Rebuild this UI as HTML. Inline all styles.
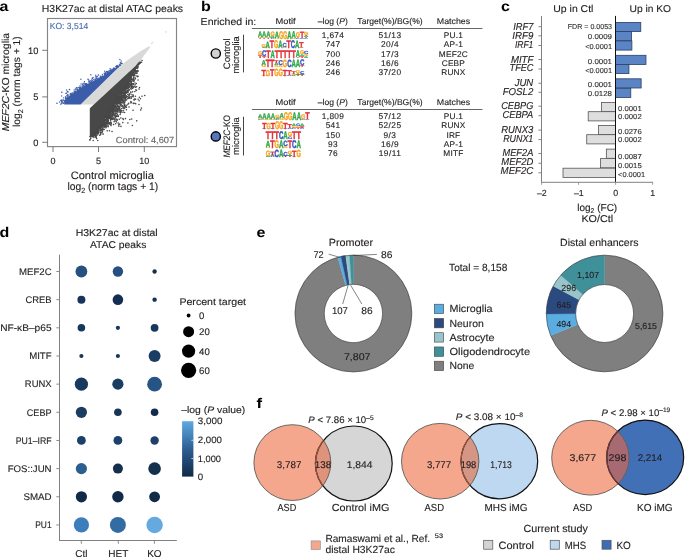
<!DOCTYPE html>
<html><head><meta charset="utf-8"><style>
html,body{margin:0;padding:0;background:#fff;}
svg{display:block;}
text{font-family:"Liberation Sans",sans-serif;}
</style></head><body>
<svg style="will-change:transform;text-rendering:geometricPrecision" width="685" height="557" viewBox="0 0 685 557" font-family="Liberation Sans, sans-serif">
<rect width="685" height="557" fill="#fff"/>
<g fill="#231f20">
<text x="-0.40" y="11.30" font-size="14" textLength="8.90" lengthAdjust="spacingAndGlyphs" fill="#000" font-weight="bold">a</text>
<text x="41.80" y="11.80" font-size="10.2" textLength="141.30" lengthAdjust="spacingAndGlyphs" stroke="#231f20" stroke-width="0.13">H3K27ac at distal ATAC peaks</text>
<rect x="47.50" y="18.50" width="129.00" height="128.10" fill="none" stroke="#858585" stroke-width="1.15" />
<path d="M80.30,104.60 L121.50,65.20 L124.00,62.80 L132.00,57.00 L140.20,51.40 L146.00,48.00 L149.00,46.30 L150.40,46.80 L148.50,49.80 L144.00,55.50 L139.50,62.30 L93.80,104.60Z" fill="#d9d9d9" stroke="none" stroke-width="0.6"/>
<path d="M64.20,104.60 L80.50,104.60 L121.60,64.60 L121.20,64.40 L118.40,66.30 L115.00,68.50 L112.20,70.40 L109.00,72.50 L106.10,74.50 L102.00,76.50 L97.90,78.60 L94.00,80.50 L90.80,82.60 L87.00,84.00 L83.60,86.00 L79.00,89.00 L75.40,91.90 L70.30,95.00 L67.00,97.50 L64.20,101.20Z" fill="#3b5ca9" stroke="none" stroke-width="0.6"/>
<circle cx="110.89" cy="71.38" r="0.70" fill="#3b5ca9" stroke="none" stroke-width="0.8" />
<circle cx="120.13" cy="65.09" r="0.70" fill="#3b5ca9" stroke="none" stroke-width="0.8" />
<circle cx="107.98" cy="73.49" r="0.70" fill="#3b5ca9" stroke="none" stroke-width="0.8" />
<circle cx="91.16" cy="82.60" r="0.70" fill="#3b5ca9" stroke="none" stroke-width="0.8" />
<circle cx="110.69" cy="70.15" r="0.70" fill="#3b5ca9" stroke="none" stroke-width="0.8" />
<circle cx="86.10" cy="83.92" r="0.70" fill="#3b5ca9" stroke="none" stroke-width="0.8" />
<circle cx="119.52" cy="64.88" r="0.70" fill="#3b5ca9" stroke="none" stroke-width="0.8" />
<circle cx="63.41" cy="103.32" r="0.70" fill="#3b5ca9" stroke="none" stroke-width="0.8" />
<circle cx="117.53" cy="67.07" r="0.70" fill="#3b5ca9" stroke="none" stroke-width="0.8" />
<circle cx="64.16" cy="102.02" r="0.70" fill="#3b5ca9" stroke="none" stroke-width="0.8" />
<circle cx="118.25" cy="66.60" r="0.70" fill="#3b5ca9" stroke="none" stroke-width="0.8" />
<circle cx="66.29" cy="98.47" r="0.70" fill="#3b5ca9" stroke="none" stroke-width="0.8" />
<circle cx="109.91" cy="71.32" r="0.70" fill="#3b5ca9" stroke="none" stroke-width="0.8" />
<circle cx="63.15" cy="103.09" r="0.70" fill="#3b5ca9" stroke="none" stroke-width="0.8" />
<circle cx="67.65" cy="97.09" r="0.70" fill="#3b5ca9" stroke="none" stroke-width="0.8" />
<circle cx="84.45" cy="81.72" r="0.70" fill="#3b5ca9" stroke="none" stroke-width="0.8" />
<circle cx="113.61" cy="69.21" r="0.70" fill="#3b5ca9" stroke="none" stroke-width="0.8" />
<circle cx="76.83" cy="89.15" r="0.70" fill="#3b5ca9" stroke="none" stroke-width="0.8" />
<circle cx="78.94" cy="87.55" r="0.70" fill="#3b5ca9" stroke="none" stroke-width="0.8" />
<circle cx="107.80" cy="71.46" r="0.70" fill="#3b5ca9" stroke="none" stroke-width="0.8" />
<circle cx="111.35" cy="71.21" r="0.70" fill="#3b5ca9" stroke="none" stroke-width="0.8" />
<circle cx="67.98" cy="91.98" r="0.70" fill="#3b5ca9" stroke="none" stroke-width="0.8" />
<circle cx="85.13" cy="84.48" r="0.70" fill="#3b5ca9" stroke="none" stroke-width="0.8" />
<circle cx="85.30" cy="84.73" r="0.70" fill="#3b5ca9" stroke="none" stroke-width="0.8" />
<circle cx="104.24" cy="73.47" r="0.70" fill="#3b5ca9" stroke="none" stroke-width="0.8" />
<circle cx="70.52" cy="93.56" r="0.70" fill="#3b5ca9" stroke="none" stroke-width="0.8" />
<circle cx="90.95" cy="82.62" r="0.70" fill="#3b5ca9" stroke="none" stroke-width="0.8" />
<circle cx="95.50" cy="79.69" r="0.70" fill="#3b5ca9" stroke="none" stroke-width="0.8" />
<circle cx="91.41" cy="81.82" r="0.70" fill="#3b5ca9" stroke="none" stroke-width="0.8" />
<circle cx="67.88" cy="97.04" r="0.70" fill="#3b5ca9" stroke="none" stroke-width="0.8" />
<circle cx="86.97" cy="84.26" r="0.70" fill="#3b5ca9" stroke="none" stroke-width="0.8" />
<circle cx="91.16" cy="82.50" r="0.70" fill="#3b5ca9" stroke="none" stroke-width="0.8" />
<circle cx="111.05" cy="70.83" r="0.70" fill="#3b5ca9" stroke="none" stroke-width="0.8" />
<circle cx="64.64" cy="100.72" r="0.70" fill="#3b5ca9" stroke="none" stroke-width="0.8" />
<circle cx="113.80" cy="67.98" r="0.70" fill="#3b5ca9" stroke="none" stroke-width="0.8" />
<circle cx="116.38" cy="66.54" r="0.70" fill="#3b5ca9" stroke="none" stroke-width="0.8" />
<circle cx="66.02" cy="96.92" r="0.70" fill="#3b5ca9" stroke="none" stroke-width="0.8" />
<circle cx="120.30" cy="65.01" r="0.70" fill="#3b5ca9" stroke="none" stroke-width="0.8" />
<circle cx="116.32" cy="67.62" r="0.70" fill="#3b5ca9" stroke="none" stroke-width="0.8" />
<circle cx="109.02" cy="72.55" r="0.70" fill="#3b5ca9" stroke="none" stroke-width="0.8" />
<circle cx="61.39" cy="103.29" r="0.70" fill="#3b5ca9" stroke="none" stroke-width="0.8" />
<circle cx="119.55" cy="64.83" r="0.70" fill="#3b5ca9" stroke="none" stroke-width="0.8" />
<circle cx="121.16" cy="61.03" r="0.70" fill="#3b5ca9" stroke="none" stroke-width="0.8" />
<circle cx="71.10" cy="93.57" r="0.70" fill="#3b5ca9" stroke="none" stroke-width="0.8" />
<circle cx="111.03" cy="69.35" r="0.70" fill="#3b5ca9" stroke="none" stroke-width="0.8" />
<circle cx="99.12" cy="77.91" r="0.70" fill="#3b5ca9" stroke="none" stroke-width="0.8" />
<circle cx="61.22" cy="100.42" r="0.70" fill="#3b5ca9" stroke="none" stroke-width="0.8" />
<circle cx="82.03" cy="85.98" r="0.70" fill="#3b5ca9" stroke="none" stroke-width="0.8" />
<circle cx="89.67" cy="81.56" r="0.70" fill="#3b5ca9" stroke="none" stroke-width="0.8" />
<circle cx="108.77" cy="72.37" r="0.70" fill="#3b5ca9" stroke="none" stroke-width="0.8" />
<circle cx="59.63" cy="102.00" r="0.70" fill="#3b5ca9" stroke="none" stroke-width="0.8" />
<circle cx="104.24" cy="75.33" r="0.70" fill="#3b5ca9" stroke="none" stroke-width="0.8" />
<circle cx="93.14" cy="77.56" r="0.70" fill="#3b5ca9" stroke="none" stroke-width="0.8" />
<circle cx="75.50" cy="91.65" r="0.70" fill="#3b5ca9" stroke="none" stroke-width="0.8" />
<circle cx="63.47" cy="97.86" r="0.70" fill="#3b5ca9" stroke="none" stroke-width="0.8" />
<circle cx="110.11" cy="68.77" r="0.70" fill="#3b5ca9" stroke="none" stroke-width="0.8" />
<circle cx="74.19" cy="92.74" r="0.70" fill="#3b5ca9" stroke="none" stroke-width="0.8" />
<circle cx="107.35" cy="72.81" r="0.70" fill="#3b5ca9" stroke="none" stroke-width="0.8" />
<circle cx="66.86" cy="95.35" r="0.70" fill="#3b5ca9" stroke="none" stroke-width="0.8" />
<circle cx="121.50" cy="63.56" r="0.70" fill="#3b5ca9" stroke="none" stroke-width="0.8" />
<circle cx="116.75" cy="65.77" r="0.70" fill="#3b5ca9" stroke="none" stroke-width="0.8" />
<circle cx="77.87" cy="90.03" r="0.70" fill="#3b5ca9" stroke="none" stroke-width="0.8" />
<circle cx="60.90" cy="104.28" r="0.70" fill="#3b5ca9" stroke="none" stroke-width="0.8" />
<circle cx="71.11" cy="94.61" r="0.70" fill="#3b5ca9" stroke="none" stroke-width="0.8" />
<circle cx="121.95" cy="63.23" r="0.70" fill="#3b5ca9" stroke="none" stroke-width="0.8" />
<circle cx="61.46" cy="101.25" r="0.70" fill="#3b5ca9" stroke="none" stroke-width="0.8" />
<circle cx="102.36" cy="74.37" r="0.70" fill="#3b5ca9" stroke="none" stroke-width="0.8" />
<circle cx="95.21" cy="78.16" r="0.70" fill="#3b5ca9" stroke="none" stroke-width="0.8" />
<circle cx="95.73" cy="75.13" r="0.70" fill="#3b5ca9" stroke="none" stroke-width="0.8" />
<circle cx="96.44" cy="77.90" r="0.70" fill="#3b5ca9" stroke="none" stroke-width="0.8" />
<circle cx="82.75" cy="84.65" r="0.70" fill="#3b5ca9" stroke="none" stroke-width="0.8" />
<circle cx="80.42" cy="88.22" r="0.70" fill="#3b5ca9" stroke="none" stroke-width="0.8" />
<circle cx="121.70" cy="63.43" r="0.70" fill="#3b5ca9" stroke="none" stroke-width="0.8" />
<circle cx="114.67" cy="68.70" r="0.70" fill="#3b5ca9" stroke="none" stroke-width="0.8" />
<circle cx="107.49" cy="72.37" r="0.70" fill="#3b5ca9" stroke="none" stroke-width="0.8" />
<circle cx="81.11" cy="83.95" r="0.70" fill="#3b5ca9" stroke="none" stroke-width="0.8" />
<circle cx="65.76" cy="98.19" r="0.70" fill="#3b5ca9" stroke="none" stroke-width="0.8" />
<circle cx="112.10" cy="69.96" r="0.70" fill="#3b5ca9" stroke="none" stroke-width="0.8" />
<circle cx="91.36" cy="81.38" r="0.70" fill="#3b5ca9" stroke="none" stroke-width="0.8" />
<circle cx="97.13" cy="78.51" r="0.70" fill="#3b5ca9" stroke="none" stroke-width="0.8" />
<circle cx="65.98" cy="93.35" r="0.70" fill="#3b5ca9" stroke="none" stroke-width="0.8" />
<circle cx="100.59" cy="76.81" r="0.70" fill="#3b5ca9" stroke="none" stroke-width="0.8" />
<circle cx="101.01" cy="77.02" r="0.70" fill="#3b5ca9" stroke="none" stroke-width="0.8" />
<circle cx="62.04" cy="101.31" r="0.70" fill="#3b5ca9" stroke="none" stroke-width="0.8" />
<circle cx="75.26" cy="91.43" r="0.70" fill="#3b5ca9" stroke="none" stroke-width="0.8" />
<circle cx="90.94" cy="82.78" r="0.70" fill="#3b5ca9" stroke="none" stroke-width="0.8" />
<circle cx="112.03" cy="70.69" r="0.70" fill="#3b5ca9" stroke="none" stroke-width="0.8" />
<circle cx="94.92" cy="79.58" r="0.70" fill="#3b5ca9" stroke="none" stroke-width="0.8" />
<circle cx="90.83" cy="74.70" r="0.70" fill="#3b5ca9" stroke="none" stroke-width="0.8" />
<circle cx="63.86" cy="100.26" r="0.70" fill="#3b5ca9" stroke="none" stroke-width="0.8" />
<circle cx="117.27" cy="66.20" r="0.70" fill="#3b5ca9" stroke="none" stroke-width="0.8" />
<circle cx="65.87" cy="97.94" r="0.70" fill="#3b5ca9" stroke="none" stroke-width="0.8" />
<circle cx="77.39" cy="90.59" r="0.70" fill="#3b5ca9" stroke="none" stroke-width="0.8" />
<circle cx="117.89" cy="65.48" r="0.70" fill="#3b5ca9" stroke="none" stroke-width="0.8" />
<circle cx="102.41" cy="76.33" r="0.70" fill="#3b5ca9" stroke="none" stroke-width="0.8" />
<circle cx="65.38" cy="99.04" r="0.70" fill="#3b5ca9" stroke="none" stroke-width="0.8" />
<circle cx="61.18" cy="100.55" r="0.70" fill="#3b5ca9" stroke="none" stroke-width="0.8" />
<circle cx="73.00" cy="93.09" r="0.70" fill="#3b5ca9" stroke="none" stroke-width="0.8" />
<circle cx="85.40" cy="84.84" r="0.70" fill="#3b5ca9" stroke="none" stroke-width="0.8" />
<circle cx="102.28" cy="75.98" r="0.70" fill="#3b5ca9" stroke="none" stroke-width="0.8" />
<circle cx="93.39" cy="79.60" r="0.70" fill="#3b5ca9" stroke="none" stroke-width="0.8" />
<circle cx="80.29" cy="87.80" r="0.70" fill="#3b5ca9" stroke="none" stroke-width="0.8" />
<circle cx="85.96" cy="83.83" r="0.70" fill="#3b5ca9" stroke="none" stroke-width="0.8" />
<circle cx="63.20" cy="100.07" r="0.70" fill="#3b5ca9" stroke="none" stroke-width="0.8" />
<circle cx="104.87" cy="73.29" r="0.70" fill="#3b5ca9" stroke="none" stroke-width="0.8" />
<circle cx="107.64" cy="73.58" r="0.70" fill="#3b5ca9" stroke="none" stroke-width="0.8" />
<circle cx="77.37" cy="89.46" r="0.70" fill="#3b5ca9" stroke="none" stroke-width="0.8" />
<circle cx="71.65" cy="94.18" r="0.70" fill="#3b5ca9" stroke="none" stroke-width="0.8" />
<circle cx="91.65" cy="79.99" r="0.70" fill="#3b5ca9" stroke="none" stroke-width="0.8" />
<circle cx="80.88" cy="79.18" r="0.70" fill="#3b5ca9" stroke="none" stroke-width="0.8" />
<circle cx="112.42" cy="69.66" r="0.70" fill="#3b5ca9" stroke="none" stroke-width="0.8" />
<circle cx="96.78" cy="78.23" r="0.70" fill="#3b5ca9" stroke="none" stroke-width="0.8" />
<circle cx="86.05" cy="84.84" r="0.70" fill="#3b5ca9" stroke="none" stroke-width="0.8" />
<circle cx="61.22" cy="100.30" r="0.70" fill="#3b5ca9" stroke="none" stroke-width="0.8" />
<circle cx="74.20" cy="90.03" r="0.70" fill="#3b5ca9" stroke="none" stroke-width="0.8" />
<circle cx="107.97" cy="72.04" r="0.70" fill="#3b5ca9" stroke="none" stroke-width="0.8" />
<circle cx="92.57" cy="80.80" r="0.70" fill="#3b5ca9" stroke="none" stroke-width="0.8" />
<circle cx="88.90" cy="81.46" r="0.70" fill="#3b5ca9" stroke="none" stroke-width="0.8" />
<circle cx="86.59" cy="84.03" r="0.70" fill="#3b5ca9" stroke="none" stroke-width="0.8" />
<circle cx="83.55" cy="85.72" r="0.70" fill="#3b5ca9" stroke="none" stroke-width="0.8" />
<circle cx="82.29" cy="86.91" r="0.70" fill="#3b5ca9" stroke="none" stroke-width="0.8" />
<circle cx="83.14" cy="85.25" r="0.70" fill="#3b5ca9" stroke="none" stroke-width="0.8" />
<circle cx="106.34" cy="74.58" r="0.70" fill="#3b5ca9" stroke="none" stroke-width="0.8" />
<circle cx="104.95" cy="75.06" r="0.70" fill="#3b5ca9" stroke="none" stroke-width="0.8" />
<circle cx="107.14" cy="73.96" r="0.70" fill="#3b5ca9" stroke="none" stroke-width="0.8" />
<circle cx="75.99" cy="91.01" r="0.70" fill="#3b5ca9" stroke="none" stroke-width="0.8" />
<circle cx="100.40" cy="76.14" r="0.70" fill="#3b5ca9" stroke="none" stroke-width="0.8" />
<circle cx="100.78" cy="77.08" r="0.70" fill="#3b5ca9" stroke="none" stroke-width="0.8" />
<circle cx="61.71" cy="95.90" r="0.70" fill="#3b5ca9" stroke="none" stroke-width="0.8" />
<circle cx="119.88" cy="59.47" r="0.70" fill="#3b5ca9" stroke="none" stroke-width="0.8" />
<circle cx="67.65" cy="94.65" r="0.70" fill="#3b5ca9" stroke="none" stroke-width="0.8" />
<circle cx="113.93" cy="68.40" r="0.70" fill="#3b5ca9" stroke="none" stroke-width="0.8" />
<circle cx="120.54" cy="63.04" r="0.70" fill="#3b5ca9" stroke="none" stroke-width="0.8" />
<circle cx="110.82" cy="71.12" r="0.70" fill="#3b5ca9" stroke="none" stroke-width="0.8" />
<circle cx="104.57" cy="71.15" r="0.70" fill="#3b5ca9" stroke="none" stroke-width="0.8" />
<circle cx="70.17" cy="94.19" r="0.70" fill="#3b5ca9" stroke="none" stroke-width="0.8" />
<circle cx="79.98" cy="86.06" r="0.70" fill="#3b5ca9" stroke="none" stroke-width="0.8" />
<circle cx="105.73" cy="74.07" r="0.70" fill="#3b5ca9" stroke="none" stroke-width="0.8" />
<circle cx="97.36" cy="76.55" r="0.70" fill="#3b5ca9" stroke="none" stroke-width="0.8" />
<circle cx="105.41" cy="73.27" r="0.70" fill="#3b5ca9" stroke="none" stroke-width="0.8" />
<circle cx="105.76" cy="72.42" r="0.70" fill="#3b5ca9" stroke="none" stroke-width="0.8" />
<circle cx="90.15" cy="80.67" r="0.70" fill="#3b5ca9" stroke="none" stroke-width="0.8" />
<circle cx="107.04" cy="73.28" r="0.70" fill="#3b5ca9" stroke="none" stroke-width="0.8" />
<circle cx="80.47" cy="87.25" r="0.70" fill="#3b5ca9" stroke="none" stroke-width="0.8" />
<circle cx="85.93" cy="83.68" r="0.70" fill="#3b5ca9" stroke="none" stroke-width="0.8" />
<circle cx="66.57" cy="89.98" r="0.70" fill="#3b5ca9" stroke="none" stroke-width="0.8" />
<circle cx="77.31" cy="87.98" r="0.70" fill="#3b5ca9" stroke="none" stroke-width="0.8" />
<circle cx="88.57" cy="80.01" r="0.70" fill="#3b5ca9" stroke="none" stroke-width="0.8" />
<circle cx="62.12" cy="100.29" r="0.70" fill="#3b5ca9" stroke="none" stroke-width="0.8" />
<circle cx="117.25" cy="67.11" r="0.70" fill="#3b5ca9" stroke="none" stroke-width="0.8" />
<circle cx="108.47" cy="72.11" r="0.70" fill="#3b5ca9" stroke="none" stroke-width="0.8" />
<circle cx="85.53" cy="85.16" r="0.70" fill="#3b5ca9" stroke="none" stroke-width="0.8" />
<circle cx="89.14" cy="82.49" r="0.70" fill="#3b5ca9" stroke="none" stroke-width="0.8" />
<circle cx="79.48" cy="88.25" r="0.70" fill="#3b5ca9" stroke="none" stroke-width="0.8" />
<circle cx="112.33" cy="69.09" r="0.70" fill="#3b5ca9" stroke="none" stroke-width="0.8" />
<circle cx="104.60" cy="74.31" r="0.70" fill="#3b5ca9" stroke="none" stroke-width="0.8" />
<circle cx="72.27" cy="93.04" r="0.70" fill="#3b5ca9" stroke="none" stroke-width="0.8" />
<circle cx="115.82" cy="66.57" r="0.70" fill="#3b5ca9" stroke="none" stroke-width="0.8" />
<circle cx="74.80" cy="91.93" r="0.70" fill="#3b5ca9" stroke="none" stroke-width="0.8" />
<circle cx="67.61" cy="95.85" r="0.70" fill="#3b5ca9" stroke="none" stroke-width="0.8" />
<circle cx="74.18" cy="91.72" r="0.70" fill="#3b5ca9" stroke="none" stroke-width="0.8" />
<circle cx="82.71" cy="83.83" r="0.70" fill="#3b5ca9" stroke="none" stroke-width="0.8" />
<circle cx="79.10" cy="87.39" r="0.70" fill="#3b5ca9" stroke="none" stroke-width="0.8" />
<circle cx="68.09" cy="95.24" r="0.70" fill="#3b5ca9" stroke="none" stroke-width="0.8" />
<circle cx="79.49" cy="88.54" r="0.70" fill="#3b5ca9" stroke="none" stroke-width="0.8" />
<circle cx="85.49" cy="84.90" r="0.70" fill="#3b5ca9" stroke="none" stroke-width="0.8" />
<circle cx="105.73" cy="74.88" r="0.70" fill="#3b5ca9" stroke="none" stroke-width="0.8" />
<circle cx="109.00" cy="70.83" r="0.70" fill="#3b5ca9" stroke="none" stroke-width="0.8" />
<circle cx="106.16" cy="73.97" r="0.70" fill="#3b5ca9" stroke="none" stroke-width="0.8" />
<circle cx="117.81" cy="66.65" r="0.70" fill="#3b5ca9" stroke="none" stroke-width="0.8" />
<circle cx="57.00" cy="103.30" r="0.80" fill="#3b5ca9" stroke="none" stroke-width="0.8" />
<circle cx="61.80" cy="92.30" r="0.80" fill="#3b5ca9" stroke="none" stroke-width="0.8" />
<circle cx="66.40" cy="93.20" r="0.80" fill="#3b5ca9" stroke="none" stroke-width="0.8" />
<circle cx="67.50" cy="91.60" r="0.80" fill="#3b5ca9" stroke="none" stroke-width="0.8" />
<circle cx="69.50" cy="89.60" r="0.80" fill="#3b5ca9" stroke="none" stroke-width="0.8" />
<circle cx="75.50" cy="89.10" r="0.80" fill="#3b5ca9" stroke="none" stroke-width="0.8" />
<circle cx="76.50" cy="87.80" r="0.80" fill="#3b5ca9" stroke="none" stroke-width="0.8" />
<circle cx="84.00" cy="83.40" r="0.80" fill="#3b5ca9" stroke="none" stroke-width="0.8" />
<circle cx="88.00" cy="79.20" r="0.80" fill="#3b5ca9" stroke="none" stroke-width="0.8" />
<circle cx="92.30" cy="78.40" r="0.80" fill="#3b5ca9" stroke="none" stroke-width="0.8" />
<circle cx="96.00" cy="76.60" r="0.80" fill="#3b5ca9" stroke="none" stroke-width="0.8" />
<circle cx="98.40" cy="75.00" r="0.80" fill="#3b5ca9" stroke="none" stroke-width="0.8" />
<circle cx="106.50" cy="71.50" r="0.80" fill="#3b5ca9" stroke="none" stroke-width="0.8" />
<circle cx="110.00" cy="70.50" r="0.80" fill="#3b5ca9" stroke="none" stroke-width="0.8" />
<circle cx="114.50" cy="68.60" r="0.80" fill="#3b5ca9" stroke="none" stroke-width="0.8" />
<circle cx="117.50" cy="66.80" r="0.80" fill="#3b5ca9" stroke="none" stroke-width="0.8" />
<circle cx="120.30" cy="63.00" r="0.80" fill="#3b5ca9" stroke="none" stroke-width="0.8" />
<circle cx="62.20" cy="102.40" r="0.80" fill="#3b5ca9" stroke="none" stroke-width="0.8" />
<circle cx="65.50" cy="97.00" r="0.80" fill="#3b5ca9" stroke="none" stroke-width="0.8" />
<path d="M89.80,108.30 L139.50,62.30 L139.60,62.30 L137.00,66.00 L134.30,70.00 L129.00,80.00 L123.00,90.00 L116.50,100.00 L110.50,110.00 L104.00,120.00 L99.00,128.00 L95.00,134.00 L92.00,136.50 L89.80,137.00Z" fill="#484848" stroke="none" stroke-width="0.6"/>
<circle cx="130.92" cy="84.21" r="0.80" fill="#484848" stroke="none" stroke-width="0.8" />
<circle cx="120.51" cy="112.70" r="0.80" fill="#484848" stroke="none" stroke-width="0.8" />
<circle cx="95.64" cy="134.26" r="0.80" fill="#484848" stroke="none" stroke-width="0.8" />
<circle cx="132.95" cy="83.89" r="0.80" fill="#484848" stroke="none" stroke-width="0.8" />
<circle cx="106.50" cy="119.87" r="0.80" fill="#484848" stroke="none" stroke-width="0.8" />
<circle cx="137.28" cy="71.25" r="0.80" fill="#484848" stroke="none" stroke-width="0.8" />
<circle cx="130.93" cy="76.89" r="0.80" fill="#484848" stroke="none" stroke-width="0.8" />
<circle cx="111.77" cy="117.20" r="0.80" fill="#484848" stroke="none" stroke-width="0.8" />
<circle cx="111.29" cy="115.65" r="0.80" fill="#484848" stroke="none" stroke-width="0.8" />
<circle cx="115.15" cy="115.77" r="0.80" fill="#484848" stroke="none" stroke-width="0.8" />
<circle cx="120.05" cy="94.16" r="0.80" fill="#484848" stroke="none" stroke-width="0.8" />
<circle cx="103.98" cy="122.56" r="0.80" fill="#484848" stroke="none" stroke-width="0.8" />
<circle cx="107.14" cy="125.06" r="0.80" fill="#484848" stroke="none" stroke-width="0.8" />
<circle cx="116.49" cy="116.15" r="0.80" fill="#484848" stroke="none" stroke-width="0.8" />
<circle cx="115.58" cy="106.84" r="0.80" fill="#484848" stroke="none" stroke-width="0.8" />
<circle cx="106.32" cy="117.56" r="0.80" fill="#484848" stroke="none" stroke-width="0.8" />
<circle cx="94.13" cy="135.03" r="0.80" fill="#484848" stroke="none" stroke-width="0.8" />
<circle cx="95.94" cy="136.15" r="0.80" fill="#484848" stroke="none" stroke-width="0.8" />
<circle cx="118.91" cy="110.35" r="0.80" fill="#484848" stroke="none" stroke-width="0.8" />
<circle cx="125.73" cy="88.54" r="0.80" fill="#484848" stroke="none" stroke-width="0.8" />
<circle cx="112.28" cy="106.64" r="0.80" fill="#484848" stroke="none" stroke-width="0.8" />
<circle cx="123.63" cy="97.20" r="0.80" fill="#484848" stroke="none" stroke-width="0.8" />
<circle cx="125.58" cy="88.96" r="0.80" fill="#484848" stroke="none" stroke-width="0.8" />
<circle cx="112.74" cy="106.23" r="0.80" fill="#484848" stroke="none" stroke-width="0.8" />
<circle cx="106.15" cy="122.52" r="0.80" fill="#484848" stroke="none" stroke-width="0.8" />
<circle cx="109.99" cy="117.02" r="0.80" fill="#484848" stroke="none" stroke-width="0.8" />
<circle cx="112.19" cy="110.51" r="0.80" fill="#484848" stroke="none" stroke-width="0.8" />
<circle cx="117.11" cy="106.67" r="0.80" fill="#484848" stroke="none" stroke-width="0.8" />
<circle cx="102.55" cy="129.58" r="0.80" fill="#484848" stroke="none" stroke-width="0.8" />
<circle cx="95.94" cy="132.06" r="0.80" fill="#484848" stroke="none" stroke-width="0.8" />
<circle cx="138.75" cy="63.80" r="0.80" fill="#484848" stroke="none" stroke-width="0.8" />
<circle cx="120.47" cy="112.85" r="0.80" fill="#484848" stroke="none" stroke-width="0.8" />
<circle cx="129.80" cy="94.21" r="0.80" fill="#484848" stroke="none" stroke-width="0.8" />
<circle cx="102.34" cy="127.85" r="0.80" fill="#484848" stroke="none" stroke-width="0.8" />
<circle cx="111.98" cy="107.77" r="0.80" fill="#484848" stroke="none" stroke-width="0.8" />
<circle cx="140.34" cy="62.93" r="0.80" fill="#484848" stroke="none" stroke-width="0.8" />
<circle cx="115.05" cy="105.69" r="0.80" fill="#484848" stroke="none" stroke-width="0.8" />
<circle cx="106.22" cy="119.78" r="0.80" fill="#484848" stroke="none" stroke-width="0.8" />
<circle cx="107.11" cy="117.63" r="0.80" fill="#484848" stroke="none" stroke-width="0.8" />
<circle cx="134.46" cy="70.67" r="0.80" fill="#484848" stroke="none" stroke-width="0.8" />
<circle cx="127.58" cy="88.41" r="0.80" fill="#484848" stroke="none" stroke-width="0.8" />
<circle cx="120.25" cy="102.58" r="0.80" fill="#484848" stroke="none" stroke-width="0.8" />
<circle cx="131.39" cy="85.42" r="0.80" fill="#484848" stroke="none" stroke-width="0.8" />
<circle cx="105.46" cy="117.20" r="0.80" fill="#484848" stroke="none" stroke-width="0.8" />
<circle cx="118.94" cy="106.69" r="0.80" fill="#484848" stroke="none" stroke-width="0.8" />
<circle cx="122.20" cy="103.03" r="0.80" fill="#484848" stroke="none" stroke-width="0.8" />
<circle cx="131.44" cy="96.96" r="0.80" fill="#484848" stroke="none" stroke-width="0.8" />
<circle cx="108.62" cy="115.14" r="0.80" fill="#484848" stroke="none" stroke-width="0.8" />
<circle cx="98.90" cy="128.50" r="0.80" fill="#484848" stroke="none" stroke-width="0.8" />
<circle cx="126.04" cy="85.14" r="0.80" fill="#484848" stroke="none" stroke-width="0.8" />
<circle cx="137.04" cy="73.21" r="0.80" fill="#484848" stroke="none" stroke-width="0.8" />
<circle cx="119.04" cy="112.13" r="0.80" fill="#484848" stroke="none" stroke-width="0.8" />
<circle cx="107.04" cy="119.30" r="0.80" fill="#484848" stroke="none" stroke-width="0.8" />
<circle cx="104.41" cy="119.61" r="0.80" fill="#484848" stroke="none" stroke-width="0.8" />
<circle cx="121.81" cy="110.46" r="0.80" fill="#484848" stroke="none" stroke-width="0.8" />
<circle cx="110.43" cy="110.14" r="0.80" fill="#484848" stroke="none" stroke-width="0.8" />
<circle cx="125.35" cy="106.54" r="0.80" fill="#484848" stroke="none" stroke-width="0.8" />
<circle cx="129.21" cy="97.49" r="0.80" fill="#484848" stroke="none" stroke-width="0.8" />
<circle cx="138.88" cy="63.30" r="0.80" fill="#484848" stroke="none" stroke-width="0.8" />
<circle cx="103.99" cy="119.97" r="0.80" fill="#484848" stroke="none" stroke-width="0.8" />
<circle cx="114.32" cy="103.77" r="0.80" fill="#484848" stroke="none" stroke-width="0.8" />
<circle cx="125.55" cy="87.64" r="0.80" fill="#484848" stroke="none" stroke-width="0.8" />
<circle cx="128.11" cy="81.84" r="0.80" fill="#484848" stroke="none" stroke-width="0.8" />
<circle cx="133.97" cy="75.12" r="0.80" fill="#484848" stroke="none" stroke-width="0.8" />
<circle cx="130.84" cy="85.05" r="0.80" fill="#484848" stroke="none" stroke-width="0.8" />
<circle cx="129.79" cy="81.56" r="0.80" fill="#484848" stroke="none" stroke-width="0.8" />
<circle cx="137.59" cy="76.67" r="0.80" fill="#484848" stroke="none" stroke-width="0.8" />
<circle cx="116.10" cy="110.51" r="0.80" fill="#484848" stroke="none" stroke-width="0.8" />
<circle cx="144.69" cy="95.45" r="0.80" fill="#484848" stroke="none" stroke-width="0.8" />
<circle cx="116.50" cy="111.36" r="0.80" fill="#484848" stroke="none" stroke-width="0.8" />
<circle cx="108.07" cy="126.66" r="0.80" fill="#484848" stroke="none" stroke-width="0.8" />
<circle cx="107.02" cy="116.19" r="0.80" fill="#484848" stroke="none" stroke-width="0.8" />
<circle cx="97.38" cy="130.30" r="0.80" fill="#484848" stroke="none" stroke-width="0.8" />
<circle cx="112.32" cy="106.97" r="0.80" fill="#484848" stroke="none" stroke-width="0.8" />
<circle cx="128.04" cy="92.22" r="0.80" fill="#484848" stroke="none" stroke-width="0.8" />
<circle cx="101.24" cy="126.16" r="0.80" fill="#484848" stroke="none" stroke-width="0.8" />
<circle cx="113.86" cy="109.80" r="0.80" fill="#484848" stroke="none" stroke-width="0.8" />
<circle cx="105.89" cy="127.86" r="0.80" fill="#484848" stroke="none" stroke-width="0.8" />
<circle cx="138.56" cy="63.77" r="0.80" fill="#484848" stroke="none" stroke-width="0.8" />
<circle cx="113.99" cy="106.42" r="0.80" fill="#484848" stroke="none" stroke-width="0.8" />
<circle cx="129.38" cy="79.82" r="0.80" fill="#484848" stroke="none" stroke-width="0.8" />
<circle cx="112.05" cy="108.14" r="0.80" fill="#484848" stroke="none" stroke-width="0.8" />
<circle cx="122.98" cy="112.26" r="0.80" fill="#484848" stroke="none" stroke-width="0.8" />
<circle cx="128.91" cy="80.13" r="0.80" fill="#484848" stroke="none" stroke-width="0.8" />
<circle cx="115.14" cy="103.00" r="0.80" fill="#484848" stroke="none" stroke-width="0.8" />
<circle cx="110.15" cy="112.03" r="0.80" fill="#484848" stroke="none" stroke-width="0.8" />
<circle cx="131.26" cy="81.65" r="0.80" fill="#484848" stroke="none" stroke-width="0.8" />
<circle cx="123.17" cy="93.16" r="0.80" fill="#484848" stroke="none" stroke-width="0.8" />
<circle cx="126.53" cy="86.31" r="0.80" fill="#484848" stroke="none" stroke-width="0.8" />
<circle cx="132.37" cy="73.46" r="0.80" fill="#484848" stroke="none" stroke-width="0.8" />
<circle cx="108.89" cy="112.93" r="0.80" fill="#484848" stroke="none" stroke-width="0.8" />
<circle cx="115.08" cy="108.27" r="0.80" fill="#484848" stroke="none" stroke-width="0.8" />
<circle cx="135.04" cy="73.75" r="0.80" fill="#484848" stroke="none" stroke-width="0.8" />
<circle cx="111.80" cy="111.69" r="0.80" fill="#484848" stroke="none" stroke-width="0.8" />
<circle cx="120.81" cy="118.05" r="0.80" fill="#484848" stroke="none" stroke-width="0.8" />
<circle cx="134.77" cy="103.21" r="0.80" fill="#484848" stroke="none" stroke-width="0.8" />
<circle cx="131.44" cy="98.09" r="0.80" fill="#484848" stroke="none" stroke-width="0.8" />
<circle cx="102.73" cy="128.57" r="0.80" fill="#484848" stroke="none" stroke-width="0.8" />
<circle cx="117.78" cy="102.08" r="0.80" fill="#484848" stroke="none" stroke-width="0.8" />
<circle cx="116.51" cy="101.38" r="0.80" fill="#484848" stroke="none" stroke-width="0.8" />
<circle cx="113.00" cy="106.20" r="0.80" fill="#484848" stroke="none" stroke-width="0.8" />
<circle cx="136.62" cy="66.36" r="0.80" fill="#484848" stroke="none" stroke-width="0.8" />
<circle cx="133.45" cy="87.58" r="0.80" fill="#484848" stroke="none" stroke-width="0.8" />
<circle cx="127.58" cy="86.87" r="0.80" fill="#484848" stroke="none" stroke-width="0.8" />
<circle cx="133.83" cy="71.97" r="0.80" fill="#484848" stroke="none" stroke-width="0.8" />
<circle cx="125.03" cy="92.77" r="0.80" fill="#484848" stroke="none" stroke-width="0.8" />
<circle cx="116.56" cy="102.28" r="0.80" fill="#484848" stroke="none" stroke-width="0.8" />
<circle cx="126.56" cy="92.61" r="0.80" fill="#484848" stroke="none" stroke-width="0.8" />
<circle cx="105.54" cy="125.65" r="0.80" fill="#484848" stroke="none" stroke-width="0.8" />
<circle cx="121.19" cy="97.05" r="0.80" fill="#484848" stroke="none" stroke-width="0.8" />
<circle cx="101.30" cy="125.81" r="0.80" fill="#484848" stroke="none" stroke-width="0.8" />
<circle cx="97.85" cy="131.70" r="0.80" fill="#484848" stroke="none" stroke-width="0.8" />
<circle cx="118.36" cy="98.83" r="0.80" fill="#484848" stroke="none" stroke-width="0.8" />
<circle cx="125.76" cy="89.25" r="0.80" fill="#484848" stroke="none" stroke-width="0.8" />
<circle cx="133.48" cy="72.47" r="0.80" fill="#484848" stroke="none" stroke-width="0.8" />
<circle cx="109.53" cy="113.66" r="0.80" fill="#484848" stroke="none" stroke-width="0.8" />
<circle cx="118.31" cy="116.15" r="0.80" fill="#484848" stroke="none" stroke-width="0.8" />
<circle cx="121.40" cy="98.65" r="0.80" fill="#484848" stroke="none" stroke-width="0.8" />
<circle cx="134.33" cy="70.42" r="0.80" fill="#484848" stroke="none" stroke-width="0.8" />
<circle cx="102.98" cy="123.29" r="0.80" fill="#484848" stroke="none" stroke-width="0.8" />
<circle cx="119.09" cy="96.63" r="0.80" fill="#484848" stroke="none" stroke-width="0.8" />
<circle cx="113.23" cy="114.83" r="0.80" fill="#484848" stroke="none" stroke-width="0.8" />
<circle cx="122.65" cy="99.39" r="0.80" fill="#484848" stroke="none" stroke-width="0.8" />
<circle cx="100.61" cy="134.66" r="0.80" fill="#484848" stroke="none" stroke-width="0.8" />
<circle cx="119.33" cy="97.01" r="0.80" fill="#484848" stroke="none" stroke-width="0.8" />
<circle cx="112.89" cy="107.47" r="0.80" fill="#484848" stroke="none" stroke-width="0.8" />
<circle cx="122.76" cy="98.85" r="0.80" fill="#484848" stroke="none" stroke-width="0.8" />
<circle cx="111.92" cy="111.36" r="0.80" fill="#484848" stroke="none" stroke-width="0.8" />
<circle cx="105.35" cy="119.51" r="0.80" fill="#484848" stroke="none" stroke-width="0.8" />
<circle cx="121.42" cy="96.76" r="0.80" fill="#484848" stroke="none" stroke-width="0.8" />
<circle cx="127.31" cy="88.34" r="0.80" fill="#484848" stroke="none" stroke-width="0.8" />
<circle cx="97.29" cy="130.59" r="0.80" fill="#484848" stroke="none" stroke-width="0.8" />
<circle cx="118.55" cy="99.06" r="0.80" fill="#484848" stroke="none" stroke-width="0.8" />
<circle cx="128.82" cy="98.03" r="0.80" fill="#484848" stroke="none" stroke-width="0.8" />
<circle cx="138.65" cy="63.66" r="0.80" fill="#484848" stroke="none" stroke-width="0.8" />
<circle cx="112.82" cy="112.56" r="0.80" fill="#484848" stroke="none" stroke-width="0.8" />
<circle cx="97.59" cy="131.71" r="0.80" fill="#484848" stroke="none" stroke-width="0.8" />
<circle cx="116.79" cy="104.66" r="0.80" fill="#484848" stroke="none" stroke-width="0.8" />
<circle cx="132.87" cy="72.64" r="0.80" fill="#484848" stroke="none" stroke-width="0.8" />
<circle cx="116.71" cy="101.59" r="0.80" fill="#484848" stroke="none" stroke-width="0.8" />
<circle cx="133.27" cy="72.89" r="0.80" fill="#484848" stroke="none" stroke-width="0.8" />
<circle cx="135.37" cy="77.97" r="0.80" fill="#484848" stroke="none" stroke-width="0.8" />
<circle cx="116.36" cy="99.78" r="0.80" fill="#484848" stroke="none" stroke-width="0.8" />
<circle cx="121.36" cy="95.65" r="0.80" fill="#484848" stroke="none" stroke-width="0.8" />
<circle cx="130.81" cy="77.86" r="0.80" fill="#484848" stroke="none" stroke-width="0.8" />
<circle cx="118.13" cy="116.07" r="0.80" fill="#484848" stroke="none" stroke-width="0.8" />
<circle cx="129.98" cy="98.43" r="0.80" fill="#484848" stroke="none" stroke-width="0.8" />
<circle cx="95.57" cy="132.83" r="0.80" fill="#484848" stroke="none" stroke-width="0.8" />
<circle cx="128.41" cy="81.95" r="0.80" fill="#484848" stroke="none" stroke-width="0.8" />
<circle cx="102.59" cy="124.88" r="0.80" fill="#484848" stroke="none" stroke-width="0.8" />
<circle cx="124.60" cy="108.25" r="0.80" fill="#484848" stroke="none" stroke-width="0.8" />
<circle cx="121.17" cy="111.89" r="0.80" fill="#484848" stroke="none" stroke-width="0.8" />
<circle cx="127.67" cy="98.82" r="0.80" fill="#484848" stroke="none" stroke-width="0.8" />
<circle cx="96.87" cy="133.39" r="0.80" fill="#484848" stroke="none" stroke-width="0.8" />
<circle cx="99.62" cy="126.67" r="0.80" fill="#484848" stroke="none" stroke-width="0.8" />
<circle cx="114.12" cy="103.91" r="0.80" fill="#484848" stroke="none" stroke-width="0.8" />
<circle cx="111.26" cy="109.31" r="0.80" fill="#484848" stroke="none" stroke-width="0.8" />
<circle cx="103.96" cy="124.69" r="0.80" fill="#484848" stroke="none" stroke-width="0.8" />
<circle cx="123.67" cy="90.46" r="0.80" fill="#484848" stroke="none" stroke-width="0.8" />
<circle cx="113.99" cy="106.14" r="0.80" fill="#484848" stroke="none" stroke-width="0.8" />
<circle cx="108.51" cy="116.27" r="0.80" fill="#484848" stroke="none" stroke-width="0.8" />
<circle cx="136.61" cy="86.71" r="0.80" fill="#484848" stroke="none" stroke-width="0.8" />
<circle cx="133.51" cy="77.03" r="0.80" fill="#484848" stroke="none" stroke-width="0.8" />
<circle cx="107.80" cy="123.44" r="0.80" fill="#484848" stroke="none" stroke-width="0.8" />
<circle cx="109.41" cy="116.07" r="0.80" fill="#484848" stroke="none" stroke-width="0.8" />
<circle cx="136.42" cy="73.35" r="0.80" fill="#484848" stroke="none" stroke-width="0.8" />
<circle cx="126.39" cy="97.18" r="0.80" fill="#484848" stroke="none" stroke-width="0.8" />
<circle cx="112.70" cy="119.46" r="0.80" fill="#484848" stroke="none" stroke-width="0.8" />
<circle cx="130.62" cy="79.77" r="0.80" fill="#484848" stroke="none" stroke-width="0.8" />
<circle cx="125.46" cy="118.58" r="0.80" fill="#484848" stroke="none" stroke-width="0.8" />
<circle cx="132.22" cy="79.44" r="0.80" fill="#484848" stroke="none" stroke-width="0.8" />
<circle cx="126.11" cy="92.60" r="0.80" fill="#484848" stroke="none" stroke-width="0.8" />
<circle cx="117.31" cy="100.12" r="0.80" fill="#484848" stroke="none" stroke-width="0.8" />
<circle cx="105.52" cy="117.44" r="0.80" fill="#484848" stroke="none" stroke-width="0.8" />
<circle cx="111.48" cy="109.05" r="0.80" fill="#484848" stroke="none" stroke-width="0.8" />
<circle cx="116.10" cy="115.66" r="0.80" fill="#484848" stroke="none" stroke-width="0.8" />
<circle cx="113.72" cy="113.55" r="0.80" fill="#484848" stroke="none" stroke-width="0.8" />
<circle cx="97.96" cy="130.95" r="0.80" fill="#484848" stroke="none" stroke-width="0.8" />
<circle cx="116.11" cy="102.21" r="0.80" fill="#484848" stroke="none" stroke-width="0.8" />
<circle cx="95.80" cy="136.56" r="0.80" fill="#484848" stroke="none" stroke-width="0.8" />
<circle cx="134.25" cy="74.48" r="0.80" fill="#484848" stroke="none" stroke-width="0.8" />
<circle cx="118.01" cy="106.48" r="0.80" fill="#484848" stroke="none" stroke-width="0.8" />
<circle cx="103.14" cy="123.45" r="0.80" fill="#484848" stroke="none" stroke-width="0.8" />
<circle cx="120.61" cy="96.65" r="0.80" fill="#484848" stroke="none" stroke-width="0.8" />
<circle cx="117.83" cy="99.65" r="0.80" fill="#484848" stroke="none" stroke-width="0.8" />
<circle cx="100.32" cy="130.51" r="0.80" fill="#484848" stroke="none" stroke-width="0.8" />
<circle cx="105.84" cy="116.58" r="0.80" fill="#484848" stroke="none" stroke-width="0.8" />
<circle cx="115.64" cy="103.76" r="0.80" fill="#484848" stroke="none" stroke-width="0.8" />
<circle cx="133.29" cy="95.17" r="0.80" fill="#484848" stroke="none" stroke-width="0.8" />
<circle cx="109.62" cy="110.83" r="0.80" fill="#484848" stroke="none" stroke-width="0.8" />
<circle cx="115.71" cy="101.76" r="0.80" fill="#484848" stroke="none" stroke-width="0.8" />
<circle cx="95.53" cy="133.53" r="0.80" fill="#484848" stroke="none" stroke-width="0.8" />
<circle cx="107.78" cy="116.90" r="0.80" fill="#484848" stroke="none" stroke-width="0.8" />
<circle cx="115.82" cy="107.57" r="0.80" fill="#484848" stroke="none" stroke-width="0.8" />
<circle cx="128.09" cy="86.96" r="0.80" fill="#484848" stroke="none" stroke-width="0.8" />
<circle cx="117.74" cy="100.06" r="0.80" fill="#484848" stroke="none" stroke-width="0.8" />
<circle cx="117.05" cy="108.26" r="0.80" fill="#484848" stroke="none" stroke-width="0.8" />
<circle cx="135.36" cy="70.37" r="0.80" fill="#484848" stroke="none" stroke-width="0.8" />
<circle cx="119.46" cy="102.03" r="0.80" fill="#484848" stroke="none" stroke-width="0.8" />
<circle cx="95.05" cy="133.38" r="0.80" fill="#484848" stroke="none" stroke-width="0.8" />
<circle cx="105.87" cy="119.80" r="0.80" fill="#484848" stroke="none" stroke-width="0.8" />
<circle cx="103.68" cy="121.33" r="0.80" fill="#484848" stroke="none" stroke-width="0.8" />
<circle cx="109.61" cy="113.93" r="0.80" fill="#484848" stroke="none" stroke-width="0.8" />
<circle cx="108.99" cy="113.69" r="0.80" fill="#484848" stroke="none" stroke-width="0.8" />
<circle cx="126.41" cy="88.76" r="0.80" fill="#484848" stroke="none" stroke-width="0.8" />
<circle cx="96.96" cy="134.99" r="0.80" fill="#484848" stroke="none" stroke-width="0.8" />
<circle cx="100.72" cy="125.60" r="0.80" fill="#484848" stroke="none" stroke-width="0.8" />
<circle cx="130.08" cy="77.26" r="0.80" fill="#484848" stroke="none" stroke-width="0.8" />
<circle cx="105.20" cy="118.93" r="0.80" fill="#484848" stroke="none" stroke-width="0.8" />
<circle cx="99.67" cy="126.77" r="0.80" fill="#484848" stroke="none" stroke-width="0.8" />
<circle cx="128.56" cy="87.14" r="0.80" fill="#484848" stroke="none" stroke-width="0.8" />
<circle cx="120.83" cy="98.52" r="0.80" fill="#484848" stroke="none" stroke-width="0.8" />
<circle cx="99.92" cy="127.72" r="0.80" fill="#484848" stroke="none" stroke-width="0.8" />
<circle cx="103.10" cy="134.17" r="0.80" fill="#484848" stroke="none" stroke-width="0.8" />
<circle cx="117.66" cy="98.56" r="0.80" fill="#484848" stroke="none" stroke-width="0.8" />
<circle cx="117.58" cy="103.25" r="0.80" fill="#484848" stroke="none" stroke-width="0.8" />
<circle cx="123.98" cy="95.78" r="0.80" fill="#484848" stroke="none" stroke-width="0.8" />
<circle cx="108.18" cy="113.13" r="0.80" fill="#484848" stroke="none" stroke-width="0.8" />
<circle cx="117.85" cy="97.73" r="0.80" fill="#484848" stroke="none" stroke-width="0.8" />
<circle cx="131.54" cy="102.56" r="0.80" fill="#484848" stroke="none" stroke-width="0.8" />
<circle cx="95.71" cy="132.71" r="0.80" fill="#484848" stroke="none" stroke-width="0.8" />
<circle cx="122.10" cy="99.51" r="0.80" fill="#484848" stroke="none" stroke-width="0.8" />
<circle cx="109.71" cy="117.45" r="0.80" fill="#484848" stroke="none" stroke-width="0.8" />
<circle cx="131.24" cy="86.68" r="0.80" fill="#484848" stroke="none" stroke-width="0.8" />
<circle cx="121.27" cy="98.13" r="0.80" fill="#484848" stroke="none" stroke-width="0.8" />
<circle cx="110.79" cy="115.61" r="0.80" fill="#484848" stroke="none" stroke-width="0.8" />
<circle cx="121.60" cy="96.15" r="0.80" fill="#484848" stroke="none" stroke-width="0.8" />
<circle cx="132.33" cy="96.23" r="0.80" fill="#484848" stroke="none" stroke-width="0.8" />
<circle cx="109.80" cy="111.38" r="0.80" fill="#484848" stroke="none" stroke-width="0.8" />
<circle cx="100.69" cy="127.84" r="0.80" fill="#484848" stroke="none" stroke-width="0.8" />
<circle cx="119.66" cy="124.13" r="0.80" fill="#484848" stroke="none" stroke-width="0.8" />
<circle cx="127.89" cy="122.98" r="0.80" fill="#484848" stroke="none" stroke-width="0.8" />
<circle cx="126.14" cy="86.77" r="0.80" fill="#484848" stroke="none" stroke-width="0.8" />
<circle cx="134.98" cy="82.99" r="0.80" fill="#484848" stroke="none" stroke-width="0.8" />
<circle cx="123.28" cy="93.29" r="0.80" fill="#484848" stroke="none" stroke-width="0.8" />
<circle cx="119.95" cy="103.06" r="0.80" fill="#484848" stroke="none" stroke-width="0.8" />
<circle cx="107.67" cy="119.92" r="0.80" fill="#484848" stroke="none" stroke-width="0.8" />
<circle cx="113.27" cy="109.33" r="0.80" fill="#484848" stroke="none" stroke-width="0.8" />
<circle cx="109.81" cy="112.63" r="0.80" fill="#484848" stroke="none" stroke-width="0.8" />
<circle cx="114.38" cy="108.12" r="0.80" fill="#484848" stroke="none" stroke-width="0.8" />
<circle cx="119.52" cy="101.65" r="0.80" fill="#484848" stroke="none" stroke-width="0.8" />
<circle cx="112.53" cy="111.15" r="0.80" fill="#484848" stroke="none" stroke-width="0.8" />
<circle cx="123.18" cy="106.71" r="0.80" fill="#484848" stroke="none" stroke-width="0.8" />
<circle cx="129.32" cy="93.94" r="0.80" fill="#484848" stroke="none" stroke-width="0.8" />
<circle cx="127.21" cy="83.73" r="0.80" fill="#484848" stroke="none" stroke-width="0.8" />
<circle cx="122.85" cy="89.92" r="0.80" fill="#484848" stroke="none" stroke-width="0.8" />
<circle cx="115.62" cy="115.93" r="0.80" fill="#484848" stroke="none" stroke-width="0.8" />
<circle cx="123.68" cy="100.77" r="0.80" fill="#484848" stroke="none" stroke-width="0.8" />
<circle cx="123.86" cy="87.80" r="0.80" fill="#484848" stroke="none" stroke-width="0.8" />
<circle cx="106.46" cy="126.16" r="0.80" fill="#484848" stroke="none" stroke-width="0.8" />
<circle cx="128.43" cy="85.33" r="0.80" fill="#484848" stroke="none" stroke-width="0.8" />
<circle cx="98.26" cy="130.01" r="0.80" fill="#484848" stroke="none" stroke-width="0.8" />
<circle cx="115.35" cy="112.99" r="0.80" fill="#484848" stroke="none" stroke-width="0.8" />
<circle cx="124.93" cy="86.31" r="0.80" fill="#484848" stroke="none" stroke-width="0.8" />
<circle cx="134.04" cy="99.92" r="0.80" fill="#484848" stroke="none" stroke-width="0.8" />
<circle cx="116.18" cy="103.38" r="0.80" fill="#484848" stroke="none" stroke-width="0.8" />
<circle cx="133.40" cy="75.29" r="0.80" fill="#484848" stroke="none" stroke-width="0.8" />
<circle cx="120.12" cy="103.44" r="0.80" fill="#484848" stroke="none" stroke-width="0.8" />
<circle cx="114.29" cy="110.52" r="0.80" fill="#484848" stroke="none" stroke-width="0.8" />
<circle cx="98.77" cy="130.99" r="0.80" fill="#484848" stroke="none" stroke-width="0.8" />
<circle cx="121.71" cy="96.39" r="0.80" fill="#484848" stroke="none" stroke-width="0.8" />
<circle cx="128.95" cy="90.17" r="0.80" fill="#484848" stroke="none" stroke-width="0.8" />
<circle cx="131.74" cy="74.65" r="0.80" fill="#484848" stroke="none" stroke-width="0.8" />
<circle cx="106.14" cy="124.08" r="0.80" fill="#484848" stroke="none" stroke-width="0.8" />
<circle cx="139.53" cy="87.54" r="0.80" fill="#484848" stroke="none" stroke-width="0.8" />
<circle cx="95.63" cy="135.53" r="0.80" fill="#484848" stroke="none" stroke-width="0.8" />
<circle cx="114.19" cy="115.53" r="0.80" fill="#484848" stroke="none" stroke-width="0.8" />
<circle cx="110.99" cy="108.70" r="0.80" fill="#484848" stroke="none" stroke-width="0.8" />
<circle cx="117.73" cy="108.70" r="0.80" fill="#484848" stroke="none" stroke-width="0.8" />
<circle cx="116.42" cy="121.92" r="0.80" fill="#484848" stroke="none" stroke-width="0.8" />
<circle cx="113.74" cy="104.22" r="0.80" fill="#484848" stroke="none" stroke-width="0.8" />
<circle cx="137.87" cy="67.67" r="0.80" fill="#484848" stroke="none" stroke-width="0.8" />
<circle cx="108.15" cy="125.73" r="0.80" fill="#484848" stroke="none" stroke-width="0.8" />
<circle cx="90.73" cy="138.41" r="0.80" fill="#484848" stroke="none" stroke-width="0.8" />
<circle cx="138.12" cy="99.25" r="0.80" fill="#484848" stroke="none" stroke-width="0.8" />
<circle cx="103.78" cy="124.58" r="0.80" fill="#484848" stroke="none" stroke-width="0.8" />
<circle cx="124.16" cy="107.05" r="0.80" fill="#484848" stroke="none" stroke-width="0.8" />
<circle cx="128.97" cy="79.13" r="0.80" fill="#484848" stroke="none" stroke-width="0.8" />
<circle cx="105.63" cy="123.49" r="0.80" fill="#484848" stroke="none" stroke-width="0.8" />
<circle cx="122.53" cy="91.92" r="0.80" fill="#484848" stroke="none" stroke-width="0.8" />
<circle cx="135.00" cy="75.69" r="0.80" fill="#484848" stroke="none" stroke-width="0.8" />
<circle cx="124.17" cy="93.08" r="0.80" fill="#484848" stroke="none" stroke-width="0.8" />
<circle cx="124.87" cy="88.20" r="0.80" fill="#484848" stroke="none" stroke-width="0.8" />
<circle cx="127.92" cy="104.32" r="0.80" fill="#484848" stroke="none" stroke-width="0.8" />
<circle cx="97.81" cy="129.91" r="0.80" fill="#484848" stroke="none" stroke-width="0.8" />
<circle cx="113.92" cy="109.65" r="0.80" fill="#484848" stroke="none" stroke-width="0.8" />
<circle cx="107.76" cy="116.25" r="0.80" fill="#484848" stroke="none" stroke-width="0.8" />
<circle cx="128.06" cy="80.93" r="0.80" fill="#484848" stroke="none" stroke-width="0.8" />
<circle cx="134.40" cy="69.57" r="0.80" fill="#484848" stroke="none" stroke-width="0.8" />
<circle cx="125.47" cy="98.73" r="0.80" fill="#484848" stroke="none" stroke-width="0.8" />
<circle cx="113.95" cy="108.30" r="0.80" fill="#484848" stroke="none" stroke-width="0.8" />
<circle cx="125.27" cy="88.08" r="0.80" fill="#484848" stroke="none" stroke-width="0.8" />
<circle cx="103.00" cy="121.03" r="0.80" fill="#484848" stroke="none" stroke-width="0.8" />
<circle cx="111.42" cy="118.47" r="0.80" fill="#484848" stroke="none" stroke-width="0.8" />
<circle cx="134.81" cy="70.49" r="0.80" fill="#484848" stroke="none" stroke-width="0.8" />
<circle cx="130.96" cy="78.17" r="0.80" fill="#484848" stroke="none" stroke-width="0.8" />
<circle cx="117.54" cy="100.42" r="0.80" fill="#484848" stroke="none" stroke-width="0.8" />
<circle cx="113.00" cy="107.45" r="0.80" fill="#484848" stroke="none" stroke-width="0.8" />
<circle cx="101.77" cy="122.98" r="0.80" fill="#484848" stroke="none" stroke-width="0.8" />
<circle cx="104.69" cy="121.76" r="0.80" fill="#484848" stroke="none" stroke-width="0.8" />
<circle cx="133.03" cy="110.33" r="0.80" fill="#484848" stroke="none" stroke-width="0.8" />
<circle cx="120.08" cy="110.64" r="0.80" fill="#484848" stroke="none" stroke-width="0.8" />
<circle cx="124.59" cy="105.56" r="0.80" fill="#484848" stroke="none" stroke-width="0.8" />
<circle cx="119.32" cy="108.65" r="0.80" fill="#484848" stroke="none" stroke-width="0.8" />
<circle cx="112.66" cy="110.17" r="0.80" fill="#484848" stroke="none" stroke-width="0.8" />
<circle cx="128.67" cy="103.33" r="0.80" fill="#484848" stroke="none" stroke-width="0.8" />
<circle cx="126.44" cy="100.07" r="0.80" fill="#484848" stroke="none" stroke-width="0.8" />
<circle cx="120.89" cy="94.28" r="0.80" fill="#484848" stroke="none" stroke-width="0.8" />
<circle cx="123.32" cy="92.71" r="0.80" fill="#484848" stroke="none" stroke-width="0.8" />
<circle cx="108.39" cy="116.66" r="0.80" fill="#484848" stroke="none" stroke-width="0.8" />
<circle cx="119.42" cy="98.32" r="0.80" fill="#484848" stroke="none" stroke-width="0.8" />
<circle cx="117.89" cy="116.25" r="0.80" fill="#484848" stroke="none" stroke-width="0.8" />
<circle cx="103.21" cy="124.07" r="0.80" fill="#484848" stroke="none" stroke-width="0.8" />
<circle cx="135.44" cy="68.54" r="0.80" fill="#484848" stroke="none" stroke-width="0.8" />
<circle cx="112.75" cy="111.47" r="0.80" fill="#484848" stroke="none" stroke-width="0.8" />
<circle cx="133.95" cy="81.15" r="0.80" fill="#484848" stroke="none" stroke-width="0.8" />
<circle cx="104.29" cy="127.16" r="0.80" fill="#484848" stroke="none" stroke-width="0.8" />
<circle cx="131.84" cy="78.65" r="0.80" fill="#484848" stroke="none" stroke-width="0.8" />
<circle cx="138.02" cy="66.09" r="0.80" fill="#484848" stroke="none" stroke-width="0.8" />
<circle cx="121.02" cy="94.63" r="0.80" fill="#484848" stroke="none" stroke-width="0.8" />
<circle cx="100.61" cy="126.82" r="0.80" fill="#484848" stroke="none" stroke-width="0.8" />
<circle cx="109.21" cy="118.25" r="0.80" fill="#484848" stroke="none" stroke-width="0.8" />
<circle cx="97.77" cy="140.50" r="0.80" fill="#484848" stroke="none" stroke-width="0.8" />
<circle cx="114.57" cy="105.81" r="0.80" fill="#484848" stroke="none" stroke-width="0.8" />
<circle cx="117.48" cy="105.91" r="0.80" fill="#484848" stroke="none" stroke-width="0.8" />
<circle cx="125.93" cy="87.94" r="0.80" fill="#484848" stroke="none" stroke-width="0.8" />
<circle cx="112.03" cy="131.51" r="0.80" fill="#484848" stroke="none" stroke-width="0.8" />
<circle cx="139.33" cy="62.95" r="0.80" fill="#484848" stroke="none" stroke-width="0.8" />
<circle cx="114.86" cy="108.36" r="0.80" fill="#484848" stroke="none" stroke-width="0.8" />
<circle cx="115.90" cy="111.71" r="0.80" fill="#484848" stroke="none" stroke-width="0.8" />
<circle cx="124.60" cy="97.96" r="0.80" fill="#484848" stroke="none" stroke-width="0.8" />
<circle cx="138.38" cy="64.69" r="0.80" fill="#484848" stroke="none" stroke-width="0.8" />
<circle cx="102.82" cy="123.65" r="0.80" fill="#484848" stroke="none" stroke-width="0.8" />
<circle cx="113.56" cy="124.46" r="0.80" fill="#484848" stroke="none" stroke-width="0.8" />
<circle cx="107.16" cy="124.08" r="0.80" fill="#484848" stroke="none" stroke-width="0.8" />
<circle cx="121.23" cy="100.16" r="0.80" fill="#484848" stroke="none" stroke-width="0.8" />
<circle cx="101.55" cy="124.59" r="0.80" fill="#484848" stroke="none" stroke-width="0.8" />
<circle cx="93.55" cy="134.80" r="0.80" fill="#484848" stroke="none" stroke-width="0.8" />
<circle cx="109.77" cy="117.34" r="0.80" fill="#484848" stroke="none" stroke-width="0.8" />
<circle cx="98.43" cy="128.97" r="0.80" fill="#484848" stroke="none" stroke-width="0.8" />
<circle cx="128.24" cy="82.25" r="0.80" fill="#484848" stroke="none" stroke-width="0.8" />
<circle cx="139.11" cy="100.76" r="0.80" fill="#484848" stroke="none" stroke-width="0.8" />
<circle cx="109.02" cy="112.11" r="0.80" fill="#484848" stroke="none" stroke-width="0.8" />
<circle cx="111.91" cy="117.99" r="0.80" fill="#484848" stroke="none" stroke-width="0.8" />
<circle cx="101.40" cy="125.57" r="0.80" fill="#484848" stroke="none" stroke-width="0.8" />
<circle cx="122.64" cy="90.14" r="0.80" fill="#484848" stroke="none" stroke-width="0.8" />
<circle cx="106.35" cy="126.43" r="0.80" fill="#484848" stroke="none" stroke-width="0.8" />
<circle cx="126.38" cy="85.66" r="0.80" fill="#484848" stroke="none" stroke-width="0.8" />
<circle cx="120.53" cy="96.74" r="0.80" fill="#484848" stroke="none" stroke-width="0.8" />
<circle cx="135.63" cy="68.39" r="0.80" fill="#484848" stroke="none" stroke-width="0.8" />
<circle cx="111.95" cy="109.33" r="0.80" fill="#484848" stroke="none" stroke-width="0.8" />
<circle cx="113.68" cy="118.74" r="0.80" fill="#484848" stroke="none" stroke-width="0.8" />
<circle cx="126.87" cy="83.94" r="0.80" fill="#484848" stroke="none" stroke-width="0.8" />
<circle cx="115.98" cy="106.48" r="0.80" fill="#484848" stroke="none" stroke-width="0.8" />
<circle cx="115.61" cy="123.76" r="0.80" fill="#484848" stroke="none" stroke-width="0.8" />
<circle cx="118.65" cy="96.56" r="0.80" fill="#484848" stroke="none" stroke-width="0.8" />
<circle cx="130.67" cy="92.02" r="0.80" fill="#484848" stroke="none" stroke-width="0.8" />
<circle cx="129.03" cy="86.28" r="0.80" fill="#484848" stroke="none" stroke-width="0.8" />
<circle cx="120.78" cy="96.77" r="0.80" fill="#484848" stroke="none" stroke-width="0.8" />
<circle cx="125.31" cy="97.46" r="0.80" fill="#484848" stroke="none" stroke-width="0.8" />
<circle cx="133.04" cy="72.37" r="0.80" fill="#484848" stroke="none" stroke-width="0.8" />
<circle cx="104.14" cy="129.56" r="0.80" fill="#484848" stroke="none" stroke-width="0.8" />
<circle cx="96.17" cy="132.20" r="0.80" fill="#484848" stroke="none" stroke-width="0.8" />
<circle cx="117.58" cy="106.10" r="0.80" fill="#484848" stroke="none" stroke-width="0.8" />
<circle cx="115.15" cy="120.91" r="0.80" fill="#484848" stroke="none" stroke-width="0.8" />
<circle cx="137.10" cy="68.41" r="0.80" fill="#484848" stroke="none" stroke-width="0.8" />
<circle cx="107.65" cy="115.02" r="0.80" fill="#484848" stroke="none" stroke-width="0.8" />
<circle cx="117.01" cy="103.13" r="0.80" fill="#484848" stroke="none" stroke-width="0.8" />
<circle cx="124.46" cy="87.26" r="0.80" fill="#484848" stroke="none" stroke-width="0.8" />
<circle cx="110.13" cy="115.53" r="0.80" fill="#484848" stroke="none" stroke-width="0.8" />
<circle cx="96.21" cy="137.42" r="0.80" fill="#484848" stroke="none" stroke-width="0.8" />
<circle cx="136.28" cy="68.26" r="0.80" fill="#484848" stroke="none" stroke-width="0.8" />
<circle cx="102.37" cy="125.00" r="0.80" fill="#484848" stroke="none" stroke-width="0.8" />
<circle cx="115.63" cy="101.84" r="0.80" fill="#484848" stroke="none" stroke-width="0.8" />
<circle cx="132.42" cy="88.57" r="0.80" fill="#484848" stroke="none" stroke-width="0.8" />
<circle cx="114.65" cy="103.45" r="0.80" fill="#484848" stroke="none" stroke-width="0.8" />
<circle cx="120.44" cy="97.42" r="0.80" fill="#484848" stroke="none" stroke-width="0.8" />
<circle cx="133.45" cy="79.46" r="0.80" fill="#484848" stroke="none" stroke-width="0.8" />
<circle cx="105.70" cy="120.02" r="0.80" fill="#484848" stroke="none" stroke-width="0.8" />
<circle cx="119.76" cy="107.68" r="0.80" fill="#484848" stroke="none" stroke-width="0.8" />
<circle cx="136.93" cy="65.53" r="0.80" fill="#484848" stroke="none" stroke-width="0.8" />
<circle cx="110.65" cy="120.19" r="0.80" fill="#484848" stroke="none" stroke-width="0.8" />
<circle cx="108.41" cy="113.59" r="0.80" fill="#484848" stroke="none" stroke-width="0.8" />
<circle cx="111.49" cy="119.07" r="0.80" fill="#484848" stroke="none" stroke-width="0.8" />
<circle cx="136.79" cy="66.90" r="0.80" fill="#484848" stroke="none" stroke-width="0.8" />
<circle cx="104.07" cy="121.14" r="0.80" fill="#484848" stroke="none" stroke-width="0.8" />
<circle cx="124.30" cy="94.65" r="0.80" fill="#484848" stroke="none" stroke-width="0.8" />
<circle cx="122.98" cy="107.86" r="0.80" fill="#484848" stroke="none" stroke-width="0.8" />
<circle cx="115.34" cy="117.56" r="0.80" fill="#484848" stroke="none" stroke-width="0.8" />
<circle cx="116.73" cy="100.28" r="0.80" fill="#484848" stroke="none" stroke-width="0.8" />
<circle cx="118.15" cy="106.19" r="0.80" fill="#484848" stroke="none" stroke-width="0.8" />
<circle cx="129.40" cy="84.81" r="0.80" fill="#484848" stroke="none" stroke-width="0.8" />
<circle cx="131.43" cy="82.92" r="0.80" fill="#484848" stroke="none" stroke-width="0.8" />
<circle cx="104.18" cy="121.17" r="0.80" fill="#484848" stroke="none" stroke-width="0.8" />
<circle cx="123.60" cy="101.17" r="0.80" fill="#484848" stroke="none" stroke-width="0.8" />
<circle cx="106.96" cy="115.78" r="0.80" fill="#484848" stroke="none" stroke-width="0.8" />
<circle cx="128.85" cy="81.52" r="0.80" fill="#484848" stroke="none" stroke-width="0.8" />
<circle cx="119.04" cy="107.48" r="0.80" fill="#484848" stroke="none" stroke-width="0.8" />
<circle cx="135.05" cy="73.28" r="0.80" fill="#484848" stroke="none" stroke-width="0.8" />
<circle cx="118.81" cy="108.79" r="0.80" fill="#484848" stroke="none" stroke-width="0.8" />
<circle cx="120.94" cy="98.08" r="0.80" fill="#484848" stroke="none" stroke-width="0.8" />
<circle cx="116.60" cy="101.52" r="0.80" fill="#484848" stroke="none" stroke-width="0.8" />
<circle cx="103.84" cy="125.57" r="0.80" fill="#484848" stroke="none" stroke-width="0.8" />
<circle cx="120.88" cy="96.39" r="0.80" fill="#484848" stroke="none" stroke-width="0.8" />
<circle cx="104.55" cy="119.27" r="0.80" fill="#484848" stroke="none" stroke-width="0.8" />
<circle cx="122.10" cy="92.06" r="0.80" fill="#484848" stroke="none" stroke-width="0.8" />
<circle cx="125.83" cy="99.18" r="0.80" fill="#484848" stroke="none" stroke-width="0.8" />
<circle cx="127.90" cy="86.65" r="0.80" fill="#484848" stroke="none" stroke-width="0.8" />
<circle cx="113.70" cy="114.62" r="0.80" fill="#484848" stroke="none" stroke-width="0.8" />
<circle cx="122.86" cy="92.39" r="0.80" fill="#484848" stroke="none" stroke-width="0.8" />
<circle cx="118.70" cy="109.30" r="0.80" fill="#484848" stroke="none" stroke-width="0.8" />
<circle cx="134.83" cy="91.45" r="0.80" fill="#484848" stroke="none" stroke-width="0.8" />
<circle cx="101.60" cy="123.95" r="0.80" fill="#484848" stroke="none" stroke-width="0.8" />
<circle cx="112.65" cy="107.79" r="0.80" fill="#484848" stroke="none" stroke-width="0.8" />
<circle cx="113.83" cy="106.21" r="0.80" fill="#484848" stroke="none" stroke-width="0.8" />
<circle cx="126.31" cy="86.13" r="0.80" fill="#484848" stroke="none" stroke-width="0.8" />
<circle cx="119.46" cy="101.87" r="0.80" fill="#484848" stroke="none" stroke-width="0.8" />
<circle cx="99.64" cy="135.28" r="0.80" fill="#484848" stroke="none" stroke-width="0.8" />
<circle cx="127.18" cy="83.68" r="0.80" fill="#484848" stroke="none" stroke-width="0.8" />
<circle cx="110.93" cy="108.80" r="0.80" fill="#484848" stroke="none" stroke-width="0.8" />
<circle cx="111.99" cy="113.39" r="0.80" fill="#484848" stroke="none" stroke-width="0.8" />
<circle cx="120.18" cy="104.73" r="0.80" fill="#484848" stroke="none" stroke-width="0.8" />
<circle cx="107.53" cy="116.07" r="0.80" fill="#484848" stroke="none" stroke-width="0.8" />
<circle cx="96.96" cy="135.06" r="0.80" fill="#484848" stroke="none" stroke-width="0.8" />
<circle cx="108.11" cy="118.55" r="0.80" fill="#484848" stroke="none" stroke-width="0.8" />
<circle cx="119.87" cy="102.24" r="0.80" fill="#484848" stroke="none" stroke-width="0.8" />
<circle cx="113.72" cy="112.60" r="0.80" fill="#484848" stroke="none" stroke-width="0.8" />
<circle cx="122.96" cy="91.78" r="0.80" fill="#484848" stroke="none" stroke-width="0.8" />
<circle cx="102.54" cy="123.22" r="0.80" fill="#484848" stroke="none" stroke-width="0.8" />
<circle cx="136.13" cy="71.83" r="0.80" fill="#484848" stroke="none" stroke-width="0.8" />
<circle cx="116.94" cy="119.76" r="0.80" fill="#484848" stroke="none" stroke-width="0.8" />
<circle cx="94.85" cy="135.55" r="0.80" fill="#484848" stroke="none" stroke-width="0.8" />
<circle cx="117.08" cy="102.68" r="0.80" fill="#484848" stroke="none" stroke-width="0.8" />
<circle cx="130.92" cy="77.44" r="0.80" fill="#484848" stroke="none" stroke-width="0.8" />
<circle cx="121.29" cy="102.73" r="0.80" fill="#484848" stroke="none" stroke-width="0.8" />
<circle cx="128.23" cy="80.88" r="0.80" fill="#484848" stroke="none" stroke-width="0.8" />
<circle cx="121.99" cy="99.81" r="0.80" fill="#484848" stroke="none" stroke-width="0.8" />
<circle cx="123.98" cy="90.28" r="0.80" fill="#484848" stroke="none" stroke-width="0.8" />
<circle cx="124.57" cy="104.81" r="0.80" fill="#484848" stroke="none" stroke-width="0.8" />
<circle cx="120.26" cy="97.57" r="0.80" fill="#484848" stroke="none" stroke-width="0.8" />
<circle cx="120.23" cy="104.86" r="0.80" fill="#484848" stroke="none" stroke-width="0.8" />
<circle cx="109.47" cy="130.77" r="0.80" fill="#484848" stroke="none" stroke-width="0.8" />
<circle cx="124.55" cy="88.56" r="0.80" fill="#484848" stroke="none" stroke-width="0.8" />
<circle cx="126.67" cy="88.56" r="0.80" fill="#484848" stroke="none" stroke-width="0.8" />
<circle cx="117.74" cy="111.31" r="0.80" fill="#484848" stroke="none" stroke-width="0.8" />
<circle cx="112.84" cy="110.20" r="0.80" fill="#484848" stroke="none" stroke-width="0.8" />
<circle cx="119.54" cy="108.31" r="0.80" fill="#484848" stroke="none" stroke-width="0.8" />
<circle cx="108.34" cy="112.60" r="0.80" fill="#484848" stroke="none" stroke-width="0.8" />
<circle cx="109.89" cy="110.68" r="0.80" fill="#484848" stroke="none" stroke-width="0.8" />
<circle cx="132.96" cy="80.89" r="0.80" fill="#484848" stroke="none" stroke-width="0.8" />
<circle cx="115.08" cy="103.31" r="0.80" fill="#484848" stroke="none" stroke-width="0.8" />
<circle cx="120.38" cy="109.73" r="0.80" fill="#484848" stroke="none" stroke-width="0.8" />
<circle cx="134.55" cy="71.53" r="0.80" fill="#484848" stroke="none" stroke-width="0.8" />
<circle cx="119.36" cy="106.20" r="0.80" fill="#484848" stroke="none" stroke-width="0.8" />
<circle cx="128.14" cy="82.06" r="0.80" fill="#484848" stroke="none" stroke-width="0.8" />
<circle cx="122.23" cy="98.81" r="0.80" fill="#484848" stroke="none" stroke-width="0.8" />
<circle cx="95.19" cy="135.56" r="0.80" fill="#484848" stroke="none" stroke-width="0.8" />
<circle cx="107.43" cy="115.57" r="0.80" fill="#484848" stroke="none" stroke-width="0.8" />
<circle cx="134.01" cy="74.29" r="0.80" fill="#484848" stroke="none" stroke-width="0.8" />
<circle cx="93.78" cy="135.09" r="0.80" fill="#484848" stroke="none" stroke-width="0.8" />
<circle cx="132.58" cy="91.83" r="0.80" fill="#484848" stroke="none" stroke-width="0.8" />
<circle cx="114.67" cy="119.23" r="0.80" fill="#484848" stroke="none" stroke-width="0.8" />
<circle cx="94.87" cy="134.46" r="0.80" fill="#484848" stroke="none" stroke-width="0.8" />
<circle cx="121.21" cy="94.16" r="0.80" fill="#484848" stroke="none" stroke-width="0.8" />
<circle cx="125.09" cy="86.09" r="0.80" fill="#484848" stroke="none" stroke-width="0.8" />
<circle cx="104.31" cy="122.22" r="0.80" fill="#484848" stroke="none" stroke-width="0.8" />
<circle cx="125.79" cy="85.79" r="0.80" fill="#484848" stroke="none" stroke-width="0.8" />
<circle cx="122.69" cy="90.28" r="0.80" fill="#484848" stroke="none" stroke-width="0.8" />
<circle cx="108.28" cy="117.87" r="0.80" fill="#484848" stroke="none" stroke-width="0.8" />
<circle cx="110.15" cy="122.63" r="0.80" fill="#484848" stroke="none" stroke-width="0.8" />
<circle cx="126.77" cy="105.31" r="0.80" fill="#484848" stroke="none" stroke-width="0.8" />
<circle cx="121.65" cy="98.66" r="0.80" fill="#484848" stroke="none" stroke-width="0.8" />
<circle cx="118.06" cy="103.51" r="0.80" fill="#484848" stroke="none" stroke-width="0.8" />
<circle cx="116.81" cy="109.88" r="0.80" fill="#484848" stroke="none" stroke-width="0.8" />
<circle cx="135.30" cy="78.86" r="0.80" fill="#484848" stroke="none" stroke-width="0.8" />
<circle cx="135.42" cy="96.28" r="0.80" fill="#484848" stroke="none" stroke-width="0.8" />
<circle cx="138.83" cy="64.38" r="0.80" fill="#484848" stroke="none" stroke-width="0.8" />
<circle cx="130.39" cy="78.32" r="0.80" fill="#484848" stroke="none" stroke-width="0.8" />
<circle cx="133.86" cy="70.25" r="0.80" fill="#484848" stroke="none" stroke-width="0.8" />
<circle cx="126.13" cy="86.38" r="0.80" fill="#484848" stroke="none" stroke-width="0.8" />
<circle cx="108.94" cy="114.35" r="0.80" fill="#484848" stroke="none" stroke-width="0.8" />
<circle cx="118.43" cy="96.35" r="0.80" fill="#484848" stroke="none" stroke-width="0.8" />
<circle cx="114.09" cy="121.65" r="0.80" fill="#484848" stroke="none" stroke-width="0.8" />
<circle cx="112.54" cy="107.75" r="0.80" fill="#484848" stroke="none" stroke-width="0.8" />
<circle cx="97.61" cy="131.87" r="0.80" fill="#484848" stroke="none" stroke-width="0.8" />
<circle cx="124.62" cy="88.60" r="0.80" fill="#484848" stroke="none" stroke-width="0.8" />
<circle cx="128.66" cy="80.83" r="0.80" fill="#484848" stroke="none" stroke-width="0.8" />
<circle cx="119.16" cy="96.32" r="0.80" fill="#484848" stroke="none" stroke-width="0.8" />
<circle cx="111.36" cy="119.26" r="0.80" fill="#484848" stroke="none" stroke-width="0.8" />
<circle cx="106.39" cy="122.78" r="0.80" fill="#484848" stroke="none" stroke-width="0.8" />
<circle cx="130.41" cy="85.95" r="0.80" fill="#484848" stroke="none" stroke-width="0.8" />
<circle cx="141.48" cy="108.08" r="0.80" fill="#484848" stroke="none" stroke-width="0.8" />
<circle cx="109.24" cy="122.65" r="0.80" fill="#484848" stroke="none" stroke-width="0.8" />
<circle cx="111.24" cy="118.27" r="0.80" fill="#484848" stroke="none" stroke-width="0.8" />
<circle cx="118.46" cy="100.66" r="0.80" fill="#484848" stroke="none" stroke-width="0.8" />
<circle cx="105.57" cy="125.71" r="0.80" fill="#484848" stroke="none" stroke-width="0.8" />
<circle cx="124.30" cy="95.43" r="0.80" fill="#484848" stroke="none" stroke-width="0.8" />
<circle cx="115.73" cy="103.30" r="0.80" fill="#484848" stroke="none" stroke-width="0.8" />
<circle cx="95.34" cy="133.03" r="0.80" fill="#484848" stroke="none" stroke-width="0.8" />
<circle cx="118.27" cy="103.76" r="0.80" fill="#484848" stroke="none" stroke-width="0.8" />
<circle cx="130.41" cy="88.20" r="0.80" fill="#484848" stroke="none" stroke-width="0.8" />
<circle cx="100.73" cy="129.67" r="0.80" fill="#484848" stroke="none" stroke-width="0.8" />
<circle cx="98.03" cy="131.87" r="0.80" fill="#484848" stroke="none" stroke-width="0.8" />
<circle cx="132.92" cy="74.14" r="0.80" fill="#484848" stroke="none" stroke-width="0.8" />
<circle cx="112.29" cy="109.84" r="0.80" fill="#484848" stroke="none" stroke-width="0.8" />
<circle cx="113.75" cy="106.04" r="0.80" fill="#484848" stroke="none" stroke-width="0.8" />
<circle cx="108.30" cy="121.70" r="0.80" fill="#484848" stroke="none" stroke-width="0.8" />
<circle cx="133.83" cy="75.86" r="0.80" fill="#484848" stroke="none" stroke-width="0.8" />
<circle cx="108.50" cy="112.69" r="0.80" fill="#484848" stroke="none" stroke-width="0.8" />
<circle cx="121.63" cy="94.03" r="0.80" fill="#484848" stroke="none" stroke-width="0.8" />
<circle cx="133.51" cy="84.57" r="0.80" fill="#484848" stroke="none" stroke-width="0.8" />
<circle cx="121.34" cy="102.49" r="0.80" fill="#484848" stroke="none" stroke-width="0.8" />
<circle cx="104.24" cy="122.18" r="0.80" fill="#484848" stroke="none" stroke-width="0.8" />
<circle cx="138.16" cy="71.09" r="0.80" fill="#484848" stroke="none" stroke-width="0.8" />
<circle cx="127.85" cy="82.59" r="0.80" fill="#484848" stroke="none" stroke-width="0.8" />
<circle cx="110.65" cy="119.36" r="0.80" fill="#484848" stroke="none" stroke-width="0.8" />
<circle cx="122.32" cy="95.64" r="0.80" fill="#484848" stroke="none" stroke-width="0.8" />
<circle cx="108.10" cy="115.43" r="0.80" fill="#484848" stroke="none" stroke-width="0.8" />
<circle cx="131.67" cy="118.94" r="0.80" fill="#484848" stroke="none" stroke-width="0.8" />
<circle cx="123.88" cy="108.66" r="0.80" fill="#484848" stroke="none" stroke-width="0.8" />
<circle cx="100.84" cy="125.69" r="0.80" fill="#484848" stroke="none" stroke-width="0.8" />
<circle cx="98.74" cy="128.83" r="0.80" fill="#484848" stroke="none" stroke-width="0.8" />
<circle cx="126.95" cy="83.26" r="0.80" fill="#484848" stroke="none" stroke-width="0.8" />
<circle cx="124.58" cy="90.64" r="0.80" fill="#484848" stroke="none" stroke-width="0.8" />
<circle cx="113.85" cy="112.03" r="0.80" fill="#484848" stroke="none" stroke-width="0.8" />
<circle cx="108.98" cy="117.11" r="0.80" fill="#484848" stroke="none" stroke-width="0.8" />
<circle cx="103.79" cy="129.42" r="0.80" fill="#484848" stroke="none" stroke-width="0.8" />
<circle cx="106.52" cy="117.11" r="0.80" fill="#484848" stroke="none" stroke-width="0.8" />
<circle cx="117.27" cy="98.14" r="0.80" fill="#484848" stroke="none" stroke-width="0.8" />
<circle cx="137.46" cy="70.67" r="0.80" fill="#484848" stroke="none" stroke-width="0.8" />
<circle cx="103.69" cy="119.82" r="0.80" fill="#484848" stroke="none" stroke-width="0.8" />
<circle cx="111.89" cy="113.66" r="0.80" fill="#484848" stroke="none" stroke-width="0.8" />
<circle cx="131.20" cy="89.11" r="0.80" fill="#484848" stroke="none" stroke-width="0.8" />
<circle cx="122.53" cy="102.28" r="0.80" fill="#484848" stroke="none" stroke-width="0.8" />
<circle cx="125.81" cy="87.55" r="0.80" fill="#484848" stroke="none" stroke-width="0.8" />
<circle cx="131.14" cy="75.09" r="0.80" fill="#484848" stroke="none" stroke-width="0.8" />
<circle cx="99.04" cy="128.56" r="0.80" fill="#484848" stroke="none" stroke-width="0.8" />
<circle cx="105.19" cy="124.15" r="0.80" fill="#484848" stroke="none" stroke-width="0.8" />
<circle cx="100.67" cy="132.43" r="0.80" fill="#484848" stroke="none" stroke-width="0.8" />
<circle cx="97.36" cy="130.60" r="0.80" fill="#484848" stroke="none" stroke-width="0.8" />
<circle cx="131.60" cy="84.48" r="0.80" fill="#484848" stroke="none" stroke-width="0.8" />
<circle cx="123.11" cy="93.59" r="0.80" fill="#484848" stroke="none" stroke-width="0.8" />
<circle cx="125.56" cy="88.78" r="0.80" fill="#484848" stroke="none" stroke-width="0.8" />
<circle cx="101.53" cy="130.79" r="0.80" fill="#484848" stroke="none" stroke-width="0.8" />
<circle cx="101.24" cy="126.69" r="0.80" fill="#484848" stroke="none" stroke-width="0.8" />
<circle cx="123.86" cy="88.95" r="0.80" fill="#484848" stroke="none" stroke-width="0.8" />
<circle cx="109.55" cy="118.61" r="0.80" fill="#484848" stroke="none" stroke-width="0.8" />
<circle cx="119.98" cy="94.09" r="0.80" fill="#484848" stroke="none" stroke-width="0.8" />
<circle cx="131.99" cy="79.72" r="0.80" fill="#484848" stroke="none" stroke-width="0.8" />
<circle cx="131.05" cy="81.31" r="0.80" fill="#484848" stroke="none" stroke-width="0.8" />
<circle cx="129.22" cy="95.07" r="0.80" fill="#484848" stroke="none" stroke-width="0.8" />
<circle cx="102.01" cy="132.87" r="0.80" fill="#484848" stroke="none" stroke-width="0.8" />
<circle cx="118.03" cy="106.99" r="0.80" fill="#484848" stroke="none" stroke-width="0.8" />
<circle cx="112.00" cy="109.11" r="0.80" fill="#484848" stroke="none" stroke-width="0.8" />
<circle cx="108.33" cy="115.39" r="0.80" fill="#484848" stroke="none" stroke-width="0.8" />
<circle cx="98.43" cy="133.75" r="0.80" fill="#484848" stroke="none" stroke-width="0.8" />
<circle cx="115.01" cy="106.64" r="0.80" fill="#484848" stroke="none" stroke-width="0.8" />
<circle cx="117.75" cy="98.94" r="0.80" fill="#484848" stroke="none" stroke-width="0.8" />
<circle cx="114.52" cy="110.00" r="0.80" fill="#484848" stroke="none" stroke-width="0.8" />
<circle cx="108.39" cy="120.39" r="0.80" fill="#484848" stroke="none" stroke-width="0.8" />
<circle cx="104.69" cy="125.82" r="0.80" fill="#484848" stroke="none" stroke-width="0.8" />
<circle cx="129.37" cy="94.47" r="0.80" fill="#484848" stroke="none" stroke-width="0.8" />
<circle cx="121.77" cy="96.28" r="0.80" fill="#484848" stroke="none" stroke-width="0.8" />
<circle cx="103.16" cy="125.93" r="0.80" fill="#484848" stroke="none" stroke-width="0.8" />
<circle cx="113.38" cy="111.60" r="0.80" fill="#484848" stroke="none" stroke-width="0.8" />
<circle cx="127.63" cy="86.78" r="0.80" fill="#484848" stroke="none" stroke-width="0.8" />
<circle cx="117.35" cy="109.38" r="0.80" fill="#484848" stroke="none" stroke-width="0.8" />
<circle cx="117.51" cy="114.43" r="0.80" fill="#484848" stroke="none" stroke-width="0.8" />
<circle cx="111.95" cy="112.72" r="0.80" fill="#484848" stroke="none" stroke-width="0.8" />
<circle cx="102.86" cy="122.70" r="0.80" fill="#484848" stroke="none" stroke-width="0.8" />
<circle cx="108.65" cy="113.76" r="0.80" fill="#484848" stroke="none" stroke-width="0.8" />
<circle cx="126.05" cy="84.94" r="0.80" fill="#484848" stroke="none" stroke-width="0.8" />
<circle cx="116.62" cy="99.84" r="0.80" fill="#484848" stroke="none" stroke-width="0.8" />
<circle cx="127.52" cy="87.01" r="0.80" fill="#484848" stroke="none" stroke-width="0.8" />
<circle cx="104.71" cy="126.48" r="0.80" fill="#484848" stroke="none" stroke-width="0.8" />
<circle cx="127.70" cy="91.72" r="0.80" fill="#484848" stroke="none" stroke-width="0.8" />
<circle cx="107.49" cy="123.20" r="0.80" fill="#484848" stroke="none" stroke-width="0.8" />
<circle cx="123.54" cy="93.91" r="0.80" fill="#484848" stroke="none" stroke-width="0.8" />
<circle cx="130.12" cy="80.11" r="0.80" fill="#484848" stroke="none" stroke-width="0.8" />
<circle cx="103.31" cy="124.24" r="0.80" fill="#484848" stroke="none" stroke-width="0.8" />
<circle cx="127.21" cy="92.17" r="0.80" fill="#484848" stroke="none" stroke-width="0.8" />
<circle cx="100.56" cy="129.79" r="0.80" fill="#484848" stroke="none" stroke-width="0.8" />
<circle cx="112.52" cy="107.84" r="0.80" fill="#484848" stroke="none" stroke-width="0.8" />
<circle cx="115.53" cy="103.43" r="0.80" fill="#484848" stroke="none" stroke-width="0.8" />
<circle cx="130.81" cy="80.15" r="0.80" fill="#484848" stroke="none" stroke-width="0.8" />
<circle cx="126.40" cy="107.26" r="0.80" fill="#484848" stroke="none" stroke-width="0.8" />
<circle cx="139.61" cy="63.14" r="0.80" fill="#484848" stroke="none" stroke-width="0.8" />
<circle cx="96.63" cy="138.59" r="0.80" fill="#484848" stroke="none" stroke-width="0.8" />
<circle cx="109.20" cy="111.35" r="0.80" fill="#484848" stroke="none" stroke-width="0.8" />
<circle cx="120.50" cy="111.84" r="0.80" fill="#484848" stroke="none" stroke-width="0.8" />
<circle cx="131.71" cy="75.97" r="0.80" fill="#484848" stroke="none" stroke-width="0.8" />
<circle cx="108.64" cy="117.33" r="0.80" fill="#484848" stroke="none" stroke-width="0.8" />
<circle cx="113.53" cy="114.17" r="0.80" fill="#484848" stroke="none" stroke-width="0.8" />
<circle cx="102.15" cy="123.78" r="0.80" fill="#484848" stroke="none" stroke-width="0.8" />
<circle cx="112.83" cy="105.95" r="0.80" fill="#484848" stroke="none" stroke-width="0.8" />
<circle cx="115.99" cy="103.47" r="0.80" fill="#484848" stroke="none" stroke-width="0.8" />
<circle cx="123.22" cy="88.98" r="0.80" fill="#484848" stroke="none" stroke-width="0.8" />
<circle cx="119.26" cy="119.30" r="0.80" fill="#484848" stroke="none" stroke-width="0.8" />
<circle cx="134.34" cy="74.60" r="0.80" fill="#484848" stroke="none" stroke-width="0.8" />
<circle cx="126.43" cy="109.71" r="0.80" fill="#484848" stroke="none" stroke-width="0.8" />
<circle cx="115.00" cy="102.01" r="0.80" fill="#484848" stroke="none" stroke-width="0.8" />
<circle cx="115.45" cy="107.06" r="0.80" fill="#484848" stroke="none" stroke-width="0.8" />
<circle cx="127.65" cy="90.68" r="0.80" fill="#484848" stroke="none" stroke-width="0.8" />
<circle cx="117.54" cy="101.17" r="0.80" fill="#484848" stroke="none" stroke-width="0.8" />
<circle cx="105.07" cy="123.21" r="0.80" fill="#484848" stroke="none" stroke-width="0.8" />
<circle cx="100.17" cy="128.12" r="0.80" fill="#484848" stroke="none" stroke-width="0.8" />
<circle cx="140.49" cy="62.36" r="0.80" fill="#484848" stroke="none" stroke-width="0.8" />
<circle cx="101.84" cy="132.45" r="0.80" fill="#484848" stroke="none" stroke-width="0.8" />
<circle cx="106.36" cy="119.01" r="0.80" fill="#484848" stroke="none" stroke-width="0.8" />
<circle cx="123.85" cy="103.83" r="0.80" fill="#484848" stroke="none" stroke-width="0.8" />
<circle cx="124.64" cy="102.30" r="0.80" fill="#484848" stroke="none" stroke-width="0.8" />
<circle cx="106.54" cy="120.23" r="0.80" fill="#484848" stroke="none" stroke-width="0.8" />
<circle cx="110.40" cy="110.64" r="0.80" fill="#484848" stroke="none" stroke-width="0.8" />
<circle cx="114.22" cy="111.30" r="0.80" fill="#484848" stroke="none" stroke-width="0.8" />
<circle cx="134.91" cy="69.29" r="0.80" fill="#484848" stroke="none" stroke-width="0.8" />
<circle cx="119.38" cy="98.87" r="0.80" fill="#484848" stroke="none" stroke-width="0.8" />
<circle cx="123.96" cy="98.56" r="0.80" fill="#484848" stroke="none" stroke-width="0.8" />
<circle cx="132.63" cy="74.28" r="0.80" fill="#484848" stroke="none" stroke-width="0.8" />
<circle cx="121.15" cy="93.71" r="0.80" fill="#484848" stroke="none" stroke-width="0.8" />
<circle cx="131.60" cy="83.62" r="0.80" fill="#484848" stroke="none" stroke-width="0.8" />
<circle cx="135.38" cy="68.46" r="0.80" fill="#484848" stroke="none" stroke-width="0.8" />
<circle cx="125.70" cy="85.14" r="0.80" fill="#484848" stroke="none" stroke-width="0.8" />
<circle cx="96.49" cy="131.51" r="0.80" fill="#484848" stroke="none" stroke-width="0.8" />
<circle cx="125.22" cy="88.15" r="0.80" fill="#484848" stroke="none" stroke-width="0.8" />
<circle cx="123.64" cy="101.75" r="0.80" fill="#484848" stroke="none" stroke-width="0.8" />
<circle cx="137.58" cy="64.64" r="0.80" fill="#484848" stroke="none" stroke-width="0.8" />
<circle cx="125.19" cy="86.38" r="0.80" fill="#484848" stroke="none" stroke-width="0.8" />
<circle cx="111.90" cy="114.96" r="0.80" fill="#484848" stroke="none" stroke-width="0.8" />
<circle cx="110.02" cy="115.50" r="0.80" fill="#484848" stroke="none" stroke-width="0.8" />
<circle cx="95.73" cy="135.20" r="0.80" fill="#484848" stroke="none" stroke-width="0.8" />
<circle cx="104.63" cy="120.17" r="0.80" fill="#484848" stroke="none" stroke-width="0.8" />
<circle cx="116.73" cy="104.54" r="0.80" fill="#484848" stroke="none" stroke-width="0.8" />
<circle cx="105.71" cy="122.92" r="0.80" fill="#484848" stroke="none" stroke-width="0.8" />
<circle cx="113.48" cy="110.10" r="0.80" fill="#484848" stroke="none" stroke-width="0.8" />
<circle cx="127.80" cy="94.36" r="0.80" fill="#484848" stroke="none" stroke-width="0.8" />
<circle cx="122.42" cy="99.60" r="0.80" fill="#484848" stroke="none" stroke-width="0.8" />
<circle cx="128.96" cy="80.80" r="0.80" fill="#484848" stroke="none" stroke-width="0.8" />
<circle cx="113.12" cy="107.39" r="0.80" fill="#484848" stroke="none" stroke-width="0.8" />
<circle cx="122.87" cy="118.49" r="0.80" fill="#484848" stroke="none" stroke-width="0.8" />
<circle cx="123.22" cy="101.71" r="0.80" fill="#484848" stroke="none" stroke-width="0.8" />
<circle cx="121.47" cy="92.91" r="0.80" fill="#484848" stroke="none" stroke-width="0.8" />
<circle cx="110.41" cy="116.69" r="0.80" fill="#484848" stroke="none" stroke-width="0.8" />
<circle cx="110.32" cy="110.16" r="0.80" fill="#484848" stroke="none" stroke-width="0.8" />
<circle cx="130.33" cy="81.99" r="0.80" fill="#484848" stroke="none" stroke-width="0.8" />
<circle cx="106.08" cy="121.02" r="0.80" fill="#484848" stroke="none" stroke-width="0.8" />
<circle cx="99.14" cy="127.99" r="0.80" fill="#484848" stroke="none" stroke-width="0.8" />
<circle cx="116.95" cy="99.03" r="0.80" fill="#484848" stroke="none" stroke-width="0.8" />
<circle cx="111.26" cy="108.45" r="0.80" fill="#484848" stroke="none" stroke-width="0.8" />
<circle cx="118.85" cy="126.21" r="0.80" fill="#484848" stroke="none" stroke-width="0.8" />
<circle cx="101.98" cy="125.57" r="0.80" fill="#484848" stroke="none" stroke-width="0.8" />
<circle cx="92.40" cy="136.50" r="0.80" fill="#484848" stroke="none" stroke-width="0.8" />
<circle cx="125.85" cy="88.63" r="0.80" fill="#484848" stroke="none" stroke-width="0.8" />
<circle cx="135.51" cy="99.30" r="0.80" fill="#484848" stroke="none" stroke-width="0.8" />
<circle cx="126.88" cy="85.08" r="0.80" fill="#484848" stroke="none" stroke-width="0.8" />
<circle cx="128.82" cy="87.00" r="0.80" fill="#484848" stroke="none" stroke-width="0.8" />
<circle cx="115.04" cy="103.60" r="0.80" fill="#484848" stroke="none" stroke-width="0.8" />
<circle cx="101.02" cy="125.06" r="0.80" fill="#484848" stroke="none" stroke-width="0.8" />
<circle cx="135.38" cy="71.62" r="0.80" fill="#484848" stroke="none" stroke-width="0.8" />
<circle cx="132.00" cy="86.20" r="0.80" fill="#484848" stroke="none" stroke-width="0.8" />
<circle cx="126.77" cy="85.66" r="0.80" fill="#484848" stroke="none" stroke-width="0.8" />
<circle cx="115.53" cy="101.25" r="0.80" fill="#484848" stroke="none" stroke-width="0.8" />
<circle cx="127.78" cy="90.37" r="0.80" fill="#484848" stroke="none" stroke-width="0.8" />
<circle cx="141.50" cy="62.21" r="0.80" fill="#484848" stroke="none" stroke-width="0.8" />
<circle cx="121.50" cy="98.19" r="0.80" fill="#484848" stroke="none" stroke-width="0.8" />
<circle cx="110.41" cy="114.58" r="0.80" fill="#484848" stroke="none" stroke-width="0.8" />
<circle cx="128.28" cy="81.92" r="0.80" fill="#484848" stroke="none" stroke-width="0.8" />
<circle cx="124.23" cy="100.28" r="0.80" fill="#484848" stroke="none" stroke-width="0.8" />
<circle cx="104.94" cy="123.60" r="0.80" fill="#484848" stroke="none" stroke-width="0.8" />
<circle cx="131.27" cy="83.63" r="0.80" fill="#484848" stroke="none" stroke-width="0.8" />
<circle cx="113.38" cy="106.80" r="0.80" fill="#484848" stroke="none" stroke-width="0.8" />
<circle cx="113.54" cy="117.94" r="0.80" fill="#484848" stroke="none" stroke-width="0.8" />
<circle cx="128.72" cy="84.28" r="0.80" fill="#484848" stroke="none" stroke-width="0.8" />
<circle cx="116.76" cy="102.21" r="0.80" fill="#484848" stroke="none" stroke-width="0.8" />
<circle cx="113.59" cy="108.70" r="0.80" fill="#484848" stroke="none" stroke-width="0.8" />
<circle cx="120.83" cy="92.98" r="0.80" fill="#484848" stroke="none" stroke-width="0.8" />
<circle cx="114.04" cy="105.19" r="0.80" fill="#484848" stroke="none" stroke-width="0.8" />
<circle cx="109.47" cy="118.00" r="0.80" fill="#484848" stroke="none" stroke-width="0.8" />
<circle cx="112.00" cy="111.86" r="0.80" fill="#484848" stroke="none" stroke-width="0.8" />
<circle cx="112.74" cy="118.28" r="0.80" fill="#484848" stroke="none" stroke-width="0.8" />
<circle cx="119.34" cy="97.26" r="0.80" fill="#484848" stroke="none" stroke-width="0.8" />
<circle cx="123.20" cy="90.58" r="0.80" fill="#484848" stroke="none" stroke-width="0.8" />
<circle cx="126.50" cy="86.83" r="0.80" fill="#484848" stroke="none" stroke-width="0.8" />
<circle cx="133.14" cy="83.47" r="0.80" fill="#484848" stroke="none" stroke-width="0.8" />
<circle cx="126.96" cy="85.79" r="0.80" fill="#484848" stroke="none" stroke-width="0.8" />
<circle cx="112.83" cy="105.71" r="0.80" fill="#484848" stroke="none" stroke-width="0.8" />
<circle cx="112.14" cy="109.67" r="0.80" fill="#484848" stroke="none" stroke-width="0.8" />
<circle cx="118.83" cy="103.39" r="0.80" fill="#484848" stroke="none" stroke-width="0.8" />
<circle cx="136.71" cy="120.87" r="0.80" fill="#484848" stroke="none" stroke-width="0.8" />
<circle cx="116.36" cy="116.43" r="0.80" fill="#484848" stroke="none" stroke-width="0.8" />
<circle cx="107.80" cy="113.53" r="0.80" fill="#484848" stroke="none" stroke-width="0.8" />
<circle cx="101.96" cy="129.20" r="0.80" fill="#484848" stroke="none" stroke-width="0.8" />
<circle cx="98.20" cy="131.42" r="0.80" fill="#484848" stroke="none" stroke-width="0.8" />
<circle cx="126.21" cy="92.54" r="0.80" fill="#484848" stroke="none" stroke-width="0.8" />
<circle cx="129.85" cy="119.46" r="0.80" fill="#484848" stroke="none" stroke-width="0.8" />
<circle cx="119.33" cy="96.67" r="0.80" fill="#484848" stroke="none" stroke-width="0.8" />
<circle cx="99.63" cy="126.97" r="0.80" fill="#484848" stroke="none" stroke-width="0.8" />
<circle cx="109.70" cy="114.61" r="0.80" fill="#484848" stroke="none" stroke-width="0.8" />
<circle cx="140.44" cy="98.80" r="0.80" fill="#484848" stroke="none" stroke-width="0.8" />
<circle cx="126.84" cy="86.92" r="0.80" fill="#484848" stroke="none" stroke-width="0.8" />
<circle cx="131.40" cy="85.77" r="0.80" fill="#484848" stroke="none" stroke-width="0.8" />
<circle cx="121.67" cy="97.31" r="0.80" fill="#484848" stroke="none" stroke-width="0.8" />
<circle cx="111.46" cy="108.39" r="0.80" fill="#484848" stroke="none" stroke-width="0.8" />
<circle cx="106.04" cy="119.56" r="0.80" fill="#484848" stroke="none" stroke-width="0.8" />
<circle cx="120.99" cy="101.15" r="0.80" fill="#484848" stroke="none" stroke-width="0.8" />
<circle cx="121.28" cy="94.48" r="0.80" fill="#484848" stroke="none" stroke-width="0.8" />
<circle cx="127.63" cy="96.49" r="0.80" fill="#484848" stroke="none" stroke-width="0.8" />
<circle cx="139.72" cy="62.28" r="0.80" fill="#484848" stroke="none" stroke-width="0.8" />
<circle cx="142.00" cy="60.57" r="0.80" fill="#484848" stroke="none" stroke-width="0.8" />
<circle cx="133.61" cy="78.85" r="0.80" fill="#484848" stroke="none" stroke-width="0.8" />
<circle cx="127.61" cy="83.51" r="0.80" fill="#484848" stroke="none" stroke-width="0.8" />
<circle cx="105.84" cy="125.02" r="0.80" fill="#484848" stroke="none" stroke-width="0.8" />
<circle cx="124.48" cy="94.14" r="0.80" fill="#484848" stroke="none" stroke-width="0.8" />
<circle cx="136.78" cy="76.07" r="0.80" fill="#484848" stroke="none" stroke-width="0.8" />
<circle cx="122.32" cy="98.45" r="0.80" fill="#484848" stroke="none" stroke-width="0.8" />
<circle cx="109.86" cy="113.12" r="0.80" fill="#484848" stroke="none" stroke-width="0.8" />
<circle cx="117.47" cy="103.74" r="0.80" fill="#484848" stroke="none" stroke-width="0.8" />
<circle cx="112.12" cy="110.95" r="0.80" fill="#484848" stroke="none" stroke-width="0.8" />
<circle cx="118.34" cy="102.88" r="0.80" fill="#484848" stroke="none" stroke-width="0.8" />
<circle cx="134.76" cy="86.18" r="0.80" fill="#484848" stroke="none" stroke-width="0.8" />
<circle cx="109.07" cy="117.80" r="0.80" fill="#484848" stroke="none" stroke-width="0.8" />
<circle cx="109.90" cy="113.17" r="0.80" fill="#484848" stroke="none" stroke-width="0.8" />
<circle cx="104.86" cy="120.78" r="0.80" fill="#484848" stroke="none" stroke-width="0.8" />
<circle cx="109.10" cy="114.25" r="0.80" fill="#484848" stroke="none" stroke-width="0.8" />
<circle cx="96.00" cy="133.51" r="0.80" fill="#484848" stroke="none" stroke-width="0.8" />
<circle cx="110.89" cy="110.25" r="0.80" fill="#484848" stroke="none" stroke-width="0.8" />
<circle cx="112.96" cy="105.59" r="0.80" fill="#484848" stroke="none" stroke-width="0.8" />
<circle cx="109.33" cy="124.08" r="0.80" fill="#484848" stroke="none" stroke-width="0.8" />
<circle cx="108.98" cy="123.65" r="0.80" fill="#484848" stroke="none" stroke-width="0.8" />
<circle cx="130.10" cy="77.54" r="0.80" fill="#484848" stroke="none" stroke-width="0.8" />
<circle cx="121.66" cy="108.48" r="0.80" fill="#484848" stroke="none" stroke-width="0.8" />
<circle cx="130.11" cy="81.44" r="0.80" fill="#484848" stroke="none" stroke-width="0.8" />
<circle cx="115.93" cy="119.05" r="0.80" fill="#484848" stroke="none" stroke-width="0.8" />
<circle cx="139.05" cy="89.10" r="0.80" fill="#484848" stroke="none" stroke-width="0.8" />
<circle cx="125.66" cy="95.38" r="0.80" fill="#484848" stroke="none" stroke-width="0.8" />
<circle cx="134.04" cy="74.55" r="0.80" fill="#484848" stroke="none" stroke-width="0.8" />
<circle cx="136.41" cy="66.67" r="0.80" fill="#484848" stroke="none" stroke-width="0.8" />
<circle cx="112.07" cy="115.40" r="0.80" fill="#484848" stroke="none" stroke-width="0.8" />
<circle cx="115.32" cy="116.82" r="0.80" fill="#484848" stroke="none" stroke-width="0.8" />
<circle cx="127.84" cy="91.01" r="0.80" fill="#484848" stroke="none" stroke-width="0.8" />
<circle cx="123.38" cy="90.34" r="0.80" fill="#484848" stroke="none" stroke-width="0.8" />
<circle cx="119.99" cy="95.32" r="0.80" fill="#484848" stroke="none" stroke-width="0.8" />
<circle cx="118.05" cy="103.36" r="0.80" fill="#484848" stroke="none" stroke-width="0.8" />
<circle cx="97.09" cy="130.75" r="0.80" fill="#484848" stroke="none" stroke-width="0.8" />
<circle cx="120.90" cy="92.77" r="0.80" fill="#484848" stroke="none" stroke-width="0.8" />
<circle cx="127.37" cy="88.39" r="0.80" fill="#484848" stroke="none" stroke-width="0.8" />
<circle cx="137.99" cy="80.01" r="0.80" fill="#484848" stroke="none" stroke-width="0.8" />
<circle cx="113.45" cy="107.94" r="0.80" fill="#484848" stroke="none" stroke-width="0.8" />
<circle cx="113.49" cy="111.52" r="0.80" fill="#484848" stroke="none" stroke-width="0.8" />
<circle cx="107.05" cy="122.64" r="0.80" fill="#484848" stroke="none" stroke-width="0.8" />
<circle cx="135.45" cy="87.32" r="0.80" fill="#484848" stroke="none" stroke-width="0.8" />
<circle cx="125.40" cy="99.75" r="0.80" fill="#484848" stroke="none" stroke-width="0.8" />
<circle cx="100.84" cy="125.17" r="0.80" fill="#484848" stroke="none" stroke-width="0.8" />
<circle cx="100.00" cy="128.94" r="0.80" fill="#484848" stroke="none" stroke-width="0.8" />
<circle cx="101.72" cy="126.84" r="0.80" fill="#484848" stroke="none" stroke-width="0.8" />
<circle cx="140.73" cy="109.88" r="0.80" fill="#484848" stroke="none" stroke-width="0.8" />
<circle cx="125.12" cy="94.86" r="0.80" fill="#484848" stroke="none" stroke-width="0.8" />
<circle cx="107.21" cy="130.86" r="0.80" fill="#484848" stroke="none" stroke-width="0.8" />
<circle cx="138.05" cy="76.19" r="0.80" fill="#484848" stroke="none" stroke-width="0.8" />
<circle cx="122.30" cy="97.59" r="0.80" fill="#484848" stroke="none" stroke-width="0.8" />
<circle cx="135.87" cy="89.75" r="0.80" fill="#484848" stroke="none" stroke-width="0.8" />
<circle cx="121.54" cy="92.37" r="0.80" fill="#484848" stroke="none" stroke-width="0.8" />
<circle cx="117.18" cy="112.76" r="0.80" fill="#484848" stroke="none" stroke-width="0.8" />
<circle cx="100.08" cy="129.85" r="0.80" fill="#484848" stroke="none" stroke-width="0.8" />
<circle cx="89.99" cy="139.84" r="0.80" fill="#484848" stroke="none" stroke-width="0.8" />
<circle cx="135.14" cy="69.40" r="0.80" fill="#484848" stroke="none" stroke-width="0.8" />
<circle cx="104.65" cy="120.97" r="0.80" fill="#484848" stroke="none" stroke-width="0.8" />
<circle cx="106.46" cy="120.32" r="0.80" fill="#484848" stroke="none" stroke-width="0.8" />
<circle cx="116.62" cy="113.58" r="0.80" fill="#484848" stroke="none" stroke-width="0.8" />
<circle cx="93.51" cy="135.71" r="0.80" fill="#484848" stroke="none" stroke-width="0.8" />
<circle cx="112.78" cy="114.25" r="0.80" fill="#484848" stroke="none" stroke-width="0.8" />
<circle cx="118.22" cy="123.10" r="0.80" fill="#484848" stroke="none" stroke-width="0.8" />
<circle cx="126.49" cy="95.93" r="0.80" fill="#484848" stroke="none" stroke-width="0.8" />
<circle cx="125.19" cy="101.02" r="0.80" fill="#484848" stroke="none" stroke-width="0.8" />
<circle cx="126.11" cy="91.74" r="0.80" fill="#484848" stroke="none" stroke-width="0.8" />
<circle cx="92.69" cy="135.90" r="0.80" fill="#484848" stroke="none" stroke-width="0.8" />
<circle cx="130.80" cy="84.99" r="0.80" fill="#484848" stroke="none" stroke-width="0.8" />
<circle cx="105.07" cy="125.75" r="0.80" fill="#484848" stroke="none" stroke-width="0.8" />
<circle cx="109.67" cy="117.23" r="0.80" fill="#484848" stroke="none" stroke-width="0.8" />
<circle cx="106.88" cy="119.13" r="0.80" fill="#484848" stroke="none" stroke-width="0.8" />
<circle cx="107.97" cy="119.04" r="0.80" fill="#484848" stroke="none" stroke-width="0.8" />
<circle cx="115.71" cy="110.85" r="0.80" fill="#484848" stroke="none" stroke-width="0.8" />
<circle cx="125.29" cy="88.30" r="0.80" fill="#484848" stroke="none" stroke-width="0.8" />
<circle cx="128.55" cy="83.73" r="0.80" fill="#484848" stroke="none" stroke-width="0.8" />
<circle cx="106.27" cy="120.72" r="0.80" fill="#484848" stroke="none" stroke-width="0.8" />
<circle cx="109.90" cy="112.13" r="0.80" fill="#484848" stroke="none" stroke-width="0.8" />
<circle cx="132.99" cy="84.12" r="0.80" fill="#484848" stroke="none" stroke-width="0.8" />
<circle cx="123.90" cy="88.80" r="0.80" fill="#484848" stroke="none" stroke-width="0.8" />
<circle cx="125.00" cy="107.04" r="0.80" fill="#484848" stroke="none" stroke-width="0.8" />
<circle cx="129.26" cy="87.31" r="0.80" fill="#484848" stroke="none" stroke-width="0.8" />
<circle cx="132.10" cy="75.30" r="0.80" fill="#484848" stroke="none" stroke-width="0.8" />
<circle cx="120.97" cy="126.41" r="0.80" fill="#484848" stroke="none" stroke-width="0.8" />
<circle cx="112.20" cy="107.84" r="0.80" fill="#484848" stroke="none" stroke-width="0.8" />
<circle cx="123.37" cy="96.00" r="0.80" fill="#484848" stroke="none" stroke-width="0.8" />
<circle cx="110.86" cy="115.27" r="0.80" fill="#484848" stroke="none" stroke-width="0.8" />
<circle cx="124.37" cy="93.16" r="0.80" fill="#484848" stroke="none" stroke-width="0.8" />
<circle cx="121.86" cy="92.05" r="0.80" fill="#484848" stroke="none" stroke-width="0.8" />
<circle cx="107.16" cy="116.66" r="0.80" fill="#484848" stroke="none" stroke-width="0.8" />
<circle cx="133.39" cy="81.07" r="0.80" fill="#484848" stroke="none" stroke-width="0.8" />
<circle cx="133.86" cy="86.61" r="0.80" fill="#484848" stroke="none" stroke-width="0.8" />
<circle cx="112.41" cy="119.32" r="0.80" fill="#484848" stroke="none" stroke-width="0.8" />
<circle cx="108.78" cy="123.68" r="0.80" fill="#484848" stroke="none" stroke-width="0.8" />
<circle cx="124.61" cy="86.78" r="0.80" fill="#484848" stroke="none" stroke-width="0.8" />
<circle cx="120.84" cy="93.59" r="0.80" fill="#484848" stroke="none" stroke-width="0.8" />
<circle cx="99.28" cy="126.95" r="0.80" fill="#484848" stroke="none" stroke-width="0.8" />
<circle cx="97.39" cy="131.59" r="0.80" fill="#484848" stroke="none" stroke-width="0.8" />
<circle cx="122.14" cy="92.83" r="0.80" fill="#484848" stroke="none" stroke-width="0.8" />
<circle cx="130.10" cy="96.87" r="0.80" fill="#484848" stroke="none" stroke-width="0.8" />
<circle cx="125.03" cy="87.84" r="0.80" fill="#484848" stroke="none" stroke-width="0.8" />
<circle cx="130.88" cy="101.57" r="0.80" fill="#484848" stroke="none" stroke-width="0.8" />
<circle cx="127.83" cy="91.86" r="0.80" fill="#484848" stroke="none" stroke-width="0.8" />
<circle cx="124.45" cy="96.08" r="0.80" fill="#484848" stroke="none" stroke-width="0.8" />
<circle cx="124.84" cy="97.47" r="0.80" fill="#484848" stroke="none" stroke-width="0.8" />
<circle cx="119.51" cy="99.68" r="0.80" fill="#484848" stroke="none" stroke-width="0.8" />
<circle cx="131.53" cy="85.64" r="0.80" fill="#484848" stroke="none" stroke-width="0.8" />
<circle cx="115.52" cy="105.37" r="0.80" fill="#484848" stroke="none" stroke-width="0.8" />
<circle cx="131.98" cy="94.73" r="0.80" fill="#484848" stroke="none" stroke-width="0.8" />
<circle cx="119.40" cy="102.02" r="0.80" fill="#484848" stroke="none" stroke-width="0.8" />
<circle cx="135.69" cy="103.81" r="0.80" fill="#484848" stroke="none" stroke-width="0.8" />
<circle cx="126.16" cy="84.83" r="0.80" fill="#484848" stroke="none" stroke-width="0.8" />
<circle cx="116.12" cy="100.45" r="0.80" fill="#484848" stroke="none" stroke-width="0.8" />
<circle cx="127.65" cy="90.74" r="0.80" fill="#484848" stroke="none" stroke-width="0.8" />
<circle cx="107.55" cy="118.37" r="0.80" fill="#484848" stroke="none" stroke-width="0.8" />
<circle cx="101.45" cy="123.31" r="0.80" fill="#484848" stroke="none" stroke-width="0.8" />
<circle cx="105.78" cy="124.06" r="0.80" fill="#484848" stroke="none" stroke-width="0.8" />
<circle cx="102.64" cy="131.06" r="0.80" fill="#484848" stroke="none" stroke-width="0.8" />
<circle cx="125.60" cy="91.52" r="0.80" fill="#484848" stroke="none" stroke-width="0.8" />
<circle cx="120.96" cy="102.36" r="0.80" fill="#484848" stroke="none" stroke-width="0.8" />
<circle cx="121.57" cy="99.17" r="0.80" fill="#484848" stroke="none" stroke-width="0.8" />
<circle cx="118.70" cy="124.92" r="0.80" fill="#484848" stroke="none" stroke-width="0.8" />
<circle cx="93.16" cy="140.54" r="0.80" fill="#484848" stroke="none" stroke-width="0.8" />
<circle cx="92.86" cy="135.61" r="0.80" fill="#484848" stroke="none" stroke-width="0.8" />
<circle cx="103.46" cy="120.53" r="0.80" fill="#484848" stroke="none" stroke-width="0.8" />
<circle cx="117.60" cy="105.68" r="0.80" fill="#484848" stroke="none" stroke-width="0.8" />
<circle cx="111.96" cy="115.40" r="0.80" fill="#484848" stroke="none" stroke-width="0.8" />
<circle cx="124.03" cy="87.77" r="0.80" fill="#484848" stroke="none" stroke-width="0.8" />
<circle cx="118.47" cy="99.19" r="0.80" fill="#484848" stroke="none" stroke-width="0.8" />
<circle cx="125.64" cy="93.25" r="0.80" fill="#484848" stroke="none" stroke-width="0.8" />
<circle cx="90.00" cy="136.53" r="0.80" fill="#484848" stroke="none" stroke-width="0.8" />
<circle cx="119.26" cy="99.20" r="0.80" fill="#484848" stroke="none" stroke-width="0.8" />
<circle cx="119.22" cy="102.74" r="0.80" fill="#484848" stroke="none" stroke-width="0.8" />
<circle cx="121.94" cy="92.39" r="0.80" fill="#484848" stroke="none" stroke-width="0.8" />
<circle cx="104.46" cy="124.60" r="0.80" fill="#484848" stroke="none" stroke-width="0.8" />
<circle cx="122.14" cy="91.68" r="0.80" fill="#484848" stroke="none" stroke-width="0.8" />
<circle cx="137.77" cy="66.69" r="0.80" fill="#484848" stroke="none" stroke-width="0.8" />
<circle cx="129.76" cy="83.58" r="0.80" fill="#484848" stroke="none" stroke-width="0.8" />
<circle cx="97.55" cy="133.63" r="0.80" fill="#484848" stroke="none" stroke-width="0.8" />
<circle cx="116.70" cy="108.87" r="0.80" fill="#484848" stroke="none" stroke-width="0.8" />
<circle cx="121.26" cy="92.31" r="0.80" fill="#484848" stroke="none" stroke-width="0.8" />
<circle cx="118.12" cy="116.48" r="0.80" fill="#484848" stroke="none" stroke-width="0.8" />
<circle cx="101.15" cy="129.32" r="0.80" fill="#484848" stroke="none" stroke-width="0.8" />
<circle cx="124.96" cy="105.36" r="0.80" fill="#484848" stroke="none" stroke-width="0.8" />
<circle cx="93.07" cy="135.94" r="0.80" fill="#484848" stroke="none" stroke-width="0.8" />
<circle cx="106.32" cy="126.83" r="0.80" fill="#484848" stroke="none" stroke-width="0.8" />
<circle cx="104.61" cy="120.48" r="0.80" fill="#484848" stroke="none" stroke-width="0.8" />
<circle cx="138.47" cy="63.47" r="0.80" fill="#484848" stroke="none" stroke-width="0.8" />
<circle cx="104.49" cy="124.06" r="0.80" fill="#484848" stroke="none" stroke-width="0.8" />
<circle cx="122.14" cy="98.56" r="0.80" fill="#484848" stroke="none" stroke-width="0.8" />
<circle cx="134.45" cy="70.00" r="0.80" fill="#484848" stroke="none" stroke-width="0.8" />
<circle cx="98.81" cy="132.36" r="0.80" fill="#484848" stroke="none" stroke-width="0.8" />
<circle cx="122.70" cy="105.65" r="0.80" fill="#484848" stroke="none" stroke-width="0.8" />
<circle cx="119.43" cy="100.69" r="0.80" fill="#484848" stroke="none" stroke-width="0.8" />
<circle cx="99.58" cy="128.33" r="0.80" fill="#484848" stroke="none" stroke-width="0.8" />
<circle cx="93.74" cy="135.02" r="0.80" fill="#484848" stroke="none" stroke-width="0.8" />
<circle cx="108.16" cy="122.10" r="0.80" fill="#484848" stroke="none" stroke-width="0.8" />
<circle cx="103.36" cy="126.95" r="0.80" fill="#484848" stroke="none" stroke-width="0.8" />
<circle cx="126.29" cy="91.00" r="0.80" fill="#484848" stroke="none" stroke-width="0.8" />
<circle cx="105.89" cy="116.99" r="0.80" fill="#484848" stroke="none" stroke-width="0.8" />
<circle cx="102.39" cy="126.24" r="0.80" fill="#484848" stroke="none" stroke-width="0.8" />
<circle cx="125.56" cy="90.20" r="0.80" fill="#484848" stroke="none" stroke-width="0.8" />
<circle cx="132.46" cy="74.91" r="0.80" fill="#484848" stroke="none" stroke-width="0.8" />
<circle cx="122.32" cy="106.30" r="0.80" fill="#484848" stroke="none" stroke-width="0.8" />
<circle cx="128.94" cy="95.96" r="0.80" fill="#484848" stroke="none" stroke-width="0.8" />
<circle cx="121.29" cy="104.77" r="0.80" fill="#484848" stroke="none" stroke-width="0.8" />
<circle cx="112.77" cy="114.29" r="0.80" fill="#484848" stroke="none" stroke-width="0.8" />
<circle cx="121.05" cy="110.59" r="0.80" fill="#484848" stroke="none" stroke-width="0.8" />
<circle cx="114.12" cy="114.47" r="0.80" fill="#484848" stroke="none" stroke-width="0.8" />
<circle cx="116.12" cy="103.32" r="0.80" fill="#484848" stroke="none" stroke-width="0.8" />
<circle cx="124.70" cy="92.06" r="0.80" fill="#484848" stroke="none" stroke-width="0.8" />
<circle cx="112.03" cy="108.59" r="0.80" fill="#484848" stroke="none" stroke-width="0.8" />
<circle cx="115.42" cy="117.28" r="0.80" fill="#484848" stroke="none" stroke-width="0.8" />
<circle cx="104.09" cy="120.05" r="0.80" fill="#484848" stroke="none" stroke-width="0.8" />
<circle cx="135.09" cy="72.60" r="0.80" fill="#484848" stroke="none" stroke-width="0.8" />
<circle cx="102.30" cy="130.95" r="0.80" fill="#484848" stroke="none" stroke-width="0.8" />
<circle cx="118.12" cy="97.68" r="0.80" fill="#484848" stroke="none" stroke-width="0.8" />
<circle cx="111.03" cy="122.90" r="0.80" fill="#484848" stroke="none" stroke-width="0.8" />
<circle cx="124.56" cy="112.52" r="0.80" fill="#484848" stroke="none" stroke-width="0.8" />
<circle cx="111.20" cy="123.59" r="0.80" fill="#484848" stroke="none" stroke-width="0.8" />
<circle cx="100.14" cy="130.98" r="0.80" fill="#484848" stroke="none" stroke-width="0.8" />
<circle cx="128.36" cy="88.91" r="0.80" fill="#484848" stroke="none" stroke-width="0.8" />
<circle cx="128.90" cy="79.28" r="0.80" fill="#484848" stroke="none" stroke-width="0.8" />
<circle cx="134.26" cy="80.00" r="0.80" fill="#484848" stroke="none" stroke-width="0.8" />
<circle cx="125.51" cy="86.94" r="0.80" fill="#484848" stroke="none" stroke-width="0.8" />
<circle cx="119.38" cy="108.99" r="0.80" fill="#484848" stroke="none" stroke-width="0.8" />
<circle cx="106.68" cy="116.04" r="0.80" fill="#484848" stroke="none" stroke-width="0.8" />
<circle cx="135.14" cy="84.74" r="0.80" fill="#484848" stroke="none" stroke-width="0.8" />
<circle cx="123.86" cy="96.81" r="0.80" fill="#484848" stroke="none" stroke-width="0.8" />
<circle cx="136.97" cy="72.11" r="0.80" fill="#484848" stroke="none" stroke-width="0.8" />
<circle cx="120.50" cy="96.90" r="0.80" fill="#484848" stroke="none" stroke-width="0.8" />
<circle cx="100.56" cy="133.19" r="0.80" fill="#484848" stroke="none" stroke-width="0.8" />
<circle cx="122.84" cy="122.58" r="0.80" fill="#484848" stroke="none" stroke-width="0.8" />
<circle cx="111.57" cy="110.03" r="0.80" fill="#484848" stroke="none" stroke-width="0.8" />
<circle cx="136.45" cy="90.56" r="0.80" fill="#484848" stroke="none" stroke-width="0.8" />
<circle cx="138.98" cy="104.43" r="0.80" fill="#484848" stroke="none" stroke-width="0.8" />
<circle cx="115.68" cy="101.99" r="0.80" fill="#484848" stroke="none" stroke-width="0.8" />
<circle cx="111.03" cy="125.60" r="0.80" fill="#484848" stroke="none" stroke-width="0.8" />
<circle cx="118.96" cy="96.10" r="0.80" fill="#484848" stroke="none" stroke-width="0.8" />
<circle cx="123.44" cy="110.73" r="0.80" fill="#484848" stroke="none" stroke-width="0.8" />
<circle cx="129.01" cy="107.01" r="0.80" fill="#484848" stroke="none" stroke-width="0.8" />
<circle cx="116.87" cy="119.20" r="0.80" fill="#484848" stroke="none" stroke-width="0.8" />
<circle cx="123.12" cy="102.29" r="0.80" fill="#484848" stroke="none" stroke-width="0.8" />
<circle cx="124.62" cy="90.13" r="0.80" fill="#484848" stroke="none" stroke-width="0.8" />
<circle cx="116.51" cy="107.90" r="0.80" fill="#484848" stroke="none" stroke-width="0.8" />
<circle cx="115.17" cy="113.84" r="0.80" fill="#484848" stroke="none" stroke-width="0.8" />
<circle cx="129.05" cy="83.07" r="0.80" fill="#484848" stroke="none" stroke-width="0.8" />
<circle cx="102.32" cy="123.88" r="0.80" fill="#484848" stroke="none" stroke-width="0.8" />
<circle cx="134.83" cy="99.07" r="0.80" fill="#484848" stroke="none" stroke-width="0.8" />
<circle cx="125.97" cy="107.02" r="0.80" fill="#484848" stroke="none" stroke-width="0.8" />
<circle cx="96.47" cy="132.88" r="0.80" fill="#484848" stroke="none" stroke-width="0.8" />
<circle cx="133.66" cy="72.38" r="0.80" fill="#484848" stroke="none" stroke-width="0.8" />
<circle cx="120.82" cy="105.72" r="0.80" fill="#484848" stroke="none" stroke-width="0.8" />
<circle cx="116.36" cy="101.19" r="0.80" fill="#484848" stroke="none" stroke-width="0.8" />
<circle cx="108.22" cy="112.99" r="0.80" fill="#484848" stroke="none" stroke-width="0.8" />
<circle cx="122.72" cy="95.03" r="0.80" fill="#484848" stroke="none" stroke-width="0.8" />
<circle cx="127.40" cy="96.68" r="0.80" fill="#484848" stroke="none" stroke-width="0.8" />
<circle cx="91.74" cy="136.37" r="0.80" fill="#484848" stroke="none" stroke-width="0.8" />
<circle cx="111.10" cy="108.65" r="0.80" fill="#484848" stroke="none" stroke-width="0.8" />
<circle cx="111.86" cy="109.59" r="0.80" fill="#484848" stroke="none" stroke-width="0.8" />
<circle cx="115.06" cy="105.33" r="0.80" fill="#484848" stroke="none" stroke-width="0.8" />
<circle cx="128.77" cy="86.95" r="0.80" fill="#484848" stroke="none" stroke-width="0.8" />
<circle cx="131.39" cy="75.19" r="0.80" fill="#484848" stroke="none" stroke-width="0.8" />
<circle cx="128.92" cy="79.54" r="0.80" fill="#484848" stroke="none" stroke-width="0.8" />
<circle cx="115.35" cy="114.02" r="0.80" fill="#484848" stroke="none" stroke-width="0.8" />
<circle cx="115.37" cy="107.26" r="0.80" fill="#484848" stroke="none" stroke-width="0.8" />
<circle cx="122.60" cy="100.70" r="0.80" fill="#484848" stroke="none" stroke-width="0.8" />
<circle cx="102.30" cy="122.53" r="0.80" fill="#484848" stroke="none" stroke-width="0.8" />
<circle cx="120.20" cy="98.55" r="0.80" fill="#484848" stroke="none" stroke-width="0.8" />
<circle cx="90.61" cy="136.89" r="0.80" fill="#484848" stroke="none" stroke-width="0.8" />
<circle cx="110.52" cy="118.05" r="0.80" fill="#484848" stroke="none" stroke-width="0.8" />
<circle cx="106.75" cy="118.08" r="0.80" fill="#484848" stroke="none" stroke-width="0.8" />
<circle cx="130.02" cy="84.81" r="0.80" fill="#484848" stroke="none" stroke-width="0.8" />
<circle cx="121.46" cy="99.88" r="0.80" fill="#484848" stroke="none" stroke-width="0.8" />
<circle cx="116.89" cy="98.78" r="0.80" fill="#484848" stroke="none" stroke-width="0.8" />
<circle cx="121.80" cy="100.22" r="0.80" fill="#484848" stroke="none" stroke-width="0.8" />
<circle cx="106.51" cy="122.10" r="0.80" fill="#484848" stroke="none" stroke-width="0.8" />
<circle cx="119.69" cy="100.63" r="0.80" fill="#484848" stroke="none" stroke-width="0.8" />
<circle cx="122.76" cy="96.53" r="0.80" fill="#484848" stroke="none" stroke-width="0.8" />
<circle cx="127.35" cy="85.67" r="0.80" fill="#484848" stroke="none" stroke-width="0.8" />
<circle cx="104.88" cy="119.60" r="0.80" fill="#484848" stroke="none" stroke-width="0.8" />
<circle cx="113.41" cy="106.09" r="0.80" fill="#484848" stroke="none" stroke-width="0.8" />
<circle cx="136.91" cy="65.78" r="0.80" fill="#484848" stroke="none" stroke-width="0.8" />
<circle cx="121.46" cy="95.27" r="0.80" fill="#484848" stroke="none" stroke-width="0.8" />
<circle cx="111.70" cy="118.97" r="0.80" fill="#484848" stroke="none" stroke-width="0.8" />
<circle cx="126.22" cy="92.91" r="0.80" fill="#484848" stroke="none" stroke-width="0.8" />
<circle cx="120.56" cy="100.58" r="0.80" fill="#484848" stroke="none" stroke-width="0.8" />
<circle cx="132.14" cy="86.38" r="0.80" fill="#484848" stroke="none" stroke-width="0.8" />
<circle cx="119.56" cy="110.87" r="0.80" fill="#484848" stroke="none" stroke-width="0.8" />
<circle cx="116.37" cy="101.12" r="0.80" fill="#484848" stroke="none" stroke-width="0.8" />
<circle cx="127.59" cy="84.16" r="0.80" fill="#484848" stroke="none" stroke-width="0.8" />
<circle cx="134.32" cy="99.62" r="0.80" fill="#484848" stroke="none" stroke-width="0.8" />
<circle cx="125.58" cy="95.58" r="0.80" fill="#484848" stroke="none" stroke-width="0.8" />
<circle cx="136.32" cy="83.46" r="0.80" fill="#484848" stroke="none" stroke-width="0.8" />
<circle cx="114.50" cy="119.75" r="0.80" fill="#484848" stroke="none" stroke-width="0.8" />
<circle cx="106.75" cy="119.76" r="0.80" fill="#484848" stroke="none" stroke-width="0.8" />
<circle cx="130.66" cy="81.38" r="0.80" fill="#484848" stroke="none" stroke-width="0.8" />
<circle cx="133.79" cy="77.60" r="0.80" fill="#484848" stroke="none" stroke-width="0.8" />
<circle cx="131.34" cy="76.15" r="0.80" fill="#484848" stroke="none" stroke-width="0.8" />
<circle cx="130.86" cy="92.85" r="0.80" fill="#484848" stroke="none" stroke-width="0.8" />
<circle cx="118.98" cy="101.25" r="0.80" fill="#484848" stroke="none" stroke-width="0.8" />
<circle cx="128.70" cy="97.53" r="0.80" fill="#484848" stroke="none" stroke-width="0.8" />
<circle cx="128.33" cy="83.08" r="0.80" fill="#484848" stroke="none" stroke-width="0.8" />
<circle cx="118.05" cy="97.57" r="0.80" fill="#484848" stroke="none" stroke-width="0.8" />
<circle cx="106.48" cy="120.30" r="0.80" fill="#484848" stroke="none" stroke-width="0.8" />
<circle cx="127.08" cy="83.34" r="0.80" fill="#484848" stroke="none" stroke-width="0.8" />
<circle cx="106.93" cy="117.71" r="0.80" fill="#484848" stroke="none" stroke-width="0.8" />
<circle cx="122.84" cy="100.01" r="0.80" fill="#484848" stroke="none" stroke-width="0.8" />
<circle cx="136.26" cy="70.84" r="0.80" fill="#484848" stroke="none" stroke-width="0.8" />
<circle cx="121.71" cy="96.37" r="0.80" fill="#484848" stroke="none" stroke-width="0.8" />
<circle cx="128.66" cy="97.88" r="0.80" fill="#484848" stroke="none" stroke-width="0.8" />
<circle cx="123.60" cy="89.52" r="0.80" fill="#484848" stroke="none" stroke-width="0.8" />
<circle cx="110.93" cy="111.03" r="0.80" fill="#484848" stroke="none" stroke-width="0.8" />
<circle cx="102.68" cy="124.29" r="0.80" fill="#484848" stroke="none" stroke-width="0.8" />
<circle cx="106.37" cy="117.39" r="0.80" fill="#484848" stroke="none" stroke-width="0.8" />
<circle cx="124.50" cy="103.02" r="0.80" fill="#484848" stroke="none" stroke-width="0.8" />
<circle cx="96.34" cy="132.08" r="0.80" fill="#484848" stroke="none" stroke-width="0.8" />
<circle cx="106.84" cy="117.60" r="0.80" fill="#484848" stroke="none" stroke-width="0.8" />
<circle cx="124.27" cy="87.77" r="0.80" fill="#484848" stroke="none" stroke-width="0.8" />
<circle cx="104.58" cy="121.28" r="0.80" fill="#484848" stroke="none" stroke-width="0.8" />
<circle cx="118.02" cy="103.36" r="0.80" fill="#484848" stroke="none" stroke-width="0.8" />
<circle cx="117.85" cy="102.78" r="0.80" fill="#484848" stroke="none" stroke-width="0.8" />
<circle cx="102.54" cy="126.83" r="0.80" fill="#484848" stroke="none" stroke-width="0.8" />
<circle cx="105.94" cy="117.32" r="0.80" fill="#484848" stroke="none" stroke-width="0.8" />
<circle cx="117.55" cy="103.37" r="0.80" fill="#484848" stroke="none" stroke-width="0.8" />
<circle cx="113.42" cy="108.46" r="0.80" fill="#484848" stroke="none" stroke-width="0.8" />
<circle cx="117.26" cy="101.74" r="0.80" fill="#484848" stroke="none" stroke-width="0.8" />
<circle cx="109.77" cy="110.71" r="0.80" fill="#484848" stroke="none" stroke-width="0.8" />
<circle cx="131.44" cy="87.45" r="0.80" fill="#484848" stroke="none" stroke-width="0.8" />
<circle cx="142.02" cy="96.21" r="0.80" fill="#484848" stroke="none" stroke-width="0.8" />
<circle cx="112.83" cy="116.18" r="0.80" fill="#484848" stroke="none" stroke-width="0.8" />
<circle cx="93.82" cy="137.37" r="0.80" fill="#484848" stroke="none" stroke-width="0.8" />
<circle cx="127.42" cy="86.22" r="0.80" fill="#484848" stroke="none" stroke-width="0.8" />
<circle cx="107.08" cy="115.30" r="0.80" fill="#484848" stroke="none" stroke-width="0.8" />
<circle cx="132.14" cy="87.20" r="0.80" fill="#484848" stroke="none" stroke-width="0.8" />
<circle cx="117.94" cy="100.60" r="0.80" fill="#484848" stroke="none" stroke-width="0.8" />
<circle cx="134.08" cy="70.20" r="0.80" fill="#484848" stroke="none" stroke-width="0.8" />
<circle cx="112.23" cy="116.40" r="0.80" fill="#484848" stroke="none" stroke-width="0.8" />
<circle cx="92.35" cy="136.62" r="0.80" fill="#484848" stroke="none" stroke-width="0.8" />
<circle cx="120.48" cy="102.18" r="0.80" fill="#484848" stroke="none" stroke-width="0.8" />
<circle cx="104.72" cy="124.05" r="0.80" fill="#484848" stroke="none" stroke-width="0.8" />
<circle cx="135.21" cy="68.61" r="0.80" fill="#484848" stroke="none" stroke-width="0.8" />
<circle cx="124.33" cy="96.78" r="0.80" fill="#484848" stroke="none" stroke-width="0.8" />
<circle cx="101.55" cy="123.56" r="0.80" fill="#484848" stroke="none" stroke-width="0.8" />
<circle cx="126.26" cy="85.36" r="0.80" fill="#484848" stroke="none" stroke-width="0.8" />
<circle cx="115.38" cy="116.76" r="0.80" fill="#484848" stroke="none" stroke-width="0.8" />
<circle cx="129.07" cy="83.77" r="0.80" fill="#484848" stroke="none" stroke-width="0.8" />
<circle cx="128.96" cy="95.06" r="0.80" fill="#484848" stroke="none" stroke-width="0.8" />
<circle cx="107.34" cy="122.43" r="0.80" fill="#484848" stroke="none" stroke-width="0.8" />
<circle cx="127.84" cy="85.50" r="0.80" fill="#484848" stroke="none" stroke-width="0.8" />
<circle cx="117.25" cy="110.44" r="0.80" fill="#484848" stroke="none" stroke-width="0.8" />
<circle cx="111.27" cy="108.12" r="0.80" fill="#484848" stroke="none" stroke-width="0.8" />
<circle cx="132.52" cy="75.03" r="0.80" fill="#484848" stroke="none" stroke-width="0.8" />
<circle cx="120.51" cy="99.79" r="0.80" fill="#484848" stroke="none" stroke-width="0.8" />
<circle cx="124.64" cy="93.49" r="0.80" fill="#484848" stroke="none" stroke-width="0.8" />
<circle cx="122.75" cy="97.83" r="0.80" fill="#484848" stroke="none" stroke-width="0.8" />
<circle cx="113.77" cy="105.12" r="0.80" fill="#484848" stroke="none" stroke-width="0.8" />
<circle cx="110.66" cy="111.87" r="0.80" fill="#484848" stroke="none" stroke-width="0.8" />
<circle cx="112.38" cy="106.26" r="0.80" fill="#484848" stroke="none" stroke-width="0.8" />
<circle cx="133.38" cy="103.38" r="0.80" fill="#484848" stroke="none" stroke-width="0.8" />
<circle cx="118.28" cy="101.22" r="0.80" fill="#484848" stroke="none" stroke-width="0.8" />
<circle cx="130.95" cy="81.75" r="0.80" fill="#484848" stroke="none" stroke-width="0.8" />
<circle cx="128.35" cy="83.63" r="0.80" fill="#484848" stroke="none" stroke-width="0.8" />
<circle cx="130.83" cy="102.83" r="0.80" fill="#484848" stroke="none" stroke-width="0.8" />
<circle cx="99.60" cy="126.54" r="0.80" fill="#484848" stroke="none" stroke-width="0.8" />
<circle cx="130.92" cy="81.53" r="0.80" fill="#484848" stroke="none" stroke-width="0.8" />
<circle cx="119.78" cy="103.16" r="0.80" fill="#484848" stroke="none" stroke-width="0.8" />
<circle cx="130.11" cy="77.23" r="0.80" fill="#484848" stroke="none" stroke-width="0.8" />
<circle cx="133.28" cy="96.76" r="0.80" fill="#484848" stroke="none" stroke-width="0.8" />
<circle cx="123.38" cy="119.56" r="0.80" fill="#484848" stroke="none" stroke-width="0.8" />
<circle cx="128.99" cy="85.71" r="0.80" fill="#484848" stroke="none" stroke-width="0.8" />
<circle cx="110.81" cy="124.52" r="0.80" fill="#484848" stroke="none" stroke-width="0.8" />
<circle cx="106.03" cy="123.26" r="0.80" fill="#484848" stroke="none" stroke-width="0.8" />
<circle cx="124.83" cy="92.71" r="0.80" fill="#484848" stroke="none" stroke-width="0.8" />
<circle cx="108.26" cy="116.36" r="0.80" fill="#484848" stroke="none" stroke-width="0.8" />
<circle cx="128.71" cy="80.05" r="0.80" fill="#484848" stroke="none" stroke-width="0.8" />
<circle cx="107.42" cy="118.16" r="0.80" fill="#484848" stroke="none" stroke-width="0.8" />
<circle cx="98.69" cy="131.91" r="0.80" fill="#484848" stroke="none" stroke-width="0.8" />
<circle cx="107.65" cy="121.11" r="0.80" fill="#484848" stroke="none" stroke-width="0.8" />
<circle cx="121.10" cy="105.98" r="0.80" fill="#484848" stroke="none" stroke-width="0.8" />
<circle cx="104.45" cy="123.23" r="0.80" fill="#484848" stroke="none" stroke-width="0.8" />
<circle cx="124.18" cy="92.08" r="0.80" fill="#484848" stroke="none" stroke-width="0.8" />
<circle cx="110.79" cy="122.09" r="0.80" fill="#484848" stroke="none" stroke-width="0.8" />
<circle cx="119.69" cy="97.24" r="0.80" fill="#484848" stroke="none" stroke-width="0.8" />
<circle cx="118.77" cy="106.61" r="0.80" fill="#484848" stroke="none" stroke-width="0.8" />
<circle cx="134.07" cy="69.72" r="0.80" fill="#484848" stroke="none" stroke-width="0.8" />
<circle cx="117.07" cy="120.24" r="0.80" fill="#484848" stroke="none" stroke-width="0.8" />
<circle cx="111.41" cy="115.63" r="0.80" fill="#484848" stroke="none" stroke-width="0.8" />
<circle cx="107.85" cy="121.56" r="0.80" fill="#484848" stroke="none" stroke-width="0.8" />
<circle cx="110.49" cy="122.70" r="0.80" fill="#484848" stroke="none" stroke-width="0.8" />
<circle cx="123.89" cy="93.07" r="0.80" fill="#484848" stroke="none" stroke-width="0.8" />
<circle cx="130.38" cy="78.87" r="0.80" fill="#484848" stroke="none" stroke-width="0.8" />
<circle cx="92.89" cy="135.36" r="0.80" fill="#484848" stroke="none" stroke-width="0.8" />
<circle cx="100.62" cy="128.28" r="0.80" fill="#484848" stroke="none" stroke-width="0.8" />
<circle cx="94.70" cy="135.69" r="0.80" fill="#484848" stroke="none" stroke-width="0.8" />
<circle cx="136.11" cy="67.90" r="0.80" fill="#484848" stroke="none" stroke-width="0.8" />
<circle cx="96.22" cy="131.86" r="0.80" fill="#484848" stroke="none" stroke-width="0.8" />
<circle cx="100.50" cy="125.97" r="0.80" fill="#484848" stroke="none" stroke-width="0.8" />
<circle cx="132.32" cy="74.19" r="0.80" fill="#484848" stroke="none" stroke-width="0.8" />
<circle cx="119.26" cy="99.41" r="0.80" fill="#484848" stroke="none" stroke-width="0.8" />
<circle cx="97.45" cy="132.07" r="0.80" fill="#484848" stroke="none" stroke-width="0.8" />
<circle cx="139.40" cy="97.26" r="0.80" fill="#484848" stroke="none" stroke-width="0.8" />
<circle cx="100.35" cy="128.07" r="0.80" fill="#484848" stroke="none" stroke-width="0.8" />
<circle cx="95.36" cy="136.92" r="0.80" fill="#484848" stroke="none" stroke-width="0.8" />
<circle cx="107.58" cy="119.61" r="0.80" fill="#484848" stroke="none" stroke-width="0.8" />
<circle cx="110.16" cy="113.06" r="0.80" fill="#484848" stroke="none" stroke-width="0.8" />
<circle cx="123.89" cy="95.35" r="0.80" fill="#484848" stroke="none" stroke-width="0.8" />
<circle cx="125.74" cy="98.05" r="0.80" fill="#484848" stroke="none" stroke-width="0.8" />
<circle cx="120.15" cy="114.52" r="0.80" fill="#484848" stroke="none" stroke-width="0.8" />
<circle cx="124.09" cy="89.05" r="0.80" fill="#484848" stroke="none" stroke-width="0.8" />
<circle cx="97.01" cy="132.85" r="0.80" fill="#484848" stroke="none" stroke-width="0.8" />
<circle cx="132.36" cy="125.54" r="0.80" fill="#484848" stroke="none" stroke-width="0.8" />
<circle cx="89.77" cy="139.96" r="0.80" fill="#484848" stroke="none" stroke-width="0.8" />
<circle cx="107.44" cy="118.03" r="0.80" fill="#484848" stroke="none" stroke-width="0.8" />
<circle cx="114.06" cy="118.42" r="0.80" fill="#484848" stroke="none" stroke-width="0.8" />
<circle cx="115.59" cy="109.19" r="0.80" fill="#484848" stroke="none" stroke-width="0.8" />
<circle cx="132.04" cy="79.56" r="0.80" fill="#484848" stroke="none" stroke-width="0.8" />
<circle cx="112.77" cy="110.68" r="0.80" fill="#484848" stroke="none" stroke-width="0.8" />
<circle cx="124.66" cy="100.13" r="0.80" fill="#484848" stroke="none" stroke-width="0.8" />
<circle cx="117.83" cy="110.97" r="0.80" fill="#484848" stroke="none" stroke-width="0.8" />
<circle cx="127.26" cy="83.38" r="0.80" fill="#484848" stroke="none" stroke-width="0.8" />
<circle cx="93.24" cy="136.11" r="0.80" fill="#484848" stroke="none" stroke-width="0.8" />
<circle cx="125.76" cy="96.61" r="0.80" fill="#484848" stroke="none" stroke-width="0.8" />
<circle cx="110.62" cy="117.26" r="0.80" fill="#484848" stroke="none" stroke-width="0.8" />
<circle cx="133.02" cy="79.71" r="0.80" fill="#484848" stroke="none" stroke-width="0.8" />
<circle cx="102.16" cy="125.51" r="0.80" fill="#484848" stroke="none" stroke-width="0.8" />
<circle cx="124.36" cy="96.05" r="0.80" fill="#484848" stroke="none" stroke-width="0.8" />
<circle cx="103.37" cy="120.82" r="0.80" fill="#484848" stroke="none" stroke-width="0.8" />
<circle cx="107.18" cy="121.90" r="0.80" fill="#484848" stroke="none" stroke-width="0.8" />
<circle cx="94.43" cy="134.11" r="0.80" fill="#484848" stroke="none" stroke-width="0.8" />
<circle cx="111.90" cy="109.85" r="0.80" fill="#484848" stroke="none" stroke-width="0.8" />
<circle cx="129.54" cy="89.73" r="0.80" fill="#484848" stroke="none" stroke-width="0.8" />
<circle cx="116.01" cy="111.64" r="0.80" fill="#484848" stroke="none" stroke-width="0.8" />
<circle cx="151.50" cy="43.60" r="0.90" fill="#e2e2e2" stroke="none" stroke-width="0.8" />
<circle cx="165.90" cy="31.90" r="0.90" fill="#e2e2e2" stroke="none" stroke-width="0.8" />
<circle cx="152.60" cy="42.60" r="0.90" fill="#e2e2e2" stroke="none" stroke-width="0.8" />
<text x="49.80" y="29.00" font-size="8.8" textLength="38.40" lengthAdjust="spacingAndGlyphs" fill="#4a6db4" stroke="#4a6db4" stroke-width="0.13">KO: 3,514</text>
<text x="174.20" y="142.80" font-size="8.9" text-anchor="end" textLength="58.40" lengthAdjust="spacingAndGlyphs" fill="#666" stroke="#666" stroke-width="0.13">Control: 4,607</text>
<line x1="42.20" y1="50.30" x2="47.30" y2="50.30" stroke="#6d6d6d" stroke-width="0.9" />
<text x="38.40" y="53.60" font-size="9.3" text-anchor="end" stroke="#231f20" stroke-width="0.13">10</text>
<line x1="42.20" y1="96.90" x2="47.30" y2="96.90" stroke="#6d6d6d" stroke-width="0.9" />
<text x="38.40" y="100.20" font-size="9.3" text-anchor="end" stroke="#231f20" stroke-width="0.13">5</text>
<line x1="42.20" y1="142.30" x2="47.30" y2="142.30" stroke="#6d6d6d" stroke-width="0.9" />
<text x="38.40" y="145.60" font-size="9.3" text-anchor="end" stroke="#231f20" stroke-width="0.13">0</text>
<line x1="53.00" y1="146.60" x2="53.00" y2="152.00" stroke="#6d6d6d" stroke-width="0.9" />
<text x="53.00" y="163.80" font-size="9.0" text-anchor="middle" stroke="#231f20" stroke-width="0.13">0</text>
<line x1="98.50" y1="146.60" x2="98.50" y2="152.00" stroke="#6d6d6d" stroke-width="0.9" />
<text x="98.50" y="163.80" font-size="9.0" text-anchor="middle" stroke="#231f20" stroke-width="0.13">5</text>
<line x1="144.30" y1="146.60" x2="144.30" y2="152.00" stroke="#6d6d6d" stroke-width="0.9" />
<text x="144.30" y="163.80" font-size="9.0" text-anchor="middle" stroke="#231f20" stroke-width="0.13">10</text>
<text x="112.30" y="178.60" font-size="10.8" text-anchor="middle" textLength="83.20" lengthAdjust="spacingAndGlyphs" stroke="#231f20" stroke-width="0.13">Control microglia</text>
<text stroke="#231f20" stroke-width="0.13" x="112.8" y="190.0" font-size="10.8" text-anchor="middle" textLength="90.8" lengthAdjust="spacingAndGlyphs">log<tspan font-size="7.5" dy="2.7">2</tspan><tspan dy="-2.7"> (norm tags + 1)</tspan></text>
<text stroke="#231f20" stroke-width="0.13" transform="translate(8.8,131.3) rotate(-90)" x="0" y="0" font-size="10.1" textLength="98.4" lengthAdjust="spacingAndGlyphs"><tspan font-style="italic">MEF2C</tspan>-KO microglia</text>
<text stroke="#231f20" stroke-width="0.13" transform="translate(20.4,127.0) rotate(-90)" x="0" y="0" font-size="10.1" textLength="90.8" lengthAdjust="spacingAndGlyphs">log<tspan font-size="7" dy="2.5">2</tspan><tspan dy="-2.5"> (norm tags + 1)</tspan></text>
<text x="201.00" y="11.20" font-size="14" textLength="9.80" lengthAdjust="spacingAndGlyphs" fill="#000" font-weight="bold">b</text>
<text x="200.60" y="25.00" font-size="10" textLength="55.70" lengthAdjust="spacingAndGlyphs" stroke="#231f20" stroke-width="0.13">Enriched in:</text>
<text x="285.60" y="23.60" font-size="8.4" text-anchor="middle" textLength="20.20" lengthAdjust="spacingAndGlyphs" stroke="#231f20" stroke-width="0.13">Motif</text>
<text stroke="#231f20" stroke-width="0.13" x="332.8" y="23.60" font-size="8.4" text-anchor="middle" textLength="30.0" lengthAdjust="spacingAndGlyphs">–log (<tspan font-style="italic">P</tspan>)</text>
<text x="390.00" y="23.60" font-size="8.4" text-anchor="middle" textLength="65.30" lengthAdjust="spacingAndGlyphs" stroke="#231f20" stroke-width="0.13">Target(%)/BG(%)</text>
<text x="453.50" y="23.60" font-size="8.4" text-anchor="middle" textLength="33.40" lengthAdjust="spacingAndGlyphs" stroke="#231f20" stroke-width="0.13">Matches</text>
<line x1="251.80" y1="28.50" x2="482.40" y2="28.50" stroke="#666" stroke-width="1.0" />
<text transform="translate(257.90,39.00) scale(0.701,0.116)" font-size="10" font-weight="bold" fill="#e4303a" stroke="#e4303a" stroke-width="0.45" vector-effect="non-scaling-stroke">T</text>
<text transform="translate(257.90,38.19) scale(0.551,0.139)" font-size="10" font-weight="bold" fill="#f6a623" stroke="#f6a623" stroke-width="0.45" vector-effect="non-scaling-stroke">G</text>
<text transform="translate(257.90,37.22) scale(0.593,0.810)" font-size="10" font-weight="bold" fill="#2fa84a" stroke="#2fa84a" stroke-width="0.45" vector-effect="non-scaling-stroke">A</text>
<text transform="translate(262.10,39.00) scale(0.701,0.116)" font-size="10" font-weight="bold" fill="#e4303a" stroke="#e4303a" stroke-width="0.45" vector-effect="non-scaling-stroke">T</text>
<text transform="translate(262.10,38.19) scale(0.551,0.139)" font-size="10" font-weight="bold" fill="#f6a623" stroke="#f6a623" stroke-width="0.45" vector-effect="non-scaling-stroke">G</text>
<text transform="translate(262.10,37.22) scale(0.593,0.810)" font-size="10" font-weight="bold" fill="#2fa84a" stroke="#2fa84a" stroke-width="0.45" vector-effect="non-scaling-stroke">A</text>
<text transform="translate(266.30,39.00) scale(0.701,0.116)" font-size="10" font-weight="bold" fill="#e4303a" stroke="#e4303a" stroke-width="0.45" vector-effect="non-scaling-stroke">T</text>
<text transform="translate(266.30,38.19) scale(0.551,0.139)" font-size="10" font-weight="bold" fill="#f6a623" stroke="#f6a623" stroke-width="0.45" vector-effect="non-scaling-stroke">G</text>
<text transform="translate(266.30,37.22) scale(0.593,0.810)" font-size="10" font-weight="bold" fill="#2fa84a" stroke="#2fa84a" stroke-width="0.45" vector-effect="non-scaling-stroke">A</text>
<text transform="translate(270.50,39.00) scale(0.593,0.116)" font-size="10" font-weight="bold" fill="#3355c0" stroke="#3355c0" stroke-width="0.45" vector-effect="non-scaling-stroke">C</text>
<text transform="translate(270.50,38.19) scale(0.593,0.347)" font-size="10" font-weight="bold" fill="#2fa84a" stroke="#2fa84a" stroke-width="0.45" vector-effect="non-scaling-stroke">A</text>
<text transform="translate(270.50,35.76) scale(0.551,0.636)" font-size="10" font-weight="bold" fill="#f6a623" stroke="#f6a623" stroke-width="0.45" vector-effect="non-scaling-stroke">G</text>
<text transform="translate(274.70,39.00) scale(0.551,0.174)" font-size="10" font-weight="bold" fill="#f6a623" stroke="#f6a623" stroke-width="0.45" vector-effect="non-scaling-stroke">G</text>
<text transform="translate(274.70,37.78) scale(0.593,0.926)" font-size="10" font-weight="bold" fill="#2fa84a" stroke="#2fa84a" stroke-width="0.45" vector-effect="non-scaling-stroke">A</text>
<text transform="translate(278.90,39.00) scale(0.551,1.099)" font-size="10" font-weight="bold" fill="#f6a623" stroke="#f6a623" stroke-width="0.45" vector-effect="non-scaling-stroke">G</text>
<text transform="translate(283.10,39.00) scale(0.551,1.099)" font-size="10" font-weight="bold" fill="#f6a623" stroke="#f6a623" stroke-width="0.45" vector-effect="non-scaling-stroke">G</text>
<text transform="translate(287.30,39.00) scale(0.593,1.099)" font-size="10" font-weight="bold" fill="#2fa84a" stroke="#2fa84a" stroke-width="0.45" vector-effect="non-scaling-stroke">A</text>
<text transform="translate(291.50,39.00) scale(0.551,0.116)" font-size="10" font-weight="bold" fill="#f6a623" stroke="#f6a623" stroke-width="0.45" vector-effect="non-scaling-stroke">G</text>
<text transform="translate(291.50,38.19) scale(0.593,0.984)" font-size="10" font-weight="bold" fill="#2fa84a" stroke="#2fa84a" stroke-width="0.45" vector-effect="non-scaling-stroke">A</text>
<text transform="translate(295.70,39.00) scale(0.593,0.116)" font-size="10" font-weight="bold" fill="#3355c0" stroke="#3355c0" stroke-width="0.45" vector-effect="non-scaling-stroke">C</text>
<text transform="translate(295.70,38.19) scale(0.701,0.116)" font-size="10" font-weight="bold" fill="#e4303a" stroke="#e4303a" stroke-width="0.45" vector-effect="non-scaling-stroke">T</text>
<text transform="translate(295.70,37.38) scale(0.551,0.694)" font-size="10" font-weight="bold" fill="#f6a623" stroke="#f6a623" stroke-width="0.45" vector-effect="non-scaling-stroke">G</text>
<text transform="translate(299.90,39.00) scale(0.593,0.116)" font-size="10" font-weight="bold" fill="#3355c0" stroke="#3355c0" stroke-width="0.45" vector-effect="non-scaling-stroke">C</text>
<text transform="translate(299.90,38.19) scale(0.701,0.926)" font-size="10" font-weight="bold" fill="#e4303a" stroke="#e4303a" stroke-width="0.45" vector-effect="non-scaling-stroke">T</text>
<text transform="translate(304.10,39.00) scale(0.593,0.116)" font-size="10" font-weight="bold" fill="#3355c0" stroke="#3355c0" stroke-width="0.45" vector-effect="non-scaling-stroke">C</text>
<text transform="translate(304.10,38.19) scale(0.701,0.174)" font-size="10" font-weight="bold" fill="#e4303a" stroke="#e4303a" stroke-width="0.45" vector-effect="non-scaling-stroke">T</text>
<text transform="translate(304.10,36.97) scale(0.593,0.289)" font-size="10" font-weight="bold" fill="#2fa84a" stroke="#2fa84a" stroke-width="0.45" vector-effect="non-scaling-stroke">A</text>
<text transform="translate(304.10,34.95) scale(0.551,0.463)" font-size="10" font-weight="bold" fill="#f6a623" stroke="#f6a623" stroke-width="0.45" vector-effect="non-scaling-stroke">G</text>
<text x="333.00" y="37.80" font-size="8.3" text-anchor="middle" stroke="#231f20" stroke-width="0.13" letter-spacing="0.3">1,674</text>
<text x="390.00" y="37.80" font-size="8.3" text-anchor="middle" stroke="#231f20" stroke-width="0.13" letter-spacing="0.45">51/13</text>
<text x="453.40" y="37.80" font-size="8.3" text-anchor="middle" stroke="#231f20" stroke-width="0.13" letter-spacing="0.2">PU.1</text>
<text transform="translate(261.40,48.35) scale(0.701,0.116)" font-size="10" font-weight="bold" fill="#e4303a" stroke="#e4303a" stroke-width="0.45" vector-effect="non-scaling-stroke">T</text>
<text transform="translate(261.40,47.54) scale(0.593,0.116)" font-size="10" font-weight="bold" fill="#2fa84a" stroke="#2fa84a" stroke-width="0.45" vector-effect="non-scaling-stroke">A</text>
<text transform="translate(261.40,46.73) scale(0.551,0.405)" font-size="10" font-weight="bold" fill="#f6a623" stroke="#f6a623" stroke-width="0.45" vector-effect="non-scaling-stroke">G</text>
<text transform="translate(265.60,48.35) scale(0.551,0.116)" font-size="10" font-weight="bold" fill="#f6a623" stroke="#f6a623" stroke-width="0.45" vector-effect="non-scaling-stroke">G</text>
<text transform="translate(265.60,47.54) scale(0.593,0.926)" font-size="10" font-weight="bold" fill="#2fa84a" stroke="#2fa84a" stroke-width="0.45" vector-effect="non-scaling-stroke">A</text>
<text transform="translate(269.80,48.35) scale(0.701,1.099)" font-size="10" font-weight="bold" fill="#e4303a" stroke="#e4303a" stroke-width="0.45" vector-effect="non-scaling-stroke">T</text>
<text transform="translate(274.00,48.35) scale(0.551,1.099)" font-size="10" font-weight="bold" fill="#f6a623" stroke="#f6a623" stroke-width="0.45" vector-effect="non-scaling-stroke">G</text>
<text transform="translate(278.20,48.35) scale(0.593,1.041)" font-size="10" font-weight="bold" fill="#2fa84a" stroke="#2fa84a" stroke-width="0.45" vector-effect="non-scaling-stroke">A</text>
<text transform="translate(282.40,48.35) scale(0.551,0.174)" font-size="10" font-weight="bold" fill="#f6a623" stroke="#f6a623" stroke-width="0.45" vector-effect="non-scaling-stroke">G</text>
<text transform="translate(282.40,47.13) scale(0.593,0.579)" font-size="10" font-weight="bold" fill="#3355c0" stroke="#3355c0" stroke-width="0.45" vector-effect="non-scaling-stroke">C</text>
<text transform="translate(286.60,48.35) scale(0.701,1.099)" font-size="10" font-weight="bold" fill="#e4303a" stroke="#e4303a" stroke-width="0.45" vector-effect="non-scaling-stroke">T</text>
<text transform="translate(290.80,48.35) scale(0.593,1.099)" font-size="10" font-weight="bold" fill="#3355c0" stroke="#3355c0" stroke-width="0.45" vector-effect="non-scaling-stroke">C</text>
<text transform="translate(295.00,48.35) scale(0.593,1.041)" font-size="10" font-weight="bold" fill="#2fa84a" stroke="#2fa84a" stroke-width="0.45" vector-effect="non-scaling-stroke">A</text>
<text transform="translate(299.20,48.35) scale(0.593,0.116)" font-size="10" font-weight="bold" fill="#3355c0" stroke="#3355c0" stroke-width="0.45" vector-effect="non-scaling-stroke">C</text>
<text transform="translate(299.20,47.54) scale(0.551,0.116)" font-size="10" font-weight="bold" fill="#f6a623" stroke="#f6a623" stroke-width="0.45" vector-effect="non-scaling-stroke">G</text>
<text transform="translate(299.20,46.73) scale(0.701,0.694)" font-size="10" font-weight="bold" fill="#e4303a" stroke="#e4303a" stroke-width="0.45" vector-effect="non-scaling-stroke">T</text>
<text x="333.00" y="47.15" font-size="8.3" text-anchor="middle" stroke="#231f20" stroke-width="0.13" letter-spacing="0.3">747</text>
<text x="390.00" y="47.15" font-size="8.3" text-anchor="middle" stroke="#231f20" stroke-width="0.13" letter-spacing="0.45">20/4</text>
<text x="453.40" y="47.15" font-size="8.3" text-anchor="middle" stroke="#231f20" stroke-width="0.13" letter-spacing="0.2">AP-1</text>
<text transform="translate(257.90,57.70) scale(0.701,0.405)" font-size="10" font-weight="bold" fill="#e4303a" stroke="#e4303a" stroke-width="0.45" vector-effect="non-scaling-stroke">T</text>
<text transform="translate(257.90,54.87) scale(0.551,0.521)" font-size="10" font-weight="bold" fill="#f6a623" stroke="#f6a623" stroke-width="0.45" vector-effect="non-scaling-stroke">G</text>
<text transform="translate(262.10,57.70) scale(0.701,0.231)" font-size="10" font-weight="bold" fill="#e4303a" stroke="#e4303a" stroke-width="0.45" vector-effect="non-scaling-stroke">T</text>
<text transform="translate(262.10,56.08) scale(0.593,0.810)" font-size="10" font-weight="bold" fill="#3355c0" stroke="#3355c0" stroke-width="0.45" vector-effect="non-scaling-stroke">C</text>
<text transform="translate(266.30,57.70) scale(0.701,1.099)" font-size="10" font-weight="bold" fill="#e4303a" stroke="#e4303a" stroke-width="0.45" vector-effect="non-scaling-stroke">T</text>
<text transform="translate(270.50,57.70) scale(0.593,1.099)" font-size="10" font-weight="bold" fill="#2fa84a" stroke="#2fa84a" stroke-width="0.45" vector-effect="non-scaling-stroke">A</text>
<text transform="translate(274.70,57.70) scale(0.701,1.099)" font-size="10" font-weight="bold" fill="#e4303a" stroke="#e4303a" stroke-width="0.45" vector-effect="non-scaling-stroke">T</text>
<text transform="translate(278.90,57.70) scale(0.701,1.099)" font-size="10" font-weight="bold" fill="#e4303a" stroke="#e4303a" stroke-width="0.45" vector-effect="non-scaling-stroke">T</text>
<text transform="translate(283.10,57.70) scale(0.701,1.099)" font-size="10" font-weight="bold" fill="#e4303a" stroke="#e4303a" stroke-width="0.45" vector-effect="non-scaling-stroke">T</text>
<text transform="translate(287.30,57.70) scale(0.701,1.099)" font-size="10" font-weight="bold" fill="#e4303a" stroke="#e4303a" stroke-width="0.45" vector-effect="non-scaling-stroke">T</text>
<text transform="translate(291.50,57.70) scale(0.701,1.099)" font-size="10" font-weight="bold" fill="#e4303a" stroke="#e4303a" stroke-width="0.45" vector-effect="non-scaling-stroke">T</text>
<text transform="translate(295.70,57.70) scale(0.701,0.116)" font-size="10" font-weight="bold" fill="#e4303a" stroke="#e4303a" stroke-width="0.45" vector-effect="non-scaling-stroke">T</text>
<text transform="translate(295.70,56.89) scale(0.593,0.984)" font-size="10" font-weight="bold" fill="#2fa84a" stroke="#2fa84a" stroke-width="0.45" vector-effect="non-scaling-stroke">A</text>
<text transform="translate(299.90,57.70) scale(0.701,0.231)" font-size="10" font-weight="bold" fill="#e4303a" stroke="#e4303a" stroke-width="0.45" vector-effect="non-scaling-stroke">T</text>
<text transform="translate(299.90,56.08) scale(0.593,0.231)" font-size="10" font-weight="bold" fill="#2fa84a" stroke="#2fa84a" stroke-width="0.45" vector-effect="non-scaling-stroke">A</text>
<text transform="translate(299.90,54.46) scale(0.551,0.521)" font-size="10" font-weight="bold" fill="#f6a623" stroke="#f6a623" stroke-width="0.45" vector-effect="non-scaling-stroke">G</text>
<text transform="translate(304.10,57.70) scale(0.593,0.231)" font-size="10" font-weight="bold" fill="#2fa84a" stroke="#2fa84a" stroke-width="0.45" vector-effect="non-scaling-stroke">A</text>
<text transform="translate(304.10,56.08) scale(0.551,0.231)" font-size="10" font-weight="bold" fill="#f6a623" stroke="#f6a623" stroke-width="0.45" vector-effect="non-scaling-stroke">G</text>
<text transform="translate(304.10,54.46) scale(0.593,0.463)" font-size="10" font-weight="bold" fill="#3355c0" stroke="#3355c0" stroke-width="0.45" vector-effect="non-scaling-stroke">C</text>
<text x="333.00" y="56.50" font-size="8.3" text-anchor="middle" stroke="#231f20" stroke-width="0.13" letter-spacing="0.3">700</text>
<text x="390.00" y="56.50" font-size="8.3" text-anchor="middle" stroke="#231f20" stroke-width="0.13" letter-spacing="0.45">17/3</text>
<text x="453.40" y="56.50" font-size="8.3" text-anchor="middle" stroke="#231f20" stroke-width="0.13" letter-spacing="0.2">MEF2C</text>
<text transform="translate(261.40,67.05) scale(0.562,0.347)" font-size="10" font-weight="bold" fill="#f6a623" stroke="#f6a623" stroke-width="0.45" vector-effect="non-scaling-stroke">G</text>
<text transform="translate(261.40,64.62) scale(0.606,0.694)" font-size="10" font-weight="bold" fill="#2fa84a" stroke="#2fa84a" stroke-width="0.45" vector-effect="non-scaling-stroke">A</text>
<text transform="translate(265.69,67.05) scale(0.716,1.041)" font-size="10" font-weight="bold" fill="#e4303a" stroke="#e4303a" stroke-width="0.45" vector-effect="non-scaling-stroke">T</text>
<text transform="translate(269.98,67.05) scale(0.716,1.041)" font-size="10" font-weight="bold" fill="#e4303a" stroke="#e4303a" stroke-width="0.45" vector-effect="non-scaling-stroke">T</text>
<text transform="translate(274.27,67.05) scale(0.562,0.231)" font-size="10" font-weight="bold" fill="#f6a623" stroke="#f6a623" stroke-width="0.45" vector-effect="non-scaling-stroke">G</text>
<text transform="translate(274.27,65.43) scale(0.606,0.347)" font-size="10" font-weight="bold" fill="#2fa84a" stroke="#2fa84a" stroke-width="0.45" vector-effect="non-scaling-stroke">A</text>
<text transform="translate(274.27,63.00) scale(0.716,0.405)" font-size="10" font-weight="bold" fill="#e4303a" stroke="#e4303a" stroke-width="0.45" vector-effect="non-scaling-stroke">T</text>
<text transform="translate(278.56,67.05) scale(0.562,0.231)" font-size="10" font-weight="bold" fill="#f6a623" stroke="#f6a623" stroke-width="0.45" vector-effect="non-scaling-stroke">G</text>
<text transform="translate(278.56,65.43) scale(0.606,0.694)" font-size="10" font-weight="bold" fill="#3355c0" stroke="#3355c0" stroke-width="0.45" vector-effect="non-scaling-stroke">C</text>
<text transform="translate(282.85,67.05) scale(0.562,1.041)" font-size="10" font-weight="bold" fill="#f6a623" stroke="#f6a623" stroke-width="0.45" vector-effect="non-scaling-stroke">G</text>
<text transform="translate(287.14,67.05) scale(0.606,1.041)" font-size="10" font-weight="bold" fill="#3355c0" stroke="#3355c0" stroke-width="0.45" vector-effect="non-scaling-stroke">C</text>
<text transform="translate(291.43,67.05) scale(0.606,1.041)" font-size="10" font-weight="bold" fill="#2fa84a" stroke="#2fa84a" stroke-width="0.45" vector-effect="non-scaling-stroke">A</text>
<text transform="translate(295.72,67.05) scale(0.606,1.041)" font-size="10" font-weight="bold" fill="#2fa84a" stroke="#2fa84a" stroke-width="0.45" vector-effect="non-scaling-stroke">A</text>
<text transform="translate(300.01,67.05) scale(0.716,0.231)" font-size="10" font-weight="bold" fill="#e4303a" stroke="#e4303a" stroke-width="0.45" vector-effect="non-scaling-stroke">T</text>
<text transform="translate(300.01,65.43) scale(0.606,0.810)" font-size="10" font-weight="bold" fill="#3355c0" stroke="#3355c0" stroke-width="0.45" vector-effect="non-scaling-stroke">C</text>
<text x="333.00" y="65.85" font-size="8.3" text-anchor="middle" stroke="#231f20" stroke-width="0.13" letter-spacing="0.3">246</text>
<text x="390.00" y="65.85" font-size="8.3" text-anchor="middle" stroke="#231f20" stroke-width="0.13" letter-spacing="0.45">16/6</text>
<text x="453.40" y="65.85" font-size="8.3" text-anchor="middle" stroke="#231f20" stroke-width="0.13" letter-spacing="0.2">CEBP</text>
<text transform="translate(261.40,76.40) scale(0.562,0.116)" font-size="10" font-weight="bold" fill="#f6a623" stroke="#f6a623" stroke-width="0.45" vector-effect="non-scaling-stroke">G</text>
<text transform="translate(261.40,75.59) scale(0.716,0.868)" font-size="10" font-weight="bold" fill="#e4303a" stroke="#e4303a" stroke-width="0.45" vector-effect="non-scaling-stroke">T</text>
<text transform="translate(265.69,76.40) scale(0.606,0.116)" font-size="10" font-weight="bold" fill="#3355c0" stroke="#3355c0" stroke-width="0.45" vector-effect="non-scaling-stroke">C</text>
<text transform="translate(265.69,75.59) scale(0.562,0.868)" font-size="10" font-weight="bold" fill="#f6a623" stroke="#f6a623" stroke-width="0.45" vector-effect="non-scaling-stroke">G</text>
<text transform="translate(269.98,76.40) scale(0.716,0.984)" font-size="10" font-weight="bold" fill="#e4303a" stroke="#e4303a" stroke-width="0.45" vector-effect="non-scaling-stroke">T</text>
<text transform="translate(274.27,76.40) scale(0.562,1.041)" font-size="10" font-weight="bold" fill="#f6a623" stroke="#f6a623" stroke-width="0.45" vector-effect="non-scaling-stroke">G</text>
<text transform="translate(278.56,76.40) scale(0.562,1.041)" font-size="10" font-weight="bold" fill="#f6a623" stroke="#f6a623" stroke-width="0.45" vector-effect="non-scaling-stroke">G</text>
<text transform="translate(282.85,76.40) scale(0.606,0.116)" font-size="10" font-weight="bold" fill="#3355c0" stroke="#3355c0" stroke-width="0.45" vector-effect="non-scaling-stroke">C</text>
<text transform="translate(282.85,75.59) scale(0.716,0.868)" font-size="10" font-weight="bold" fill="#e4303a" stroke="#e4303a" stroke-width="0.45" vector-effect="non-scaling-stroke">T</text>
<text transform="translate(287.14,76.40) scale(0.606,0.174)" font-size="10" font-weight="bold" fill="#3355c0" stroke="#3355c0" stroke-width="0.45" vector-effect="non-scaling-stroke">C</text>
<text transform="translate(287.14,75.18) scale(0.716,0.694)" font-size="10" font-weight="bold" fill="#e4303a" stroke="#e4303a" stroke-width="0.45" vector-effect="non-scaling-stroke">T</text>
<text transform="translate(291.43,76.40) scale(0.606,0.174)" font-size="10" font-weight="bold" fill="#2fa84a" stroke="#2fa84a" stroke-width="0.45" vector-effect="non-scaling-stroke">A</text>
<text transform="translate(291.43,75.18) scale(0.562,0.231)" font-size="10" font-weight="bold" fill="#f6a623" stroke="#f6a623" stroke-width="0.45" vector-effect="non-scaling-stroke">G</text>
<text transform="translate(291.43,73.56) scale(0.716,0.405)" font-size="10" font-weight="bold" fill="#e4303a" stroke="#e4303a" stroke-width="0.45" vector-effect="non-scaling-stroke">T</text>
<text transform="translate(295.72,76.40) scale(0.716,0.231)" font-size="10" font-weight="bold" fill="#e4303a" stroke="#e4303a" stroke-width="0.45" vector-effect="non-scaling-stroke">T</text>
<text transform="translate(295.72,74.78) scale(0.606,0.231)" font-size="10" font-weight="bold" fill="#2fa84a" stroke="#2fa84a" stroke-width="0.45" vector-effect="non-scaling-stroke">A</text>
<text transform="translate(295.72,73.16) scale(0.562,0.405)" font-size="10" font-weight="bold" fill="#f6a623" stroke="#f6a623" stroke-width="0.45" vector-effect="non-scaling-stroke">G</text>
<text transform="translate(300.01,76.40) scale(0.716,0.231)" font-size="10" font-weight="bold" fill="#e4303a" stroke="#e4303a" stroke-width="0.45" vector-effect="non-scaling-stroke">T</text>
<text transform="translate(300.01,74.78) scale(0.606,0.174)" font-size="10" font-weight="bold" fill="#2fa84a" stroke="#2fa84a" stroke-width="0.45" vector-effect="non-scaling-stroke">A</text>
<text transform="translate(300.01,73.56) scale(0.606,0.405)" font-size="10" font-weight="bold" fill="#3355c0" stroke="#3355c0" stroke-width="0.45" vector-effect="non-scaling-stroke">C</text>
<text x="333.00" y="75.20" font-size="8.3" text-anchor="middle" stroke="#231f20" stroke-width="0.13" letter-spacing="0.3">246</text>
<text x="390.00" y="75.20" font-size="8.3" text-anchor="middle" stroke="#231f20" stroke-width="0.13" letter-spacing="0.45">37/20</text>
<text x="453.40" y="75.20" font-size="8.3" text-anchor="middle" stroke="#231f20" stroke-width="0.13" letter-spacing="0.2">RUNX</text>
<text x="285.60" y="105.00" font-size="8.4" text-anchor="middle" textLength="20.20" lengthAdjust="spacingAndGlyphs" stroke="#231f20" stroke-width="0.13">Motif</text>
<text stroke="#231f20" stroke-width="0.13" x="332.8" y="105.00" font-size="8.4" text-anchor="middle" textLength="30.0" lengthAdjust="spacingAndGlyphs">–log (<tspan font-style="italic">P</tspan>)</text>
<text x="390.00" y="105.00" font-size="8.4" text-anchor="middle" textLength="65.30" lengthAdjust="spacingAndGlyphs" stroke="#231f20" stroke-width="0.13">Target(%)/BG(%)</text>
<text x="453.50" y="105.00" font-size="8.4" text-anchor="middle" textLength="33.40" lengthAdjust="spacingAndGlyphs" stroke="#231f20" stroke-width="0.13">Matches</text>
<line x1="252.10" y1="109.50" x2="482.40" y2="109.50" stroke="#666" stroke-width="1.0" />
<text transform="translate(257.90,120.00) scale(0.609,0.116)" font-size="10" font-weight="bold" fill="#3355c0" stroke="#3355c0" stroke-width="0.45" vector-effect="non-scaling-stroke">C</text>
<text transform="translate(257.90,119.19) scale(0.565,0.231)" font-size="10" font-weight="bold" fill="#f6a623" stroke="#f6a623" stroke-width="0.45" vector-effect="non-scaling-stroke">G</text>
<text transform="translate(257.90,117.57) scale(0.609,0.521)" font-size="10" font-weight="bold" fill="#2fa84a" stroke="#2fa84a" stroke-width="0.45" vector-effect="non-scaling-stroke">A</text>
<text transform="translate(262.21,120.00) scale(0.565,0.116)" font-size="10" font-weight="bold" fill="#f6a623" stroke="#f6a623" stroke-width="0.45" vector-effect="non-scaling-stroke">G</text>
<text transform="translate(262.21,119.19) scale(0.609,0.810)" font-size="10" font-weight="bold" fill="#2fa84a" stroke="#2fa84a" stroke-width="0.45" vector-effect="non-scaling-stroke">A</text>
<text transform="translate(266.52,120.00) scale(0.565,0.116)" font-size="10" font-weight="bold" fill="#f6a623" stroke="#f6a623" stroke-width="0.45" vector-effect="non-scaling-stroke">G</text>
<text transform="translate(266.52,119.19) scale(0.609,0.810)" font-size="10" font-weight="bold" fill="#2fa84a" stroke="#2fa84a" stroke-width="0.45" vector-effect="non-scaling-stroke">A</text>
<text transform="translate(270.82,120.00) scale(0.565,0.116)" font-size="10" font-weight="bold" fill="#f6a623" stroke="#f6a623" stroke-width="0.45" vector-effect="non-scaling-stroke">G</text>
<text transform="translate(270.82,119.19) scale(0.609,0.810)" font-size="10" font-weight="bold" fill="#2fa84a" stroke="#2fa84a" stroke-width="0.45" vector-effect="non-scaling-stroke">A</text>
<text transform="translate(275.13,120.00) scale(0.609,0.116)" font-size="10" font-weight="bold" fill="#3355c0" stroke="#3355c0" stroke-width="0.45" vector-effect="non-scaling-stroke">C</text>
<text transform="translate(275.13,119.19) scale(0.609,0.231)" font-size="10" font-weight="bold" fill="#2fa84a" stroke="#2fa84a" stroke-width="0.45" vector-effect="non-scaling-stroke">A</text>
<text transform="translate(275.13,117.57) scale(0.565,0.463)" font-size="10" font-weight="bold" fill="#f6a623" stroke="#f6a623" stroke-width="0.45" vector-effect="non-scaling-stroke">G</text>
<text transform="translate(279.44,120.00) scale(0.565,0.231)" font-size="10" font-weight="bold" fill="#f6a623" stroke="#f6a623" stroke-width="0.45" vector-effect="non-scaling-stroke">G</text>
<text transform="translate(279.44,118.38) scale(0.609,0.694)" font-size="10" font-weight="bold" fill="#2fa84a" stroke="#2fa84a" stroke-width="0.45" vector-effect="non-scaling-stroke">A</text>
<text transform="translate(283.75,120.00) scale(0.565,1.099)" font-size="10" font-weight="bold" fill="#f6a623" stroke="#f6a623" stroke-width="0.45" vector-effect="non-scaling-stroke">G</text>
<text transform="translate(288.06,120.00) scale(0.565,1.099)" font-size="10" font-weight="bold" fill="#f6a623" stroke="#f6a623" stroke-width="0.45" vector-effect="non-scaling-stroke">G</text>
<text transform="translate(292.37,120.00) scale(0.609,1.099)" font-size="10" font-weight="bold" fill="#2fa84a" stroke="#2fa84a" stroke-width="0.45" vector-effect="non-scaling-stroke">A</text>
<text transform="translate(296.68,120.00) scale(0.609,1.099)" font-size="10" font-weight="bold" fill="#2fa84a" stroke="#2fa84a" stroke-width="0.45" vector-effect="non-scaling-stroke">A</text>
<text transform="translate(300.98,120.00) scale(0.609,0.116)" font-size="10" font-weight="bold" fill="#3355c0" stroke="#3355c0" stroke-width="0.45" vector-effect="non-scaling-stroke">C</text>
<text transform="translate(300.98,119.19) scale(0.565,0.694)" font-size="10" font-weight="bold" fill="#f6a623" stroke="#f6a623" stroke-width="0.45" vector-effect="non-scaling-stroke">G</text>
<text transform="translate(305.29,120.00) scale(0.609,0.116)" font-size="10" font-weight="bold" fill="#3355c0" stroke="#3355c0" stroke-width="0.45" vector-effect="non-scaling-stroke">C</text>
<text transform="translate(305.29,119.19) scale(0.719,0.984)" font-size="10" font-weight="bold" fill="#e4303a" stroke="#e4303a" stroke-width="0.45" vector-effect="non-scaling-stroke">T</text>
<text x="333.00" y="118.80" font-size="8.3" text-anchor="middle" stroke="#231f20" stroke-width="0.13" letter-spacing="0.3">1,809</text>
<text x="390.00" y="118.80" font-size="8.3" text-anchor="middle" stroke="#231f20" stroke-width="0.13" letter-spacing="0.45">57/12</text>
<text x="453.40" y="118.80" font-size="8.3" text-anchor="middle" stroke="#231f20" stroke-width="0.13" letter-spacing="0.2">PU.1</text>
<text transform="translate(262.30,129.35) scale(0.593,0.116)" font-size="10" font-weight="bold" fill="#3355c0" stroke="#3355c0" stroke-width="0.45" vector-effect="non-scaling-stroke">C</text>
<text transform="translate(262.30,128.54) scale(0.701,0.868)" font-size="10" font-weight="bold" fill="#e4303a" stroke="#e4303a" stroke-width="0.45" vector-effect="non-scaling-stroke">T</text>
<text transform="translate(266.50,129.35) scale(0.593,0.116)" font-size="10" font-weight="bold" fill="#2fa84a" stroke="#2fa84a" stroke-width="0.45" vector-effect="non-scaling-stroke">A</text>
<text transform="translate(266.50,128.54) scale(0.551,0.868)" font-size="10" font-weight="bold" fill="#f6a623" stroke="#f6a623" stroke-width="0.45" vector-effect="non-scaling-stroke">G</text>
<text transform="translate(270.70,129.35) scale(0.593,0.116)" font-size="10" font-weight="bold" fill="#3355c0" stroke="#3355c0" stroke-width="0.45" vector-effect="non-scaling-stroke">C</text>
<text transform="translate(270.70,128.54) scale(0.701,0.868)" font-size="10" font-weight="bold" fill="#e4303a" stroke="#e4303a" stroke-width="0.45" vector-effect="non-scaling-stroke">T</text>
<text transform="translate(274.90,129.35) scale(0.551,1.099)" font-size="10" font-weight="bold" fill="#f6a623" stroke="#f6a623" stroke-width="0.45" vector-effect="non-scaling-stroke">G</text>
<text transform="translate(279.10,129.35) scale(0.551,1.099)" font-size="10" font-weight="bold" fill="#f6a623" stroke="#f6a623" stroke-width="0.45" vector-effect="non-scaling-stroke">G</text>
<text transform="translate(283.30,129.35) scale(0.593,0.116)" font-size="10" font-weight="bold" fill="#3355c0" stroke="#3355c0" stroke-width="0.45" vector-effect="non-scaling-stroke">C</text>
<text transform="translate(283.30,128.54) scale(0.701,0.868)" font-size="10" font-weight="bold" fill="#e4303a" stroke="#e4303a" stroke-width="0.45" vector-effect="non-scaling-stroke">T</text>
<text transform="translate(287.50,129.35) scale(0.593,0.174)" font-size="10" font-weight="bold" fill="#3355c0" stroke="#3355c0" stroke-width="0.45" vector-effect="non-scaling-stroke">C</text>
<text transform="translate(287.50,128.13) scale(0.701,0.579)" font-size="10" font-weight="bold" fill="#e4303a" stroke="#e4303a" stroke-width="0.45" vector-effect="non-scaling-stroke">T</text>
<text transform="translate(291.70,129.35) scale(0.593,0.231)" font-size="10" font-weight="bold" fill="#3355c0" stroke="#3355c0" stroke-width="0.45" vector-effect="non-scaling-stroke">C</text>
<text transform="translate(291.70,127.73) scale(0.551,0.231)" font-size="10" font-weight="bold" fill="#f6a623" stroke="#f6a623" stroke-width="0.45" vector-effect="non-scaling-stroke">G</text>
<text transform="translate(291.70,126.11) scale(0.593,0.347)" font-size="10" font-weight="bold" fill="#2fa84a" stroke="#2fa84a" stroke-width="0.45" vector-effect="non-scaling-stroke">A</text>
<text transform="translate(295.90,129.35) scale(0.701,0.231)" font-size="10" font-weight="bold" fill="#e4303a" stroke="#e4303a" stroke-width="0.45" vector-effect="non-scaling-stroke">T</text>
<text transform="translate(295.90,127.73) scale(0.551,0.231)" font-size="10" font-weight="bold" fill="#f6a623" stroke="#f6a623" stroke-width="0.45" vector-effect="non-scaling-stroke">G</text>
<text transform="translate(295.90,126.11) scale(0.593,0.347)" font-size="10" font-weight="bold" fill="#3355c0" stroke="#3355c0" stroke-width="0.45" vector-effect="non-scaling-stroke">C</text>
<text transform="translate(300.10,129.35) scale(0.593,0.231)" font-size="10" font-weight="bold" fill="#3355c0" stroke="#3355c0" stroke-width="0.45" vector-effect="non-scaling-stroke">C</text>
<text transform="translate(300.10,127.73) scale(0.701,0.231)" font-size="10" font-weight="bold" fill="#e4303a" stroke="#e4303a" stroke-width="0.45" vector-effect="non-scaling-stroke">T</text>
<text transform="translate(300.10,126.11) scale(0.593,0.347)" font-size="10" font-weight="bold" fill="#2fa84a" stroke="#2fa84a" stroke-width="0.45" vector-effect="non-scaling-stroke">A</text>
<text x="333.00" y="128.15" font-size="8.3" text-anchor="middle" stroke="#231f20" stroke-width="0.13" letter-spacing="0.3">541</text>
<text x="390.00" y="128.15" font-size="8.3" text-anchor="middle" stroke="#231f20" stroke-width="0.13" letter-spacing="0.45">52/25</text>
<text x="453.40" y="128.15" font-size="8.3" text-anchor="middle" stroke="#231f20" stroke-width="0.13" letter-spacing="0.2">RUNX</text>
<text transform="translate(265.80,138.70) scale(0.730,1.099)" font-size="10" font-weight="bold" fill="#e4303a" stroke="#e4303a" stroke-width="0.45" vector-effect="non-scaling-stroke">T</text>
<text transform="translate(270.18,138.70) scale(0.730,1.099)" font-size="10" font-weight="bold" fill="#e4303a" stroke="#e4303a" stroke-width="0.45" vector-effect="non-scaling-stroke">T</text>
<text transform="translate(274.55,138.70) scale(0.730,1.099)" font-size="10" font-weight="bold" fill="#e4303a" stroke="#e4303a" stroke-width="0.45" vector-effect="non-scaling-stroke">T</text>
<text transform="translate(278.93,138.70) scale(0.618,1.099)" font-size="10" font-weight="bold" fill="#3355c0" stroke="#3355c0" stroke-width="0.45" vector-effect="non-scaling-stroke">C</text>
<text transform="translate(283.30,138.70) scale(0.618,1.099)" font-size="10" font-weight="bold" fill="#2fa84a" stroke="#2fa84a" stroke-width="0.45" vector-effect="non-scaling-stroke">A</text>
<text transform="translate(287.68,138.70) scale(0.618,0.347)" font-size="10" font-weight="bold" fill="#3355c0" stroke="#3355c0" stroke-width="0.45" vector-effect="non-scaling-stroke">C</text>
<text transform="translate(287.68,136.27) scale(0.574,0.579)" font-size="10" font-weight="bold" fill="#f6a623" stroke="#f6a623" stroke-width="0.45" vector-effect="non-scaling-stroke">G</text>
<text transform="translate(292.05,138.70) scale(0.730,1.099)" font-size="10" font-weight="bold" fill="#e4303a" stroke="#e4303a" stroke-width="0.45" vector-effect="non-scaling-stroke">T</text>
<text transform="translate(296.43,138.70) scale(0.730,1.099)" font-size="10" font-weight="bold" fill="#e4303a" stroke="#e4303a" stroke-width="0.45" vector-effect="non-scaling-stroke">T</text>
<text x="333.00" y="137.50" font-size="8.3" text-anchor="middle" stroke="#231f20" stroke-width="0.13" letter-spacing="0.3">150</text>
<text x="390.00" y="137.50" font-size="8.3" text-anchor="middle" stroke="#231f20" stroke-width="0.13" letter-spacing="0.45">9/3</text>
<text x="453.40" y="137.50" font-size="8.3" text-anchor="middle" stroke="#231f20" stroke-width="0.13" letter-spacing="0.2">IRF</text>
<text transform="translate(265.80,148.05) scale(0.574,0.174)" font-size="10" font-weight="bold" fill="#f6a623" stroke="#f6a623" stroke-width="0.45" vector-effect="non-scaling-stroke">G</text>
<text transform="translate(265.80,146.83) scale(0.618,0.868)" font-size="10" font-weight="bold" fill="#2fa84a" stroke="#2fa84a" stroke-width="0.45" vector-effect="non-scaling-stroke">A</text>
<text transform="translate(270.18,148.05) scale(0.730,1.099)" font-size="10" font-weight="bold" fill="#e4303a" stroke="#e4303a" stroke-width="0.45" vector-effect="non-scaling-stroke">T</text>
<text transform="translate(274.55,148.05) scale(0.574,1.099)" font-size="10" font-weight="bold" fill="#f6a623" stroke="#f6a623" stroke-width="0.45" vector-effect="non-scaling-stroke">G</text>
<text transform="translate(278.93,148.05) scale(0.618,1.099)" font-size="10" font-weight="bold" fill="#2fa84a" stroke="#2fa84a" stroke-width="0.45" vector-effect="non-scaling-stroke">A</text>
<text transform="translate(283.30,148.05) scale(0.574,0.231)" font-size="10" font-weight="bold" fill="#f6a623" stroke="#f6a623" stroke-width="0.45" vector-effect="non-scaling-stroke">G</text>
<text transform="translate(283.30,146.43) scale(0.618,0.752)" font-size="10" font-weight="bold" fill="#3355c0" stroke="#3355c0" stroke-width="0.45" vector-effect="non-scaling-stroke">C</text>
<text transform="translate(287.68,148.05) scale(0.730,1.099)" font-size="10" font-weight="bold" fill="#e4303a" stroke="#e4303a" stroke-width="0.45" vector-effect="non-scaling-stroke">T</text>
<text transform="translate(292.05,148.05) scale(0.618,1.099)" font-size="10" font-weight="bold" fill="#3355c0" stroke="#3355c0" stroke-width="0.45" vector-effect="non-scaling-stroke">C</text>
<text transform="translate(296.43,148.05) scale(0.618,1.099)" font-size="10" font-weight="bold" fill="#2fa84a" stroke="#2fa84a" stroke-width="0.45" vector-effect="non-scaling-stroke">A</text>
<text x="333.00" y="146.85" font-size="8.3" text-anchor="middle" stroke="#231f20" stroke-width="0.13" letter-spacing="0.3">93</text>
<text x="390.00" y="146.85" font-size="8.3" text-anchor="middle" stroke="#231f20" stroke-width="0.13" letter-spacing="0.45">16/9</text>
<text x="453.40" y="146.85" font-size="8.3" text-anchor="middle" stroke="#231f20" stroke-width="0.13" letter-spacing="0.2">AP-1</text>
<text transform="translate(265.80,157.40) scale(0.618,0.231)" font-size="10" font-weight="bold" fill="#2fa84a" stroke="#2fa84a" stroke-width="0.45" vector-effect="non-scaling-stroke">A</text>
<text transform="translate(265.80,155.78) scale(0.574,0.752)" font-size="10" font-weight="bold" fill="#f6a623" stroke="#f6a623" stroke-width="0.45" vector-effect="non-scaling-stroke">G</text>
<text transform="translate(270.18,157.40) scale(0.618,0.174)" font-size="10" font-weight="bold" fill="#3355c0" stroke="#3355c0" stroke-width="0.45" vector-effect="non-scaling-stroke">C</text>
<text transform="translate(270.18,156.18) scale(0.618,0.231)" font-size="10" font-weight="bold" fill="#2fa84a" stroke="#2fa84a" stroke-width="0.45" vector-effect="non-scaling-stroke">A</text>
<text transform="translate(270.18,154.56) scale(0.730,0.463)" font-size="10" font-weight="bold" fill="#e4303a" stroke="#e4303a" stroke-width="0.45" vector-effect="non-scaling-stroke">T</text>
<text transform="translate(274.55,157.40) scale(0.618,1.041)" font-size="10" font-weight="bold" fill="#3355c0" stroke="#3355c0" stroke-width="0.45" vector-effect="non-scaling-stroke">C</text>
<text transform="translate(278.93,157.40) scale(0.618,1.041)" font-size="10" font-weight="bold" fill="#2fa84a" stroke="#2fa84a" stroke-width="0.45" vector-effect="non-scaling-stroke">A</text>
<text transform="translate(283.30,157.40) scale(0.730,0.231)" font-size="10" font-weight="bold" fill="#e4303a" stroke="#e4303a" stroke-width="0.45" vector-effect="non-scaling-stroke">T</text>
<text transform="translate(283.30,155.78) scale(0.618,0.579)" font-size="10" font-weight="bold" fill="#3355c0" stroke="#3355c0" stroke-width="0.45" vector-effect="non-scaling-stroke">C</text>
<text transform="translate(287.68,157.40) scale(0.730,0.231)" font-size="10" font-weight="bold" fill="#e4303a" stroke="#e4303a" stroke-width="0.45" vector-effect="non-scaling-stroke">T</text>
<text transform="translate(287.68,155.78) scale(0.618,0.231)" font-size="10" font-weight="bold" fill="#2fa84a" stroke="#2fa84a" stroke-width="0.45" vector-effect="non-scaling-stroke">A</text>
<text transform="translate(287.68,154.16) scale(0.574,0.463)" font-size="10" font-weight="bold" fill="#f6a623" stroke="#f6a623" stroke-width="0.45" vector-effect="non-scaling-stroke">G</text>
<text transform="translate(292.05,157.40) scale(0.618,0.116)" font-size="10" font-weight="bold" fill="#2fa84a" stroke="#2fa84a" stroke-width="0.45" vector-effect="non-scaling-stroke">A</text>
<text transform="translate(292.05,156.59) scale(0.730,0.926)" font-size="10" font-weight="bold" fill="#e4303a" stroke="#e4303a" stroke-width="0.45" vector-effect="non-scaling-stroke">T</text>
<text transform="translate(296.43,157.40) scale(0.574,1.041)" font-size="10" font-weight="bold" fill="#f6a623" stroke="#f6a623" stroke-width="0.45" vector-effect="non-scaling-stroke">G</text>
<text x="333.00" y="156.20" font-size="8.3" text-anchor="middle" stroke="#231f20" stroke-width="0.13" letter-spacing="0.3">76</text>
<text x="390.00" y="156.20" font-size="8.3" text-anchor="middle" stroke="#231f20" stroke-width="0.13" letter-spacing="0.45">19/11</text>
<text x="453.40" y="156.20" font-size="8.3" text-anchor="middle" stroke="#231f20" stroke-width="0.13" letter-spacing="0.2">MITF</text>
<circle cx="215.80" cy="53.50" r="4.60" fill="#d2d2d2" stroke="#000" stroke-width="1.4" />
<circle cx="215.80" cy="136.40" r="4.60" fill="#5677c0" stroke="#000" stroke-width="1.4" />
<text x="0.00" y="0.00" font-size="9.4" text-anchor="middle" textLength="30.70" lengthAdjust="spacingAndGlyphs" stroke="#231f20" stroke-width="0.13" transform="translate(230.3,53.85) rotate(-90)">Control</text>
<text x="0.00" y="0.00" font-size="9.4" text-anchor="middle" textLength="37.20" lengthAdjust="spacingAndGlyphs" stroke="#231f20" stroke-width="0.13" transform="translate(239.3,54.9) rotate(-90)">microglia</text>
<line x1="243.50" y1="34.70" x2="243.50" y2="72.40" stroke="#444" stroke-width="1.0" />
<text stroke="#231f20" stroke-width="0.13" transform="translate(230.3,136.35) rotate(-90)" x="0" y="0" font-size="9.4" text-anchor="middle" textLength="42.5" lengthAdjust="spacingAndGlyphs"><tspan font-style="italic">MEF2C</tspan>-KO</text>
<text x="0.00" y="0.00" font-size="9.4" text-anchor="middle" textLength="37.70" lengthAdjust="spacingAndGlyphs" stroke="#231f20" stroke-width="0.13" transform="translate(239.3,136.05) rotate(-90)">microglia</text>
<line x1="243.50" y1="116.70" x2="243.50" y2="155.50" stroke="#444" stroke-width="1.0" />
<text x="501.00" y="11.20" font-size="14" textLength="8.90" lengthAdjust="spacingAndGlyphs" fill="#000" font-weight="bold">c</text>
<text x="553.30" y="12.00" font-size="9.9" textLength="40.10" lengthAdjust="spacingAndGlyphs" stroke="#231f20" stroke-width="0.13">Up in Ctl</text>
<text x="629.50" y="11.80" font-size="9.9" textLength="41.50" lengthAdjust="spacingAndGlyphs" stroke="#231f20" stroke-width="0.13">Up in KO</text>
<rect x="615.60" y="22.40" width="25.18" height="9.20" fill="#5b84c4" stroke="#2a3f66" stroke-width="0.8" />
<text x="612.00" y="29.00" font-size="7.2" text-anchor="end" textLength="44.20" lengthAdjust="spacingAndGlyphs" fill="#333" stroke="#333" stroke-width="0.13">FDR = 0.0053</text>
<line x1="538.40" y1="26.70" x2="541.50" y2="26.70" stroke="#777" stroke-width="0.9" />
<text x="533.30" y="29.50" font-size="10.1" text-anchor="end" textLength="20.00" lengthAdjust="spacingAndGlyphs" stroke="#231f20" stroke-width="0.13" font-style="italic">IRF7</text>
<rect x="615.60" y="31.60" width="15.92" height="9.20" fill="#5b84c4" stroke="#2a3f66" stroke-width="0.8" />
<text x="612.00" y="39.10" font-size="7.2" text-anchor="end" textLength="24.20" lengthAdjust="spacingAndGlyphs" fill="#333" stroke="#333" stroke-width="0.13">0.0009</text>
<line x1="538.40" y1="35.80" x2="541.50" y2="35.80" stroke="#777" stroke-width="0.9" />
<text x="533.30" y="38.90" font-size="10.1" text-anchor="end" textLength="21.00" lengthAdjust="spacingAndGlyphs" stroke="#231f20" stroke-width="0.13" font-style="italic">IRF9</text>
<rect x="615.60" y="40.90" width="16.29" height="9.20" fill="#5b84c4" stroke="#2a3f66" stroke-width="0.8" />
<text x="612.00" y="48.70" font-size="7.2" text-anchor="end" textLength="26.80" lengthAdjust="spacingAndGlyphs" fill="#333" stroke="#333" stroke-width="0.13">&lt;0.0001</text>
<line x1="538.40" y1="45.50" x2="541.50" y2="45.50" stroke="#777" stroke-width="0.9" />
<text x="533.30" y="48.10" font-size="10.1" text-anchor="end" textLength="18.40" lengthAdjust="spacingAndGlyphs" stroke="#231f20" stroke-width="0.13" font-style="italic">IRF1</text>
<rect x="615.60" y="55.30" width="30.36" height="9.20" fill="#5b84c4" stroke="#2a3f66" stroke-width="0.8" />
<text x="612.00" y="64.40" font-size="7.2" text-anchor="end" textLength="24.20" lengthAdjust="spacingAndGlyphs" fill="#333" stroke="#333" stroke-width="0.13">0.0001</text>
<line x1="538.40" y1="59.50" x2="541.50" y2="59.50" stroke="#777" stroke-width="0.9" />
<text x="533.30" y="62.80" font-size="10.1" text-anchor="end" textLength="22.40" lengthAdjust="spacingAndGlyphs" stroke="#231f20" stroke-width="0.13" font-style="italic">MITF</text>
<rect x="615.60" y="64.40" width="13.33" height="9.20" fill="#5b84c4" stroke="#2a3f66" stroke-width="0.8" />
<text x="612.00" y="72.50" font-size="7.2" text-anchor="end" textLength="26.80" lengthAdjust="spacingAndGlyphs" fill="#333" stroke="#333" stroke-width="0.13">&lt;0.0001</text>
<line x1="538.40" y1="69.00" x2="541.50" y2="69.00" stroke="#777" stroke-width="0.9" />
<text x="533.30" y="71.30" font-size="10.1" text-anchor="end" textLength="23.70" lengthAdjust="spacingAndGlyphs" stroke="#231f20" stroke-width="0.13" font-style="italic">TFEC</text>
<rect x="615.60" y="78.80" width="25.55" height="9.20" fill="#5b84c4" stroke="#2a3f66" stroke-width="0.8" />
<text x="612.00" y="86.80" font-size="7.2" text-anchor="end" textLength="24.20" lengthAdjust="spacingAndGlyphs" fill="#333" stroke="#333" stroke-width="0.13">0.0001</text>
<line x1="538.40" y1="83.30" x2="541.50" y2="83.30" stroke="#777" stroke-width="0.9" />
<text x="533.30" y="86.00" font-size="10.1" text-anchor="end" textLength="18.60" lengthAdjust="spacingAndGlyphs" stroke="#231f20" stroke-width="0.13" font-style="italic">JUN</text>
<rect x="615.60" y="88.30" width="15.18" height="9.20" fill="#5b84c4" stroke="#2a3f66" stroke-width="0.8" />
<text x="612.00" y="96.30" font-size="7.2" text-anchor="end" textLength="24.20" lengthAdjust="spacingAndGlyphs" fill="#333" stroke="#333" stroke-width="0.13">0.0128</text>
<line x1="538.40" y1="92.30" x2="541.50" y2="92.30" stroke="#777" stroke-width="0.9" />
<text x="533.30" y="95.20" font-size="10.1" text-anchor="end" textLength="30.60" lengthAdjust="spacingAndGlyphs" stroke="#231f20" stroke-width="0.13" font-style="italic">FOSL2</text>
<rect x="601.53" y="102.50" width="14.07" height="9.20" fill="#dedede" stroke="#555" stroke-width="0.8" />
<text x="618.10" y="111.00" font-size="7.2" textLength="23.60" lengthAdjust="spacingAndGlyphs" fill="#333" stroke="#333" stroke-width="0.13">0.0001</text>
<line x1="538.40" y1="106.20" x2="541.50" y2="106.20" stroke="#777" stroke-width="0.9" />
<text x="533.30" y="109.30" font-size="10.1" text-anchor="end" textLength="32.10" lengthAdjust="spacingAndGlyphs" stroke="#231f20" stroke-width="0.13" font-style="italic">CEBPG</text>
<rect x="588.20" y="111.70" width="27.40" height="9.20" fill="#dedede" stroke="#555" stroke-width="0.8" />
<text x="618.10" y="118.80" font-size="7.2" textLength="23.60" lengthAdjust="spacingAndGlyphs" fill="#333" stroke="#333" stroke-width="0.13">0.0002</text>
<line x1="538.40" y1="115.70" x2="541.50" y2="115.70" stroke="#777" stroke-width="0.9" />
<text x="533.30" y="118.10" font-size="10.1" text-anchor="end" textLength="30.80" lengthAdjust="spacingAndGlyphs" stroke="#231f20" stroke-width="0.13" font-style="italic">CEBPA</text>
<rect x="598.57" y="125.40" width="17.03" height="9.20" fill="#dedede" stroke="#555" stroke-width="0.8" />
<text x="618.10" y="133.80" font-size="7.2" textLength="23.60" lengthAdjust="spacingAndGlyphs" fill="#333" stroke="#333" stroke-width="0.13">0.0276</text>
<line x1="538.40" y1="130.10" x2="541.50" y2="130.10" stroke="#777" stroke-width="0.9" />
<text x="533.30" y="132.50" font-size="10.1" text-anchor="end" textLength="32.10" lengthAdjust="spacingAndGlyphs" stroke="#231f20" stroke-width="0.13" font-style="italic">RUNX3</text>
<rect x="586.72" y="134.70" width="28.88" height="9.20" fill="#dedede" stroke="#555" stroke-width="0.8" />
<text x="618.10" y="141.70" font-size="7.2" textLength="23.60" lengthAdjust="spacingAndGlyphs" fill="#333" stroke="#333" stroke-width="0.13">0.0002</text>
<line x1="538.40" y1="139.60" x2="541.50" y2="139.60" stroke="#777" stroke-width="0.9" />
<text x="533.30" y="142.20" font-size="10.1" text-anchor="end" textLength="30.10" lengthAdjust="spacingAndGlyphs" stroke="#231f20" stroke-width="0.13" font-style="italic">RUNX1</text>
<rect x="606.34" y="149.10" width="9.26" height="9.20" fill="#dedede" stroke="#555" stroke-width="0.8" />
<text x="618.10" y="158.60" font-size="7.2" textLength="23.60" lengthAdjust="spacingAndGlyphs" fill="#333" stroke="#333" stroke-width="0.13">0.0087</text>
<line x1="538.40" y1="153.50" x2="541.50" y2="153.50" stroke="#777" stroke-width="0.9" />
<text x="533.30" y="156.10" font-size="10.1" text-anchor="end" textLength="30.80" lengthAdjust="spacingAndGlyphs" stroke="#231f20" stroke-width="0.13" font-style="italic">MEF2A</text>
<rect x="600.42" y="158.60" width="15.18" height="9.20" fill="#dedede" stroke="#555" stroke-width="0.8" />
<text x="618.10" y="168.30" font-size="7.2" textLength="23.60" lengthAdjust="spacingAndGlyphs" fill="#333" stroke="#333" stroke-width="0.13">0.0015</text>
<line x1="538.40" y1="163.30" x2="541.50" y2="163.30" stroke="#777" stroke-width="0.9" />
<text x="533.30" y="165.20" font-size="10.1" text-anchor="end" textLength="32.00" lengthAdjust="spacingAndGlyphs" stroke="#231f20" stroke-width="0.13" font-style="italic">MEF2D</text>
<rect x="563.02" y="168.20" width="52.58" height="9.20" fill="#dedede" stroke="#555" stroke-width="0.8" />
<text x="618.10" y="176.70" font-size="7.2" textLength="27.00" lengthAdjust="spacingAndGlyphs" fill="#333" stroke="#333" stroke-width="0.13">&lt;0.0001</text>
<line x1="538.40" y1="172.80" x2="541.50" y2="172.80" stroke="#777" stroke-width="0.9" />
<text x="533.30" y="174.30" font-size="10.1" text-anchor="end" textLength="32.70" lengthAdjust="spacingAndGlyphs" stroke="#231f20" stroke-width="0.13" font-style="italic">MEF2C</text>
<line x1="541.50" y1="16.00" x2="541.50" y2="182.30" stroke="#808080" stroke-width="1.0" />
<line x1="615.50" y1="15.90" x2="615.50" y2="182.30" stroke="#111" stroke-width="1.0" />
<line x1="541.00" y1="182.30" x2="653.00" y2="182.30" stroke="#9a9a9a" stroke-width="1.3" />
<line x1="541.54" y1="182.20" x2="541.54" y2="184.80" stroke="#888" stroke-width="0.8" />
<text x="541.84" y="195.60" font-size="8.8" text-anchor="middle" stroke="#231f20" stroke-width="0.13">–2</text>
<line x1="578.57" y1="182.20" x2="578.57" y2="184.80" stroke="#888" stroke-width="0.8" />
<text x="578.87" y="195.60" font-size="8.8" text-anchor="middle" stroke="#231f20" stroke-width="0.13">–1</text>
<line x1="615.60" y1="182.20" x2="615.60" y2="184.80" stroke="#888" stroke-width="0.8" />
<text x="615.60" y="195.60" font-size="8.8" text-anchor="middle" stroke="#231f20" stroke-width="0.13">0</text>
<line x1="652.63" y1="182.20" x2="652.63" y2="184.80" stroke="#888" stroke-width="0.8" />
<text x="652.63" y="195.60" font-size="8.8" text-anchor="middle" stroke="#231f20" stroke-width="0.13">1</text>
<text stroke="#231f20" stroke-width="0.13" x="597.2" y="210.5" font-size="10.1" text-anchor="middle" textLength="40.0" lengthAdjust="spacingAndGlyphs">log<tspan font-size="7" dy="2.5">2</tspan><tspan dy="-2.5"> (FC)</tspan></text>
<text x="597.30" y="222.40" font-size="9.9" text-anchor="middle" textLength="31.80" lengthAdjust="spacingAndGlyphs" stroke="#231f20" stroke-width="0.13">KO/Ctl</text>
<text x="-0.60" y="237.20" font-size="14" textLength="9.80" lengthAdjust="spacingAndGlyphs" fill="#000" font-weight="bold">d</text>
<text x="116.70" y="236.30" font-size="9.9" text-anchor="middle" textLength="82.00" lengthAdjust="spacingAndGlyphs" stroke="#231f20" stroke-width="0.13">H3K27ac at distal</text>
<text x="118.20" y="247.70" font-size="9.9" text-anchor="middle" textLength="56.40" lengthAdjust="spacingAndGlyphs" stroke="#231f20" stroke-width="0.13">ATAC peaks</text>
<line x1="56.30" y1="271.50" x2="59.50" y2="271.50" stroke="#808080" stroke-width="0.9" />
<text x="51.60" y="274.80" font-size="9.6" text-anchor="end" textLength="32.60" lengthAdjust="spacingAndGlyphs" stroke="#231f20" stroke-width="0.13">MEF2C</text>
<circle cx="81.40" cy="271.50" r="5.90" fill="#25507f" stroke="none" stroke-width="0.8" />
<circle cx="117.90" cy="271.50" r="5.20" fill="#25507f" stroke="none" stroke-width="0.8" />
<circle cx="154.60" cy="271.50" r="2.20" fill="#14304f" stroke="none" stroke-width="0.8" />
<line x1="56.30" y1="299.66" x2="59.50" y2="299.66" stroke="#808080" stroke-width="0.9" />
<text x="51.60" y="302.96" font-size="9.6" text-anchor="end" textLength="26.20" lengthAdjust="spacingAndGlyphs" stroke="#231f20" stroke-width="0.13">CREB</text>
<circle cx="81.40" cy="299.66" r="4.00" fill="#17345a" stroke="none" stroke-width="0.8" />
<circle cx="117.90" cy="299.66" r="5.30" fill="#132e50" stroke="none" stroke-width="0.8" />
<circle cx="154.60" cy="299.66" r="2.20" fill="#14304f" stroke="none" stroke-width="0.8" />
<line x1="56.30" y1="327.82" x2="59.50" y2="327.82" stroke="#808080" stroke-width="0.9" />
<text x="51.60" y="331.12" font-size="9.6" text-anchor="end" textLength="51.40" lengthAdjust="spacingAndGlyphs" stroke="#231f20" stroke-width="0.13">NF-κB–p65</text>
<circle cx="81.40" cy="327.82" r="3.80" fill="#17375c" stroke="none" stroke-width="0.8" />
<circle cx="117.90" cy="327.82" r="2.10" fill="#17375c" stroke="none" stroke-width="0.8" />
<circle cx="154.60" cy="327.82" r="3.90" fill="#17375c" stroke="none" stroke-width="0.8" />
<line x1="56.30" y1="355.98" x2="59.50" y2="355.98" stroke="#808080" stroke-width="0.9" />
<text x="51.60" y="359.28" font-size="9.6" text-anchor="end" textLength="22.40" lengthAdjust="spacingAndGlyphs" stroke="#231f20" stroke-width="0.13">MITF</text>
<circle cx="81.40" cy="355.98" r="2.10" fill="#17375c" stroke="none" stroke-width="0.8" />
<circle cx="117.90" cy="355.98" r="2.10" fill="#17375c" stroke="none" stroke-width="0.8" />
<circle cx="154.60" cy="355.98" r="6.00" fill="#1b3d63" stroke="none" stroke-width="0.8" />
<line x1="56.30" y1="384.14" x2="59.50" y2="384.14" stroke="#808080" stroke-width="0.9" />
<text x="51.60" y="387.44" font-size="9.6" text-anchor="end" textLength="26.80" lengthAdjust="spacingAndGlyphs" stroke="#231f20" stroke-width="0.13">RUNX</text>
<circle cx="81.40" cy="384.14" r="6.60" fill="#173a5e" stroke="none" stroke-width="0.8" />
<circle cx="117.90" cy="384.14" r="5.60" fill="#1a3d63" stroke="none" stroke-width="0.8" />
<circle cx="154.60" cy="384.14" r="7.40" fill="#265585" stroke="none" stroke-width="0.8" />
<line x1="56.30" y1="412.30" x2="59.50" y2="412.30" stroke="#808080" stroke-width="0.9" />
<text x="51.60" y="415.60" font-size="9.6" text-anchor="end" textLength="24.80" lengthAdjust="spacingAndGlyphs" stroke="#231f20" stroke-width="0.13">CEBP</text>
<circle cx="81.40" cy="412.30" r="5.60" fill="#1a3d62" stroke="none" stroke-width="0.8" />
<circle cx="117.90" cy="412.30" r="3.80" fill="#163558" stroke="none" stroke-width="0.8" />
<circle cx="154.60" cy="412.30" r="3.80" fill="#132c4c" stroke="none" stroke-width="0.8" />
<line x1="56.30" y1="440.46" x2="59.50" y2="440.46" stroke="#808080" stroke-width="0.9" />
<text x="51.60" y="443.76" font-size="9.6" text-anchor="end" textLength="35.90" lengthAdjust="spacingAndGlyphs" stroke="#231f20" stroke-width="0.13">PU1–IRF</text>
<circle cx="81.40" cy="440.46" r="4.40" fill="#1b406a" stroke="none" stroke-width="0.8" />
<circle cx="117.90" cy="440.46" r="4.40" fill="#1b406a" stroke="none" stroke-width="0.8" />
<circle cx="154.60" cy="440.46" r="4.20" fill="#1b406a" stroke="none" stroke-width="0.8" />
<line x1="56.30" y1="468.62" x2="59.50" y2="468.62" stroke="#808080" stroke-width="0.9" />
<text x="51.60" y="471.92" font-size="9.6" text-anchor="end" textLength="43.90" lengthAdjust="spacingAndGlyphs" stroke="#231f20" stroke-width="0.13">FOS::JUN</text>
<circle cx="81.40" cy="468.62" r="5.60" fill="#2b5f8f" stroke="none" stroke-width="0.8" />
<circle cx="117.90" cy="468.62" r="5.00" fill="#142f50" stroke="none" stroke-width="0.8" />
<circle cx="154.60" cy="468.62" r="6.30" fill="#14304f" stroke="none" stroke-width="0.8" />
<line x1="56.30" y1="496.78" x2="59.50" y2="496.78" stroke="#808080" stroke-width="0.9" />
<text x="51.60" y="500.08" font-size="9.6" text-anchor="end" textLength="28.20" lengthAdjust="spacingAndGlyphs" stroke="#231f20" stroke-width="0.13">SMAD</text>
<circle cx="81.40" cy="496.78" r="5.60" fill="#112a48" stroke="none" stroke-width="0.8" />
<circle cx="117.90" cy="496.78" r="5.70" fill="#112a48" stroke="none" stroke-width="0.8" />
<circle cx="154.60" cy="496.78" r="5.40" fill="#112a48" stroke="none" stroke-width="0.8" />
<line x1="56.30" y1="524.94" x2="59.50" y2="524.94" stroke="#808080" stroke-width="0.9" />
<text x="51.60" y="528.24" font-size="9.6" text-anchor="end" textLength="16.40" lengthAdjust="spacingAndGlyphs" stroke="#231f20" stroke-width="0.13">PU1</text>
<circle cx="81.40" cy="524.94" r="7.60" fill="#3c7dbb" stroke="none" stroke-width="0.8" />
<circle cx="117.90" cy="524.94" r="8.00" fill="#336ca3" stroke="none" stroke-width="0.8" />
<circle cx="154.60" cy="524.94" r="8.20" fill="#64aae0" stroke="none" stroke-width="0.8" />
<line x1="59.50" y1="254.70" x2="59.50" y2="541.00" stroke="#808080" stroke-width="1.0" />
<line x1="59.00" y1="540.50" x2="176.80" y2="540.50" stroke="#808080" stroke-width="1.0" />
<line x1="81.30" y1="540.50" x2="81.30" y2="543.80" stroke="#808080" stroke-width="0.9" />
<text x="81.30" y="556.80" font-size="10.0" text-anchor="middle" stroke="#231f20" stroke-width="0.13">Ctl</text>
<line x1="118.30" y1="540.50" x2="118.30" y2="543.80" stroke="#808080" stroke-width="0.9" />
<text x="118.30" y="556.80" font-size="10.0" text-anchor="middle" stroke="#231f20" stroke-width="0.13">HET</text>
<line x1="154.40" y1="540.50" x2="154.40" y2="543.80" stroke="#808080" stroke-width="0.9" />
<text x="154.40" y="556.80" font-size="10.0" text-anchor="middle" stroke="#231f20" stroke-width="0.13">KO</text>
<text x="179.40" y="305.40" font-size="9.6" textLength="66.60" lengthAdjust="spacingAndGlyphs" stroke="#231f20" stroke-width="0.13">Percent target</text>
<circle cx="188.60" cy="315.50" r="1.90" fill="#000" stroke="none" stroke-width="0.8" />
<text x="199.10" y="318.90" font-size="9.6" stroke="#231f20" stroke-width="0.13">0</text>
<circle cx="188.60" cy="331.70" r="5.50" fill="#000" stroke="none" stroke-width="0.8" />
<text x="199.10" y="335.10" font-size="9.6" stroke="#231f20" stroke-width="0.13">20</text>
<circle cx="188.60" cy="351.10" r="6.60" fill="#000" stroke="none" stroke-width="0.8" />
<text x="199.10" y="354.50" font-size="9.6" stroke="#231f20" stroke-width="0.13">40</text>
<circle cx="188.60" cy="370.30" r="7.60" fill="#000" stroke="none" stroke-width="0.8" />
<text x="199.10" y="373.70" font-size="9.6" stroke="#231f20" stroke-width="0.13">60</text>
<defs><linearGradient id="cb" x1="0" y1="0" x2="0" y2="1"><stop offset="0" stop-color="#5eaae0"/><stop offset="0.5" stop-color="#2d5f93"/><stop offset="1" stop-color="#112a46"/></linearGradient></defs>
<text stroke="#231f20" stroke-width="0.13" x="181.3" y="412.8" font-size="9.5" textLength="63.9" lengthAdjust="spacingAndGlyphs">–log (<tspan font-style="italic">P</tspan> value)</text>
<rect x="182.10" y="421.20" width="11.30" height="55.40" fill="url(#cb)" stroke="none" stroke-width="0.8" />
<line x1="191.40" y1="440.30" x2="193.40" y2="440.30" stroke="#fff" stroke-width="0.7" />
<line x1="191.40" y1="458.50" x2="193.40" y2="458.50" stroke="#fff" stroke-width="0.7" />
<text x="197.80" y="424.40" font-size="9.4" textLength="24.60" lengthAdjust="spacingAndGlyphs" stroke="#231f20" stroke-width="0.13">3,000</text>
<text x="197.80" y="443.00" font-size="9.4" textLength="24.20" lengthAdjust="spacingAndGlyphs" stroke="#231f20" stroke-width="0.13">2,000</text>
<text x="197.80" y="461.50" font-size="9.4" textLength="23.20" lengthAdjust="spacingAndGlyphs" stroke="#231f20" stroke-width="0.13">1,000</text>
<text x="197.80" y="480.00" font-size="9.4" textLength="5.40" lengthAdjust="spacingAndGlyphs" stroke="#231f20" stroke-width="0.13">0</text>
<text x="256.40" y="237.30" font-size="14" textLength="8.90" lengthAdjust="spacingAndGlyphs" fill="#000" font-weight="bold">e</text>
<text x="351.00" y="245.90" font-size="10.4" text-anchor="middle" textLength="44.30" lengthAdjust="spacingAndGlyphs" stroke="#231f20" stroke-width="0.13">Promoter</text>
<path d="M353.40,255.10 A58.4,58.4 0 1 1 337.80,257.22 L345.60,285.36 A29.2,29.2 0 1 0 353.40,284.30Z" fill="#7f7f7f" stroke="#7f7f7f" stroke-width="0.3"/>
<path d="M337.80,257.22 A58.4,58.4 0 0 1 340.95,256.44 L347.17,284.97 A29.2,29.2 0 0 0 345.60,285.36Z" fill="#5aade0" stroke="#5aade0" stroke-width="0.3"/>
<path d="M340.95,256.44 A58.4,58.4 0 0 1 345.69,255.61 L349.54,284.56 A29.2,29.2 0 0 0 347.17,284.97Z" fill="#2b4b80" stroke="#2b4b80" stroke-width="0.3"/>
<path d="M345.69,255.61 A58.4,58.4 0 0 1 349.53,255.23 L351.47,284.36 A29.2,29.2 0 0 0 349.54,284.56Z" fill="#98c5ca" stroke="#98c5ca" stroke-width="0.3"/>
<path d="M349.53,255.23 A58.4,58.4 0 0 1 353.40,255.10 L353.40,284.30 A29.2,29.2 0 0 0 351.47,284.36Z" fill="#40909a" stroke="#40909a" stroke-width="0.3"/>
<circle cx="353.4" cy="313.5" r="58.4" fill="none" stroke="#3a3a3a" stroke-width="0.6"/>
<circle cx="353.4" cy="313.5" r="29.2" fill="none" stroke="#3a3a3a" stroke-width="0.6"/>
<text x="318.50" y="257.50" font-size="9.8" text-anchor="middle" textLength="10.20" lengthAdjust="spacingAndGlyphs" stroke="#231f20" stroke-width="0.13">72</text>
<text x="386.80" y="257.50" font-size="9.8" text-anchor="middle" textLength="11.40" lengthAdjust="spacingAndGlyphs" stroke="#231f20" stroke-width="0.13">86</text>
<line x1="328.70" y1="254.10" x2="340.20" y2="257.50" stroke="#333" stroke-width="0.6" />
<line x1="376.90" y1="254.40" x2="353.10" y2="255.50" stroke="#333" stroke-width="0.6" />
<line x1="348.10" y1="285.30" x2="342.70" y2="304.00" stroke="#333" stroke-width="0.6" />
<line x1="350.70" y1="285.30" x2="361.80" y2="304.00" stroke="#333" stroke-width="0.6" />
<text x="339.90" y="314.00" font-size="9.8" text-anchor="middle" textLength="16.00" lengthAdjust="spacingAndGlyphs" stroke="#231f20" stroke-width="0.13">107</text>
<text x="366.90" y="314.00" font-size="9.8" text-anchor="middle" textLength="11.40" lengthAdjust="spacingAndGlyphs" stroke="#231f20" stroke-width="0.13">86</text>
<text x="357.20" y="360.10" font-size="9.8" text-anchor="middle" textLength="26.60" lengthAdjust="spacingAndGlyphs" stroke="#231f20" stroke-width="0.13">7,807</text>
<text x="449.10" y="270.60" font-size="10.3" textLength="58.20" lengthAdjust="spacingAndGlyphs" stroke="#231f20" stroke-width="0.13">Total = 8,158</text>
<rect x="434.30" y="304.20" width="9.40" height="9.40" fill="#5aade0" stroke="#444" stroke-width="0.6" />
<text x="449.50" y="312.30" font-size="10.3" textLength="43.00" lengthAdjust="spacingAndGlyphs" stroke="#231f20" stroke-width="0.13">Microglia</text>
<rect x="434.30" y="318.45" width="9.40" height="9.40" fill="#2b4b80" stroke="#444" stroke-width="0.6" />
<text x="449.50" y="326.55" font-size="10.3" textLength="34.30" lengthAdjust="spacingAndGlyphs" stroke="#231f20" stroke-width="0.13">Neuron</text>
<rect x="434.30" y="332.70" width="9.40" height="9.40" fill="#98c5ca" stroke="#444" stroke-width="0.6" />
<text x="449.50" y="340.80" font-size="10.3" textLength="45.00" lengthAdjust="spacingAndGlyphs" stroke="#231f20" stroke-width="0.13">Astrocyte</text>
<rect x="434.30" y="346.95" width="9.40" height="9.40" fill="#40909a" stroke="#444" stroke-width="0.6" />
<text x="449.50" y="355.05" font-size="10.3" textLength="80.60" lengthAdjust="spacingAndGlyphs" stroke="#231f20" stroke-width="0.13">Oligodendrocyte</text>
<rect x="434.30" y="361.20" width="9.40" height="9.40" fill="#7f7f7f" stroke="#444" stroke-width="0.6" />
<text x="449.50" y="369.30" font-size="10.3" textLength="24.80" lengthAdjust="spacingAndGlyphs" stroke="#231f20" stroke-width="0.13">None</text>
<text x="599.30" y="245.70" font-size="10.4" text-anchor="middle" textLength="78.40" lengthAdjust="spacingAndGlyphs" stroke="#231f20" stroke-width="0.13">Distal enhancers</text>
<path d="M604.60,255.20 A58.3,58.3 0 1 1 550.62,335.52 L577.75,324.45 A29.0,29.0 0 1 0 604.60,284.50Z" fill="#7f7f7f" stroke="#7f7f7f" stroke-width="0.3"/>
<path d="M550.62,335.52 A58.3,58.3 0 0 1 546.30,313.89 L575.60,313.70 A29.0,29.0 0 0 0 577.75,324.45Z" fill="#5aade0" stroke="#5aade0" stroke-width="0.3"/>
<path d="M546.30,313.89 A58.3,58.3 0 0 1 553.16,286.06 L579.01,299.85 A29.0,29.0 0 0 0 575.60,313.70Z" fill="#2b4b80" stroke="#2b4b80" stroke-width="0.3"/>
<path d="M553.16,286.06 A58.3,58.3 0 0 1 560.70,275.14 L582.76,294.42 A29.0,29.0 0 0 0 579.01,299.85Z" fill="#98c5ca" stroke="#98c5ca" stroke-width="0.3"/>
<path d="M560.70,275.14 A58.3,58.3 0 0 1 604.60,255.20 L604.60,284.50 A29.0,29.0 0 0 0 582.76,294.42Z" fill="#40909a" stroke="#40909a" stroke-width="0.3"/>
<circle cx="604.6" cy="313.5" r="58.3" fill="none" stroke="#3a3a3a" stroke-width="0.6"/>
<circle cx="604.6" cy="313.5" r="29.0" fill="none" stroke="#3a3a3a" stroke-width="0.6"/>
<text x="588.10" y="277.50" font-size="8.8" text-anchor="middle" stroke="#231f20" stroke-width="0.13">1,107</text>
<text x="568.70" y="290.50" font-size="8.8" text-anchor="middle" stroke="#231f20" stroke-width="0.13">296</text>
<text x="563.80" y="308.00" font-size="8.8" text-anchor="middle" stroke="#231f20" stroke-width="0.13">645</text>
<text x="563.80" y="327.30" font-size="8.8" text-anchor="middle" stroke="#231f20" stroke-width="0.13">494</text>
<text x="646.00" y="328.70" font-size="8.8" text-anchor="middle" stroke="#231f20" stroke-width="0.13">5,615</text>
<text x="256.40" y="407.80" font-size="14" textLength="5.60" lengthAdjust="spacingAndGlyphs" fill="#000" font-weight="bold">f</text>
<ellipse cx="353.8" cy="463.5" rx="38.40" ry="37.50" fill="#d6d6d6"/>
<ellipse cx="292.35" cy="462.6" rx="38.45" ry="37.90" fill="#f4a78c"/>
<clipPath id="cp292"><ellipse cx="292.35" cy="462.6" rx="38.45" ry="37.90"/></clipPath>
<ellipse cx="353.8" cy="463.5" rx="38.40" ry="37.50" fill="#df937b" clip-path="url(#cp292)"/>
<ellipse cx="292.35" cy="462.6" rx="38.45" ry="37.90" fill="none" stroke="#5a5a5a" stroke-width="0.9"/>
<ellipse cx="353.8" cy="463.5" rx="38.40" ry="37.50" fill="none" stroke="#111" stroke-width="1.2"/>
<ellipse cx="353.8" cy="463.5" rx="38.40" ry="37.50" fill="none" stroke="#9a5440" stroke-width="1.2" clip-path="url(#cp292)"/>
<ellipse cx="499.35" cy="461.2" rx="38.35" ry="37.60" fill="#bdd8f0"/>
<ellipse cx="440.2" cy="461.2" rx="38.70" ry="37.80" fill="#f4a78c"/>
<clipPath id="cp440"><ellipse cx="440.2" cy="461.2" rx="38.70" ry="37.80"/></clipPath>
<ellipse cx="499.35" cy="461.2" rx="38.35" ry="37.60" fill="#d59686" clip-path="url(#cp440)"/>
<ellipse cx="440.2" cy="461.2" rx="38.70" ry="37.80" fill="none" stroke="#5a5a5a" stroke-width="0.9"/>
<ellipse cx="499.35" cy="461.2" rx="38.35" ry="37.60" fill="none" stroke="#111" stroke-width="1.2"/>
<ellipse cx="499.35" cy="461.2" rx="38.35" ry="37.60" fill="none" stroke="#9a5440" stroke-width="1.2" clip-path="url(#cp440)"/>
<ellipse cx="645.2" cy="457.35" rx="38.50" ry="37.25" fill="#4270b7"/>
<ellipse cx="590.4" cy="457.7" rx="38.70" ry="37.40" fill="#f4a78c"/>
<clipPath id="cp590"><ellipse cx="590.4" cy="457.7" rx="38.70" ry="37.40"/></clipPath>
<ellipse cx="645.2" cy="457.35" rx="38.50" ry="37.25" fill="#a76a72" clip-path="url(#cp590)"/>
<ellipse cx="590.4" cy="457.7" rx="38.70" ry="37.40" fill="none" stroke="#5a5a5a" stroke-width="0.9"/>
<ellipse cx="645.2" cy="457.35" rx="38.50" ry="37.25" fill="none" stroke="#111" stroke-width="1.2"/>
<ellipse cx="645.2" cy="457.35" rx="38.50" ry="37.25" fill="none" stroke="#6e3c3a" stroke-width="1.2" clip-path="url(#cp590)"/>
<text stroke="#231f20" stroke-width="0.13" x="308.30" y="423.40" font-size="9.5" textLength="65.30" lengthAdjust="spacingAndGlyphs"><tspan font-style="italic">P</tspan> &lt; 7.86 × 10<tspan font-size="6.5" dy="-3.6">–5</tspan></text>
<text stroke="#231f20" stroke-width="0.13" x="455.80" y="420.30" font-size="9.5" textLength="67.20" lengthAdjust="spacingAndGlyphs"><tspan font-style="italic">P</tspan> &lt; 3.08 × 10<tspan font-size="6.5" dy="-3.6">–8</tspan></text>
<text stroke="#231f20" stroke-width="0.13" x="601.50" y="415.70" font-size="9.5" textLength="68.80" lengthAdjust="spacingAndGlyphs"><tspan font-style="italic">P</tspan> &lt; 2.98 × 10<tspan font-size="6.5" dy="-3.6">–19</tspan></text>
<text x="289.10" y="468.10" font-size="9.8" text-anchor="middle" textLength="24.50" lengthAdjust="spacingAndGlyphs" stroke="#231f20" stroke-width="0.13">3,787</text>
<text x="323.00" y="468.10" font-size="9.8" text-anchor="middle" textLength="16.40" lengthAdjust="spacingAndGlyphs" stroke="#231f20" stroke-width="0.13">138</text>
<text x="359.60" y="468.10" font-size="9.8" text-anchor="middle" textLength="25.70" lengthAdjust="spacingAndGlyphs" stroke="#231f20" stroke-width="0.13">1,844</text>
<text x="439.00" y="468.10" font-size="9.8" text-anchor="middle" textLength="24.20" lengthAdjust="spacingAndGlyphs" stroke="#231f20" stroke-width="0.13">3,777</text>
<text x="468.50" y="468.10" font-size="9.8" text-anchor="middle" textLength="15.60" lengthAdjust="spacingAndGlyphs" stroke="#231f20" stroke-width="0.13">198</text>
<text x="501.00" y="468.10" font-size="9.8" text-anchor="middle" textLength="21.50" lengthAdjust="spacingAndGlyphs" stroke="#231f20" stroke-width="0.13">1,713</text>
<text x="582.80" y="461.10" font-size="9.8" text-anchor="middle" textLength="26.60" lengthAdjust="spacingAndGlyphs" stroke="#231f20" stroke-width="0.13">3,677</text>
<text x="617.50" y="461.10" font-size="9.8" text-anchor="middle" textLength="17.90" lengthAdjust="spacingAndGlyphs" stroke="#231f20" stroke-width="0.13">298</text>
<text x="649.90" y="461.10" font-size="9.8" text-anchor="middle" textLength="24.50" lengthAdjust="spacingAndGlyphs" stroke="#231f20" stroke-width="0.13">2,214</text>
<text x="286.90" y="510.80" font-size="10.2" text-anchor="middle" textLength="18.70" lengthAdjust="spacingAndGlyphs" stroke="#231f20" stroke-width="0.13">ASD</text>
<text x="360.50" y="510.80" font-size="10.2" text-anchor="middle" textLength="57.70" lengthAdjust="spacingAndGlyphs" stroke="#231f20" stroke-width="0.13">Control iMG</text>
<text x="434.30" y="510.80" font-size="10.2" text-anchor="middle" textLength="19.60" lengthAdjust="spacingAndGlyphs" stroke="#231f20" stroke-width="0.13">ASD</text>
<text x="506.00" y="510.80" font-size="10.2" text-anchor="middle" textLength="43.10" lengthAdjust="spacingAndGlyphs" stroke="#231f20" stroke-width="0.13">MHS iMG</text>
<text x="582.60" y="510.80" font-size="10.2" text-anchor="middle" textLength="19.20" lengthAdjust="spacingAndGlyphs" stroke="#231f20" stroke-width="0.13">ASD</text>
<text x="654.80" y="510.80" font-size="10.2" text-anchor="middle" textLength="35.70" lengthAdjust="spacingAndGlyphs" stroke="#231f20" stroke-width="0.13">KO iMG</text>
<rect x="311.10" y="540.90" width="9.20" height="8.60" fill="#f4a78c" stroke="#888" stroke-width="0.6" />
<text x="325.40" y="542.40" font-size="10.3" textLength="104.70" lengthAdjust="spacingAndGlyphs" stroke="#231f20" stroke-width="0.13">Ramaswami et al., Ref.</text>
<text x="434.80" y="537.70" font-size="6.5" textLength="8.20" lengthAdjust="spacingAndGlyphs" stroke="#231f20" stroke-width="0.13">53</text>
<text x="325.40" y="553.20" font-size="10.3" textLength="69.50" lengthAdjust="spacingAndGlyphs" stroke="#231f20" stroke-width="0.13">distal H3K27ac</text>
<text x="523.40" y="532.30" font-size="10.3" textLength="64.50" lengthAdjust="spacingAndGlyphs" stroke="#231f20" stroke-width="0.13">Current study</text>
<rect x="483.70" y="540.30" width="9.10" height="8.90" fill="#d4d4d4" stroke="#555" stroke-width="0.7" />
<text x="498.50" y="548.60" font-size="10.6" textLength="35.50" lengthAdjust="spacingAndGlyphs" stroke="#231f20" stroke-width="0.13">Control</text>
<rect x="550.20" y="540.30" width="9.10" height="8.90" fill="#bdd8f0" stroke="#555" stroke-width="0.7" />
<text x="564.80" y="548.60" font-size="10.6" textLength="21.40" lengthAdjust="spacingAndGlyphs" stroke="#231f20" stroke-width="0.13">MHS</text>
<rect x="602.00" y="540.30" width="9.10" height="8.90" fill="#3f6db5" stroke="#555" stroke-width="0.7" />
<text x="616.40" y="548.60" font-size="10.6" textLength="14.40" lengthAdjust="spacingAndGlyphs" stroke="#231f20" stroke-width="0.13">KO</text>
</g>
</svg>
</body></html>
